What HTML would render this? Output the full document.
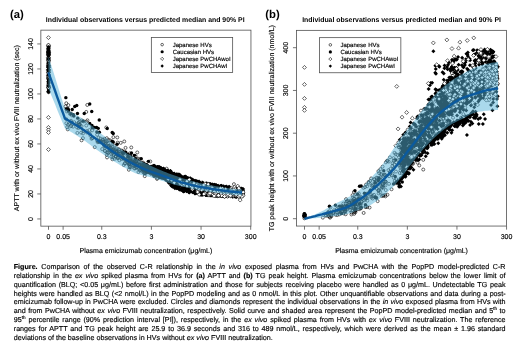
<!DOCTYPE html>
<html><head><meta charset="utf-8"><title>Figure</title>
<style>
html,body{margin:0;padding:0;background:#fff}
body{width:520px;height:347px;position:relative;overflow:hidden;font-family:"Liberation Sans",sans-serif;color:#000;text-rendering:geometricPrecision}
#w{position:absolute;left:0;top:0;width:520px;height:347px;will-change:transform}
svg{position:absolute;left:0;top:0;font-family:"Liberation Sans",sans-serif}
.box{fill:none;stroke:#505050;stroke-width:0.8}
.tk{stroke:#505050;stroke-width:0.8;fill:none}
.t{font-size:7px;fill:#000;stroke:#000;stroke-width:0.15px}
.lg{font-size:6.0px;fill:#000;stroke:#000;stroke-width:0.15px}
.ttl{font-size:6.92px;font-weight:bold;fill:#000}
.pl{font-size:11.3px;font-weight:bold;fill:#000}
.p{fill:#000;stroke:none}
.p .o{fill:none;stroke:#000;stroke-width:0.6}
.p .w{fill:#fff}
.band{fill:rgba(86,180,218,0.5);stroke:none}
.med{fill:none;stroke:#0b5a9e;stroke-width:2.4;stroke-linejoin:round;stroke-linecap:butt}
.cl{position:absolute;left:13.75px;width:491.8px;font-size:7.17px;line-height:8.81px;height:8.81px;white-space:nowrap;text-align:justify;text-align-last:justify;color:#000;-webkit-text-stroke:0.15px #000}
.cl.last{text-align:left;text-align-last:left}
.cl sup{font-size:4.6px;line-height:0;vertical-align:2.6px}
</style></head><body><div id="w">
<svg width="520" height="347" viewBox="0 0 520 347">
<g transform="translate(0.25,0.45)">
<text class="pl" x="9.8" y="17.6">(a)</text><text class="pl" x="265" y="17.6">(b)</text>
<rect class="box" x="40.6" y="29.7" width="210.10" height="196.00"/>
<path class="tk" d="M48.25,225.7v3.6"/>
<text class="t" x="48.25" y="238.9" text-anchor="middle">0</text>
<path class="tk" d="M62.86,225.7v3.6"/>
<text class="t" x="62.86" y="238.9" text-anchor="middle">0.05</text>
<path class="tk" d="M101.50,225.7v3.6"/>
<text class="t" x="101.50" y="238.9" text-anchor="middle">0.3</text>
<path class="tk" d="M151.15,225.7v3.6"/>
<text class="t" x="151.15" y="238.9" text-anchor="middle">3</text>
<path class="tk" d="M200.80,225.7v3.6"/>
<text class="t" x="200.80" y="238.9" text-anchor="middle">30</text>
<path class="tk" d="M250.45,225.7v3.6"/>
<text class="t" x="250.45" y="238.9" text-anchor="middle">300</text>
<path class="tk" d="M40.6,218.50h-3.6"/>
<text class="t" transform="translate(32.6,218.50) rotate(-90)" text-anchor="middle">0</text>
<path class="tk" d="M40.6,193.50h-3.6"/>
<text class="t" transform="translate(32.6,193.50) rotate(-90)" text-anchor="middle">20</text>
<path class="tk" d="M40.6,168.50h-3.6"/>
<text class="t" transform="translate(32.6,168.50) rotate(-90)" text-anchor="middle">40</text>
<path class="tk" d="M40.6,143.50h-3.6"/>
<text class="t" transform="translate(32.6,143.50) rotate(-90)" text-anchor="middle">60</text>
<path class="tk" d="M40.6,118.50h-3.6"/>
<text class="t" transform="translate(32.6,118.50) rotate(-90)" text-anchor="middle">80</text>
<path class="tk" d="M40.6,93.50h-3.6"/>
<text class="t" transform="translate(32.6,93.50) rotate(-90)" text-anchor="middle">100</text>
<path class="tk" d="M40.6,68.50h-3.6"/>
<text class="t" transform="translate(32.6,68.50) rotate(-90)" text-anchor="middle">120</text>
<path class="tk" d="M40.6,43.50h-3.6"/>
<text class="t" transform="translate(32.6,43.50) rotate(-90)" text-anchor="middle">140</text>
<text class="t" transform="translate(18.7,127.70) rotate(-90)" text-anchor="middle">APTT with or without ex vivo FVIII neutralization (sec)</text>
<text class="t" x="145.65" y="253" text-anchor="middle">Plasma emicizumab concentration (μg/mL)</text>
<text class="ttl" x="45.55" y="21.8">Individual observations versus predicted median and 90% PI</text>
<rect class="box" x="296.3" y="29.9" width="210.00" height="195.70"/>
<path class="tk" d="M304.25,225.6v3.6"/>
<text class="t" x="304.25" y="238.9" text-anchor="middle">0</text>
<path class="tk" d="M318.90,225.6v3.6"/>
<text class="t" x="318.90" y="238.9" text-anchor="middle">0.05</text>
<path class="tk" d="M357.50,225.6v3.6"/>
<text class="t" x="357.50" y="238.9" text-anchor="middle">0.3</text>
<path class="tk" d="M407.10,225.6v3.6"/>
<text class="t" x="407.10" y="238.9" text-anchor="middle">3</text>
<path class="tk" d="M456.70,225.6v3.6"/>
<text class="t" x="456.70" y="238.9" text-anchor="middle">30</text>
<path class="tk" d="M506.30,225.6v3.6"/>
<text class="t" x="506.30" y="238.9" text-anchor="middle">300</text>
<path class="tk" d="M296.3,218.25h-3.6"/>
<text class="t" transform="translate(288.2,218.25) rotate(-90)" text-anchor="middle">0</text>
<path class="tk" d="M296.3,175.50h-3.6"/>
<text class="t" transform="translate(288.2,175.50) rotate(-90)" text-anchor="middle">100</text>
<path class="tk" d="M296.3,132.75h-3.6"/>
<text class="t" transform="translate(288.2,132.75) rotate(-90)" text-anchor="middle">200</text>
<path class="tk" d="M296.3,90.00h-3.6"/>
<text class="t" transform="translate(288.2,90.00) rotate(-90)" text-anchor="middle">300</text>
<path class="tk" d="M296.3,47.25h-3.6"/>
<text class="t" transform="translate(288.2,47.25) rotate(-90)" text-anchor="middle">400</text>
<text class="t" transform="translate(273.6,127.75) rotate(-90)" text-anchor="middle">TG peak height with or without ex vivo FVIII neutralization (nmol/L)</text>
<text class="t" x="401.30" y="253" text-anchor="middle">Plasma emicizumab concentration (μg/mL)</text>
<text class="ttl" x="301.9" y="21.8">Individual observations versus predicted median and 90% PI</text>
<g class="p"><circle class="o" cx="48.3" cy="66.4" r="1.5"/><circle class="o" cx="48.5" cy="57.3" r="1.5"/><circle class="o" cx="48.4" cy="48.0" r="1.5"/><circle class="o" cx="48.2" cy="87.0" r="1.5"/><circle class="o" cx="48.2" cy="64.6" r="1.5"/><circle class="o" cx="48.2" cy="51.1" r="1.5"/><circle class="o" cx="48.3" cy="76.3" r="1.5"/><circle class="o" cx="48.2" cy="53.7" r="1.5"/><circle class="o" cx="48.4" cy="87.3" r="1.5"/><circle class="o" cx="48.0" cy="54.4" r="1.5"/><circle class="o" cx="48.5" cy="45.6" r="1.5"/><circle class="o" cx="48.2" cy="53.6" r="1.5"/><circle class="o" cx="48.4" cy="60.6" r="1.5"/><circle class="o" cx="48.2" cy="66.5" r="1.5"/><circle class="o" cx="48.2" cy="87.5" r="1.5"/><circle class="o" cx="48.3" cy="77.5" r="1.5"/><circle class="o" cx="48.4" cy="60.3" r="1.5"/><circle class="o" cx="48.2" cy="44.8" r="1.5"/><circle class="o" cx="48.2" cy="51.7" r="1.5"/><circle class="o" cx="48.4" cy="91.8" r="1.5"/><circle class="o" cx="48.1" cy="66.1" r="1.5"/><circle class="o" cx="48.0" cy="77.2" r="1.5"/><circle class="o" cx="48.3" cy="46.6" r="1.5"/><circle class="o" cx="48.1" cy="45.6" r="1.5"/><circle class="o" cx="48.0" cy="84.6" r="1.5"/><circle class="o" cx="48.1" cy="72.2" r="1.5"/><circle class="o" cx="48.2" cy="58.8" r="1.5"/><circle class="o" cx="48.1" cy="59.2" r="1.5"/><circle class="o" cx="48.0" cy="48.3" r="1.5"/><circle class="o" cx="48.3" cy="52.3" r="1.5"/><circle cx="48.2" cy="67.1" r="1.7"/><circle cx="48.4" cy="81.8" r="1.7"/><circle cx="48.2" cy="86.5" r="1.7"/><circle cx="48.2" cy="80.6" r="1.7"/><circle cx="48.3" cy="49.5" r="1.7"/><circle cx="48.1" cy="63.5" r="1.7"/><circle cx="48.3" cy="55.0" r="1.7"/><circle cx="48.2" cy="90.9" r="1.7"/><circle cx="48.3" cy="54.2" r="1.7"/><circle cx="48.2" cy="58.5" r="1.7"/><circle cx="48.4" cy="63.4" r="1.7"/><circle cx="48.3" cy="50.6" r="1.7"/><circle cx="48.2" cy="85.4" r="1.7"/><circle cx="48.3" cy="75.4" r="1.7"/><circle cx="48.4" cy="54.9" r="1.7"/><circle cx="48.5" cy="69.4" r="1.7"/><circle cx="48.0" cy="51.4" r="1.7"/><circle cx="48.4" cy="74.3" r="1.7"/><circle cx="48.3" cy="58.0" r="1.7"/><circle cx="48.2" cy="49.7" r="1.7"/><circle cx="48.1" cy="53.0" r="1.7"/><circle cx="48.4" cy="71.9" r="1.7"/><circle cx="48.1" cy="75.4" r="1.7"/><circle cx="48.3" cy="62.0" r="1.7"/><circle cx="48.4" cy="75.7" r="1.7"/><circle cx="48.0" cy="63.1" r="1.7"/><circle cx="48.2" cy="53.6" r="1.7"/><circle cx="48.1" cy="61.6" r="1.7"/><circle cx="48.3" cy="65.0" r="1.7"/><circle cx="48.5" cy="87.2" r="1.7"/><circle cx="48.6" cy="53.0" r="1.7"/><circle cx="48.0" cy="51.7" r="1.7"/><circle cx="48.2" cy="72.1" r="1.7"/><circle cx="48.4" cy="89.4" r="1.7"/><circle cx="48.5" cy="87.0" r="1.7"/><circle cx="48.3" cy="78.1" r="1.7"/><circle cx="48.1" cy="50.9" r="1.7"/><circle cx="48.3" cy="82.7" r="1.7"/><circle cx="48.2" cy="77.4" r="1.7"/><circle cx="48.2" cy="54.2" r="1.7"/><path class="o w" d="M48.1,67.0l1.95,1.95l-1.95,1.95l-1.95,-1.95z"/><path class="o w" d="M48.1,49.6l1.95,1.95l-1.95,1.95l-1.95,-1.95z"/><path class="o w" d="M48.2,67.9l1.95,1.95l-1.95,1.95l-1.95,-1.95z"/><path class="o w" d="M48.1,55.2l1.95,1.95l-1.95,1.95l-1.95,-1.95z"/><path class="o w" d="M48.2,73.3l1.95,1.95l-1.95,1.95l-1.95,-1.95z"/><path class="o w" d="M48.2,52.0l1.95,1.95l-1.95,1.95l-1.95,-1.95z"/><path class="o w" d="M48.3,76.4l1.95,1.95l-1.95,1.95l-1.95,-1.95z"/><path class="o w" d="M48.2,58.0l1.95,1.95l-1.95,1.95l-1.95,-1.95z"/><path class="o w" d="M48.0,64.6l1.95,1.95l-1.95,1.95l-1.95,-1.95z"/><path class="o w" d="M48.2,70.4l1.95,1.95l-1.95,1.95l-1.95,-1.95z"/><path class="o w" d="M48.3,62.9l1.95,1.95l-1.95,1.95l-1.95,-1.95z"/><path class="o w" d="M48.4,50.4l1.95,1.95l-1.95,1.95l-1.95,-1.95z"/><path class="o w" d="M48.3,85.1l1.95,1.95l-1.95,1.95l-1.95,-1.95z"/><path class="o w" d="M48.2,42.7l1.95,1.95l-1.95,1.95l-1.95,-1.95z"/><path d="M48.4,48.2l2,2l-2,2l-2,-2z"/><path d="M48.1,72.5l2,2l-2,2l-2,-2z"/><path d="M48.3,64.9l2,2l-2,2l-2,-2z"/><path d="M48.2,63.7l2,2l-2,2l-2,-2z"/><path d="M48.3,83.2l2,2l-2,2l-2,-2z"/><path d="M48.4,50.3l2,2l-2,2l-2,-2z"/><path d="M48.3,72.4l2,2l-2,2l-2,-2z"/><path d="M48.3,63.0l2,2l-2,2l-2,-2z"/><path d="M48.3,68.3l2,2l-2,2l-2,-2z"/><path d="M48.2,67.0l2,2l-2,2l-2,-2z"/><path d="M48.2,50.2l2,2l-2,2l-2,-2z"/><path d="M48.2,67.6l2,2l-2,2l-2,-2z"/><path d="M48.3,83.7l2,2l-2,2l-2,-2z"/><path d="M48.3,51.9l2,2l-2,2l-2,-2z"/><path d="M48.3,44.5l2,2l-2,2l-2,-2z"/><path d="M48.1,47.1l2,2l-2,2l-2,-2z"/><path d="M48.4,65.2l2,2l-2,2l-2,-2z"/><path d="M48.1,88.8l2,2l-2,2l-2,-2z"/><path d="M48.1,46.0l2,2l-2,2l-2,-2z"/><path d="M48.2,89.6l2,2l-2,2l-2,-2z"/><path d="M48.2,68.7l2,2l-2,2l-2,-2z"/><path d="M48.3,49.5l2,2l-2,2l-2,-2z"/><path d="M48.2,63.3l2,2l-2,2l-2,-2z"/><path d="M48.1,53.5l2,2l-2,2l-2,-2z"/><path d="M48.1,76.9l2,2l-2,2l-2,-2z"/><path d="M48.4,68.9l2,2l-2,2l-2,-2z"/><path d="M48.3,57.2l2,2l-2,2l-2,-2z"/><path d="M48.1,55.7l2,2l-2,2l-2,-2z"/><path d="M48.3,83.9l2,2l-2,2l-2,-2z"/><path d="M48.0,79.2l2,2l-2,2l-2,-2z"/><path class="o w" d="M48.2,35.2l1.95,1.95l-1.95,1.95l-1.95,-1.95z"/><path class="o w" d="M48.2,115.0l1.95,1.95l-1.95,1.95l-1.95,-1.95z"/><path class="o w" d="M48.2,125.0l1.95,1.95l-1.95,1.95l-1.95,-1.95z"/><path class="o w" d="M48.2,127.5l1.95,1.95l-1.95,1.95l-1.95,-1.95z"/><path class="o w" d="M48.2,130.1l1.95,1.95l-1.95,1.95l-1.95,-1.95z"/><path class="o w" d="M48.2,147.1l1.95,1.95l-1.95,1.95l-1.95,-1.95z"/><circle class="o" cx="80.9" cy="132.2" r="1.5"/><circle class="o" cx="79.8" cy="124.1" r="1.5"/><circle class="o" cx="91.9" cy="129.9" r="1.5"/><circle class="o" cx="100.4" cy="140.5" r="1.5"/><circle class="o" cx="67.8" cy="124.3" r="1.5"/><circle class="o" cx="70.7" cy="113.0" r="1.5"/><circle class="o" cx="78.2" cy="122.7" r="1.5"/><circle class="o" cx="83.5" cy="121.0" r="1.5"/><circle class="o" cx="67.5" cy="128.9" r="1.5"/><circle class="o" cx="66.9" cy="126.7" r="1.5"/><circle class="o" cx="72.9" cy="126.2" r="1.5"/><circle class="o" cx="79.0" cy="124.5" r="1.5"/><circle class="o" cx="92.0" cy="137.4" r="1.5"/><circle class="o" cx="87.2" cy="119.9" r="1.5"/><circle class="o" cx="66.0" cy="118.6" r="1.5"/><circle class="o" cx="66.6" cy="111.0" r="1.5"/><circle class="o" cx="81.5" cy="120.0" r="1.5"/><circle class="o" cx="96.9" cy="134.3" r="1.5"/><circle class="o" cx="98.4" cy="137.3" r="1.5"/><circle class="o" cx="78.3" cy="127.6" r="1.5"/><circle class="o" cx="97.4" cy="141.7" r="1.5"/><circle class="o" cx="98.9" cy="140.8" r="1.5"/><circle class="o" cx="79.8" cy="120.9" r="1.5"/><circle class="o" cx="92.2" cy="137.6" r="1.5"/><circle class="o" cx="78.3" cy="124.1" r="1.5"/><circle class="o" cx="70.5" cy="125.8" r="1.5"/><circle class="o" cx="86.0" cy="125.1" r="1.5"/><circle class="o" cx="68.1" cy="104.7" r="1.5"/><circle class="o" cx="89.2" cy="129.6" r="1.5"/><circle class="o" cx="94.5" cy="146.7" r="1.5"/><circle class="o" cx="98.4" cy="141.4" r="1.5"/><circle class="o" cx="81.3" cy="125.7" r="1.5"/><circle class="o" cx="69.2" cy="123.5" r="1.5"/><circle class="o" cx="97.9" cy="141.2" r="1.5"/><circle class="o" cx="96.8" cy="140.0" r="1.5"/><circle class="o" cx="100.3" cy="138.1" r="1.5"/><circle class="o" cx="86.6" cy="130.6" r="1.5"/><circle class="o" cx="89.6" cy="133.3" r="1.5"/><circle class="o" cx="78.6" cy="121.6" r="1.5"/><circle class="o" cx="71.6" cy="114.9" r="1.5"/><circle class="o" cx="75.6" cy="123.7" r="1.5"/><circle class="o" cx="91.3" cy="138.4" r="1.5"/><circle class="o" cx="76.8" cy="127.1" r="1.5"/><circle class="o" cx="90.2" cy="135.3" r="1.5"/><circle class="o" cx="83.3" cy="130.6" r="1.5"/><circle class="o" cx="81.3" cy="139.9" r="1.5"/><circle class="o" cx="100.3" cy="141.8" r="1.5"/><circle class="o" cx="71.0" cy="125.4" r="1.5"/><circle class="o" cx="82.7" cy="137.7" r="1.5"/><circle class="o" cx="70.8" cy="120.3" r="1.5"/><circle class="o" cx="99.2" cy="141.0" r="1.5"/><circle class="o" cx="82.8" cy="133.0" r="1.5"/><circle class="o" cx="77.1" cy="132.5" r="1.5"/><circle class="o" cx="71.1" cy="121.8" r="1.5"/><circle class="o" cx="86.7" cy="132.1" r="1.5"/><circle class="o" cx="79.5" cy="126.0" r="1.5"/><circle class="o" cx="69.6" cy="113.3" r="1.5"/><circle class="o" cx="66.1" cy="122.8" r="1.5"/><circle class="o" cx="79.2" cy="124.0" r="1.5"/><circle class="o" cx="86.3" cy="121.2" r="1.5"/><circle class="o" cx="161.4" cy="173.8" r="1.5"/><circle class="o" cx="199.8" cy="182.7" r="1.5"/><circle class="o" cx="200.9" cy="184.2" r="1.5"/><circle class="o" cx="203.3" cy="186.5" r="1.5"/><circle class="o" cx="189.9" cy="181.8" r="1.5"/><circle class="o" cx="157.1" cy="175.4" r="1.5"/><circle class="o" cx="161.9" cy="170.7" r="1.5"/><circle class="o" cx="148.6" cy="170.4" r="1.5"/><circle class="o" cx="148.8" cy="171.3" r="1.5"/><circle class="o" cx="107.7" cy="152.9" r="1.5"/><circle class="o" cx="189.8" cy="185.4" r="1.5"/><circle class="o" cx="132.1" cy="162.7" r="1.5"/><circle class="o" cx="106.0" cy="145.4" r="1.5"/><circle class="o" cx="155.9" cy="172.1" r="1.5"/><circle class="o" cx="181.7" cy="183.9" r="1.5"/><circle class="o" cx="152.7" cy="169.3" r="1.5"/><circle class="o" cx="145.0" cy="169.8" r="1.5"/><circle class="o" cx="175.7" cy="179.4" r="1.5"/><circle class="o" cx="122.6" cy="157.3" r="1.5"/><circle class="o" cx="103.4" cy="141.8" r="1.5"/><circle class="o" cx="168.9" cy="182.1" r="1.5"/><circle class="o" cx="162.6" cy="173.0" r="1.5"/><circle class="o" cx="196.4" cy="185.6" r="1.5"/><circle class="o" cx="150.6" cy="171.2" r="1.5"/><circle class="o" cx="188.5" cy="184.5" r="1.5"/><circle class="o" cx="104.4" cy="145.9" r="1.5"/><circle class="o" cx="105.7" cy="146.8" r="1.5"/><circle class="o" cx="169.6" cy="179.7" r="1.5"/><circle class="o" cx="129.9" cy="154.8" r="1.5"/><circle class="o" cx="111.0" cy="148.8" r="1.5"/><circle class="o" cx="118.5" cy="148.8" r="1.5"/><circle class="o" cx="146.2" cy="169.3" r="1.5"/><circle class="o" cx="142.1" cy="162.9" r="1.5"/><circle class="o" cx="166.0" cy="173.6" r="1.5"/><circle class="o" cx="198.5" cy="185.5" r="1.5"/><circle class="o" cx="145.2" cy="172.6" r="1.5"/><circle class="o" cx="125.1" cy="160.1" r="1.5"/><circle class="o" cx="167.5" cy="177.2" r="1.5"/><circle class="o" cx="101.9" cy="148.6" r="1.5"/><circle class="o" cx="147.2" cy="166.2" r="1.5"/><circle class="o" cx="139.9" cy="158.6" r="1.5"/><circle class="o" cx="147.5" cy="167.9" r="1.5"/><circle class="o" cx="108.9" cy="146.0" r="1.5"/><circle class="o" cx="165.0" cy="178.6" r="1.5"/><circle class="o" cx="172.2" cy="183.3" r="1.5"/><circle class="o" cx="184.8" cy="179.6" r="1.5"/><circle class="o" cx="205.4" cy="191.2" r="1.5"/><circle class="o" cx="144.0" cy="172.7" r="1.5"/><circle class="o" cx="175.5" cy="181.4" r="1.5"/><circle class="o" cx="153.3" cy="172.4" r="1.5"/><circle class="o" cx="128.6" cy="169.3" r="1.5"/><circle class="o" cx="198.7" cy="185.8" r="1.5"/><circle class="o" cx="184.5" cy="181.3" r="1.5"/><circle class="o" cx="204.0" cy="186.9" r="1.5"/><circle class="o" cx="192.0" cy="181.5" r="1.5"/><circle class="o" cx="201.5" cy="187.0" r="1.5"/><circle class="o" cx="118.5" cy="153.4" r="1.5"/><circle class="o" cx="104.1" cy="145.1" r="1.5"/><circle class="o" cx="126.7" cy="160.2" r="1.5"/><circle class="o" cx="150.2" cy="167.2" r="1.5"/><circle class="o" cx="178.6" cy="183.5" r="1.5"/><circle class="o" cx="152.9" cy="168.4" r="1.5"/><circle class="o" cx="160.8" cy="176.2" r="1.5"/><circle class="o" cx="186.0" cy="179.4" r="1.5"/><circle class="o" cx="111.4" cy="150.7" r="1.5"/><circle class="o" cx="177.7" cy="178.4" r="1.5"/><circle class="o" cx="108.6" cy="147.2" r="1.5"/><circle class="o" cx="132.4" cy="159.5" r="1.5"/><circle class="o" cx="182.1" cy="176.9" r="1.5"/><circle class="o" cx="178.2" cy="178.0" r="1.5"/><circle class="o" cx="149.4" cy="170.2" r="1.5"/><circle class="o" cx="137.5" cy="166.9" r="1.5"/><circle class="o" cx="192.7" cy="181.5" r="1.5"/><circle class="o" cx="135.3" cy="155.7" r="1.5"/><circle class="o" cx="106.3" cy="141.3" r="1.5"/><circle class="o" cx="132.2" cy="161.1" r="1.5"/><circle class="o" cx="104.9" cy="141.2" r="1.5"/><circle class="o" cx="190.9" cy="182.3" r="1.5"/><circle class="o" cx="117.8" cy="157.0" r="1.5"/><circle class="o" cx="207.0" cy="188.9" r="1.5"/><circle class="o" cx="128.4" cy="162.7" r="1.5"/><circle class="o" cx="138.7" cy="162.0" r="1.5"/><circle class="o" cx="168.2" cy="177.0" r="1.5"/><circle class="o" cx="139.0" cy="164.7" r="1.5"/><circle class="o" cx="146.7" cy="164.5" r="1.5"/><circle class="o" cx="115.6" cy="155.7" r="1.5"/><circle class="o" cx="147.7" cy="169.5" r="1.5"/><circle class="o" cx="105.4" cy="142.4" r="1.5"/><circle class="o" cx="129.6" cy="166.0" r="1.5"/><circle class="o" cx="200.7" cy="187.4" r="1.5"/><circle class="o" cx="135.9" cy="167.1" r="1.5"/><circle class="o" cx="134.9" cy="167.9" r="1.5"/><circle class="o" cx="177.8" cy="181.9" r="1.5"/><circle class="o" cx="198.1" cy="183.2" r="1.5"/><circle class="o" cx="137.6" cy="163.3" r="1.5"/><circle class="o" cx="146.3" cy="171.8" r="1.5"/><circle class="o" cx="181.4" cy="179.7" r="1.5"/><circle class="o" cx="189.1" cy="183.5" r="1.5"/><circle class="o" cx="171.1" cy="178.9" r="1.5"/><circle class="o" cx="124.5" cy="163.2" r="1.5"/><circle class="o" cx="124.7" cy="162.8" r="1.5"/><circle class="o" cx="185.7" cy="184.4" r="1.5"/><circle class="o" cx="180.6" cy="180.7" r="1.5"/><circle class="o" cx="199.4" cy="187.4" r="1.5"/><circle class="o" cx="187.9" cy="184.2" r="1.5"/><circle class="o" cx="151.1" cy="170.1" r="1.5"/><circle class="o" cx="119.1" cy="159.8" r="1.5"/><circle class="o" cx="198.8" cy="186.5" r="1.5"/><circle class="o" cx="179.4" cy="179.2" r="1.5"/><circle class="o" cx="167.3" cy="179.5" r="1.5"/><circle class="o" cx="178.0" cy="179.8" r="1.5"/><circle class="o" cx="147.3" cy="170.9" r="1.5"/><circle class="o" cx="142.8" cy="162.1" r="1.5"/><circle class="o" cx="167.2" cy="176.4" r="1.5"/><circle class="o" cx="157.6" cy="170.3" r="1.5"/><circle class="o" cx="180.8" cy="179.1" r="1.5"/><circle class="o" cx="203.3" cy="183.1" r="1.5"/><circle class="o" cx="194.6" cy="188.8" r="1.5"/><circle class="o" cx="147.5" cy="168.7" r="1.5"/><circle class="o" cx="145.9" cy="169.3" r="1.5"/><circle class="o" cx="202.4" cy="188.3" r="1.5"/><circle class="o" cx="148.3" cy="169.1" r="1.5"/><circle class="o" cx="189.9" cy="184.7" r="1.5"/><circle class="o" cx="114.2" cy="145.3" r="1.5"/><circle class="o" cx="154.3" cy="172.2" r="1.5"/><circle class="o" cx="161.1" cy="173.0" r="1.5"/><circle class="o" cx="190.8" cy="184.8" r="1.5"/><circle class="o" cx="197.6" cy="185.7" r="1.5"/><circle class="o" cx="121.4" cy="150.1" r="1.5"/><circle class="o" cx="171.5" cy="173.8" r="1.5"/><circle class="o" cx="172.7" cy="176.2" r="1.5"/><circle class="o" cx="121.3" cy="158.6" r="1.5"/><circle class="o" cx="193.2" cy="185.2" r="1.5"/><circle class="o" cx="164.9" cy="176.5" r="1.5"/><circle class="o" cx="205.8" cy="183.5" r="1.5"/><circle class="o" cx="125.3" cy="147.4" r="1.5"/><circle class="o" cx="162.0" cy="172.8" r="1.5"/><circle class="o" cx="140.6" cy="165.0" r="1.5"/><circle class="o" cx="174.1" cy="177.6" r="1.5"/><circle class="o" cx="170.5" cy="178.5" r="1.5"/><circle class="o" cx="160.7" cy="173.5" r="1.5"/><circle class="o" cx="140.8" cy="162.2" r="1.5"/><circle class="o" cx="159.8" cy="171.3" r="1.5"/><circle class="o" cx="145.9" cy="168.9" r="1.5"/><circle class="o" cx="198.9" cy="185.8" r="1.5"/><circle class="o" cx="155.4" cy="171.8" r="1.5"/><circle class="o" cx="156.8" cy="178.5" r="1.5"/><circle class="o" cx="133.5" cy="161.6" r="1.5"/><circle class="o" cx="133.0" cy="162.8" r="1.5"/><circle class="o" cx="205.0" cy="185.1" r="1.5"/><circle class="o" cx="139.6" cy="164.4" r="1.5"/><circle class="o" cx="196.7" cy="186.1" r="1.5"/><circle class="o" cx="169.2" cy="178.5" r="1.5"/><circle class="o" cx="207.6" cy="187.0" r="1.5"/><circle class="o" cx="122.7" cy="158.0" r="1.5"/><circle class="o" cx="203.8" cy="186.7" r="1.5"/><circle class="o" cx="187.1" cy="179.1" r="1.5"/><circle class="o" cx="166.4" cy="168.2" r="1.5"/><circle class="o" cx="180.8" cy="186.2" r="1.5"/><circle class="o" cx="182.1" cy="183.3" r="1.5"/><circle class="o" cx="154.0" cy="171.4" r="1.5"/><circle class="o" cx="173.2" cy="174.7" r="1.5"/><circle class="o" cx="130.1" cy="155.8" r="1.5"/><circle class="o" cx="104.9" cy="150.5" r="1.5"/><circle class="o" cx="177.5" cy="174.0" r="1.5"/><circle class="o" cx="156.7" cy="171.6" r="1.5"/><circle class="o" cx="200.3" cy="187.5" r="1.5"/><circle class="o" cx="134.1" cy="163.5" r="1.5"/><circle class="o" cx="191.7" cy="185.5" r="1.5"/><circle class="o" cx="208.2" cy="187.2" r="1.5"/><circle class="o" cx="199.6" cy="190.1" r="1.5"/><circle class="o" cx="206.1" cy="185.2" r="1.5"/><circle class="o" cx="122.2" cy="150.6" r="1.5"/><circle class="o" cx="122.9" cy="157.6" r="1.5"/><circle class="o" cx="130.1" cy="166.2" r="1.5"/><circle class="o" cx="144.7" cy="167.8" r="1.5"/><circle class="o" cx="117.0" cy="157.2" r="1.5"/><circle class="o" cx="121.2" cy="153.3" r="1.5"/><circle class="o" cx="104.5" cy="138.3" r="1.5"/><circle class="o" cx="203.0" cy="188.9" r="1.5"/><circle class="o" cx="144.7" cy="172.9" r="1.5"/><circle class="o" cx="172.4" cy="181.9" r="1.5"/><circle class="o" cx="154.6" cy="170.6" r="1.5"/><circle class="o" cx="184.2" cy="179.7" r="1.5"/><circle class="o" cx="190.5" cy="181.4" r="1.5"/><circle class="o" cx="147.0" cy="168.3" r="1.5"/><circle class="o" cx="163.1" cy="176.2" r="1.5"/><circle class="o" cx="114.8" cy="153.5" r="1.5"/><circle class="o" cx="136.5" cy="158.9" r="1.5"/><circle class="o" cx="129.5" cy="161.1" r="1.5"/><circle class="o" cx="139.0" cy="165.4" r="1.5"/><circle class="o" cx="140.7" cy="166.5" r="1.5"/><circle class="o" cx="167.2" cy="176.3" r="1.5"/><circle class="o" cx="141.6" cy="165.9" r="1.5"/><circle class="o" cx="141.0" cy="168.3" r="1.5"/><circle class="o" cx="193.0" cy="184.6" r="1.5"/><circle class="o" cx="103.5" cy="144.2" r="1.5"/><circle class="o" cx="102.5" cy="139.0" r="1.5"/><circle class="o" cx="109.7" cy="149.5" r="1.5"/><circle class="o" cx="196.4" cy="184.9" r="1.5"/><circle class="o" cx="173.2" cy="173.8" r="1.5"/><circle class="o" cx="182.7" cy="182.7" r="1.5"/><circle class="o" cx="205.4" cy="186.4" r="1.5"/><circle class="o" cx="128.9" cy="163.6" r="1.5"/><circle class="o" cx="201.7" cy="185.9" r="1.5"/><circle class="o" cx="131.7" cy="161.2" r="1.5"/><circle class="o" cx="161.4" cy="174.7" r="1.5"/><circle class="o" cx="178.0" cy="180.3" r="1.5"/><circle class="o" cx="189.6" cy="182.7" r="1.5"/><circle class="o" cx="132.3" cy="155.1" r="1.5"/><circle class="o" cx="157.0" cy="177.4" r="1.5"/><circle class="o" cx="108.2" cy="139.6" r="1.5"/><circle class="o" cx="136.7" cy="163.0" r="1.5"/><circle class="o" cx="207.7" cy="188.4" r="1.5"/><circle class="o" cx="200.3" cy="186.6" r="1.5"/><circle class="o" cx="167.9" cy="178.0" r="1.5"/><circle class="o" cx="188.5" cy="184.8" r="1.5"/><circle class="o" cx="200.0" cy="188.1" r="1.5"/><circle class="o" cx="141.5" cy="167.6" r="1.5"/><circle class="o" cx="207.6" cy="192.3" r="1.5"/><circle class="o" cx="154.0" cy="168.8" r="1.5"/><circle class="o" cx="122.1" cy="157.0" r="1.5"/><circle class="o" cx="162.5" cy="173.7" r="1.5"/><circle class="o" cx="169.1" cy="175.8" r="1.5"/><circle class="o" cx="179.2" cy="181.3" r="1.5"/><circle class="o" cx="176.9" cy="183.2" r="1.5"/><circle class="o" cx="107.7" cy="143.0" r="1.5"/><circle class="o" cx="173.7" cy="177.2" r="1.5"/><circle class="o" cx="201.9" cy="187.5" r="1.5"/><circle class="o" cx="176.9" cy="181.2" r="1.5"/><circle class="o" cx="207.1" cy="190.6" r="1.5"/><circle class="o" cx="160.6" cy="176.5" r="1.5"/><circle class="o" cx="190.9" cy="184.3" r="1.5"/><circle class="o" cx="119.9" cy="153.4" r="1.5"/><circle class="o" cx="199.3" cy="186.1" r="1.5"/><circle class="o" cx="152.7" cy="170.6" r="1.5"/><circle class="o" cx="197.5" cy="182.8" r="1.5"/><circle class="o" cx="140.3" cy="166.0" r="1.5"/><circle class="o" cx="172.2" cy="177.9" r="1.5"/><circle class="o" cx="194.5" cy="184.2" r="1.5"/><circle class="o" cx="181.0" cy="180.3" r="1.5"/><circle class="o" cx="171.8" cy="182.1" r="1.5"/><circle class="o" cx="206.7" cy="188.3" r="1.5"/><circle class="o" cx="113.6" cy="154.6" r="1.5"/><circle class="o" cx="115.3" cy="149.2" r="1.5"/><circle class="o" cx="164.7" cy="172.9" r="1.5"/><circle class="o" cx="205.1" cy="186.3" r="1.5"/><circle class="o" cx="178.5" cy="181.0" r="1.5"/><circle class="o" cx="139.1" cy="164.2" r="1.5"/><circle class="o" cx="116.0" cy="151.4" r="1.5"/><circle class="o" cx="154.0" cy="174.2" r="1.5"/><circle class="o" cx="157.3" cy="173.5" r="1.5"/><circle class="o" cx="156.1" cy="169.7" r="1.5"/><circle class="o" cx="171.7" cy="177.1" r="1.5"/><circle class="o" cx="135.1" cy="161.0" r="1.5"/><circle class="o" cx="197.8" cy="185.7" r="1.5"/><circle class="o" cx="136.8" cy="160.0" r="1.5"/><circle class="o" cx="116.0" cy="151.4" r="1.5"/><circle class="o" cx="143.4" cy="169.6" r="1.5"/><circle class="o" cx="203.3" cy="186.5" r="1.5"/><circle class="o" cx="122.2" cy="152.4" r="1.5"/><circle class="o" cx="135.6" cy="161.4" r="1.5"/><circle class="o" cx="202.4" cy="186.5" r="1.5"/><circle class="o" cx="143.3" cy="168.9" r="1.5"/><circle class="o" cx="194.2" cy="186.2" r="1.5"/><circle class="o" cx="108.2" cy="146.0" r="1.5"/><circle class="o" cx="198.6" cy="183.2" r="1.5"/><circle class="o" cx="131.1" cy="166.8" r="1.5"/><circle class="o" cx="124.7" cy="158.7" r="1.5"/><circle class="o" cx="184.1" cy="183.0" r="1.5"/><circle class="o" cx="208.5" cy="188.0" r="1.5"/><circle class="o" cx="205.6" cy="185.1" r="1.5"/><circle class="o" cx="185.1" cy="181.7" r="1.5"/><circle class="o" cx="201.2" cy="186.6" r="1.5"/><circle class="o" cx="208.3" cy="189.2" r="1.5"/><circle class="o" cx="164.9" cy="175.6" r="1.5"/><circle class="o" cx="120.5" cy="142.4" r="1.5"/><circle class="o" cx="194.8" cy="184.3" r="1.5"/><circle class="o" cx="148.4" cy="170.6" r="1.5"/><circle class="o" cx="139.4" cy="170.1" r="1.5"/><circle class="o" cx="159.5" cy="175.3" r="1.5"/><circle class="o" cx="106.8" cy="157.0" r="1.5"/><circle class="o" cx="104.5" cy="150.5" r="1.5"/><circle class="o" cx="134.1" cy="168.0" r="1.5"/><circle class="o" cx="169.3" cy="179.4" r="1.5"/><circle class="o" cx="184.8" cy="179.4" r="1.5"/><circle class="o" cx="205.4" cy="188.4" r="1.5"/><circle class="o" cx="191.7" cy="185.2" r="1.5"/><circle class="o" cx="203.8" cy="185.7" r="1.5"/><circle class="o" cx="173.4" cy="180.1" r="1.5"/><circle class="o" cx="183.3" cy="182.8" r="1.5"/><circle class="o" cx="168.4" cy="175.8" r="1.5"/><circle class="o" cx="112.8" cy="149.5" r="1.5"/><circle class="o" cx="110.3" cy="147.1" r="1.5"/><circle class="o" cx="185.9" cy="183.1" r="1.5"/><circle class="o" cx="127.1" cy="157.4" r="1.5"/><circle class="o" cx="188.9" cy="184.4" r="1.5"/><circle class="o" cx="155.6" cy="167.0" r="1.5"/><circle class="o" cx="102.7" cy="141.1" r="1.5"/><circle class="o" cx="165.8" cy="171.8" r="1.5"/><circle class="o" cx="153.4" cy="170.0" r="1.5"/><circle class="o" cx="111.9" cy="151.6" r="1.5"/><circle class="o" cx="133.8" cy="162.8" r="1.5"/><circle class="o" cx="138.8" cy="164.9" r="1.5"/><circle class="o" cx="143.0" cy="167.5" r="1.5"/><circle class="o" cx="180.6" cy="184.5" r="1.5"/><circle class="o" cx="123.1" cy="152.2" r="1.5"/><circle class="o" cx="153.5" cy="173.8" r="1.5"/><circle class="o" cx="170.4" cy="174.1" r="1.5"/><circle class="o" cx="204.3" cy="185.9" r="1.5"/><circle class="o" cx="116.9" cy="153.5" r="1.5"/><circle class="o" cx="112.5" cy="146.2" r="1.5"/><circle class="o" cx="125.9" cy="159.1" r="1.5"/><circle class="o" cx="129.2" cy="163.0" r="1.5"/><circle class="o" cx="122.6" cy="151.6" r="1.5"/><circle class="o" cx="112.1" cy="149.2" r="1.5"/><circle class="o" cx="128.0" cy="158.0" r="1.5"/><circle class="o" cx="129.5" cy="152.9" r="1.5"/><circle class="o" cx="157.3" cy="172.2" r="1.5"/><circle class="o" cx="174.6" cy="177.4" r="1.5"/><circle class="o" cx="145.0" cy="172.3" r="1.5"/><circle class="o" cx="123.2" cy="153.2" r="1.5"/><circle class="o" cx="114.4" cy="158.4" r="1.5"/><circle class="o" cx="134.0" cy="160.8" r="1.5"/><circle class="o" cx="123.5" cy="164.6" r="1.5"/><circle class="o" cx="157.4" cy="174.1" r="1.5"/><circle class="o" cx="196.9" cy="186.1" r="1.5"/><circle class="o" cx="181.5" cy="183.1" r="1.5"/><circle class="o" cx="127.3" cy="162.6" r="1.5"/><circle class="o" cx="106.9" cy="152.1" r="1.5"/><circle class="o" cx="111.1" cy="156.3" r="1.5"/><circle class="o" cx="152.7" cy="170.1" r="1.5"/><circle class="o" cx="145.0" cy="164.1" r="1.5"/><circle class="o" cx="178.1" cy="174.5" r="1.5"/><circle class="o" cx="113.1" cy="148.6" r="1.5"/><circle class="o" cx="133.0" cy="165.2" r="1.5"/><circle class="o" cx="178.4" cy="181.3" r="1.5"/><circle class="o" cx="166.4" cy="176.4" r="1.5"/><circle class="o" cx="161.1" cy="173.2" r="1.5"/><circle class="o" cx="199.9" cy="184.7" r="1.5"/><circle class="o" cx="116.7" cy="151.5" r="1.5"/><circle class="o" cx="126.4" cy="160.1" r="1.5"/><circle class="o" cx="166.2" cy="171.7" r="1.5"/><circle class="o" cx="166.2" cy="177.8" r="1.5"/><circle class="o" cx="207.6" cy="184.8" r="1.5"/><circle class="o" cx="207.3" cy="187.0" r="1.5"/><circle class="o" cx="168.4" cy="175.4" r="1.5"/><circle class="o" cx="185.8" cy="181.8" r="1.5"/><circle class="o" cx="179.6" cy="178.5" r="1.5"/><circle class="o" cx="119.1" cy="149.5" r="1.5"/><circle class="o" cx="170.0" cy="176.9" r="1.5"/><circle class="o" cx="138.7" cy="161.4" r="1.5"/><circle class="o" cx="144.5" cy="175.7" r="1.5"/><circle class="o" cx="121.8" cy="154.2" r="1.5"/><circle class="o" cx="103.0" cy="139.5" r="1.5"/><circle class="o" cx="195.2" cy="183.8" r="1.5"/><circle class="o" cx="181.6" cy="179.1" r="1.5"/><circle class="o" cx="185.1" cy="177.3" r="1.5"/><circle class="o" cx="136.7" cy="163.3" r="1.5"/><circle class="o" cx="150.7" cy="171.3" r="1.5"/><circle class="o" cx="124.1" cy="151.3" r="1.5"/><circle class="o" cx="169.9" cy="177.5" r="1.5"/><circle class="o" cx="193.8" cy="182.2" r="1.5"/><circle class="o" cx="187.8" cy="183.0" r="1.5"/><circle class="o" cx="203.1" cy="187.1" r="1.5"/><circle class="o" cx="133.7" cy="164.5" r="1.5"/><circle class="o" cx="180.0" cy="181.9" r="1.5"/><circle class="o" cx="118.3" cy="150.8" r="1.5"/><circle class="o" cx="163.2" cy="177.0" r="1.5"/><circle class="o" cx="116.4" cy="150.5" r="1.5"/><circle class="o" cx="163.6" cy="175.8" r="1.5"/><circle class="o" cx="163.8" cy="176.8" r="1.5"/><circle class="o" cx="143.2" cy="166.3" r="1.5"/><circle class="o" cx="143.4" cy="163.2" r="1.5"/><circle class="o" cx="181.0" cy="182.5" r="1.5"/><circle class="o" cx="157.4" cy="169.8" r="1.5"/><circle class="o" cx="149.7" cy="167.4" r="1.5"/><circle class="o" cx="116.6" cy="148.0" r="1.5"/><circle class="o" cx="136.1" cy="167.0" r="1.5"/><circle class="o" cx="194.6" cy="184.4" r="1.5"/><circle class="o" cx="206.8" cy="183.2" r="1.5"/><circle class="o" cx="146.0" cy="170.8" r="1.5"/><circle class="o" cx="196.9" cy="189.0" r="1.5"/><circle class="o" cx="197.2" cy="188.6" r="1.5"/><circle class="o" cx="128.9" cy="157.8" r="1.5"/><circle class="o" cx="135.2" cy="163.7" r="1.5"/><circle class="o" cx="179.5" cy="181.9" r="1.5"/><circle class="o" cx="138.7" cy="168.4" r="1.5"/><circle class="o" cx="205.2" cy="186.9" r="1.5"/><circle class="o" cx="145.1" cy="164.7" r="1.5"/><circle class="o" cx="182.9" cy="183.4" r="1.5"/><circle class="o" cx="180.6" cy="182.4" r="1.5"/><circle class="o" cx="128.4" cy="154.5" r="1.5"/><circle class="o" cx="196.4" cy="184.4" r="1.5"/><circle class="o" cx="141.2" cy="167.3" r="1.5"/><circle class="o" cx="116.3" cy="152.4" r="1.5"/><circle class="o" cx="108.8" cy="149.4" r="1.5"/><circle class="o" cx="154.4" cy="173.8" r="1.5"/><circle class="o" cx="173.1" cy="179.9" r="1.5"/><circle class="o" cx="134.9" cy="162.9" r="1.5"/><circle class="o" cx="194.0" cy="182.0" r="1.5"/><circle class="o" cx="134.5" cy="165.4" r="1.5"/><circle class="o" cx="194.6" cy="187.3" r="1.5"/><circle class="o" cx="106.5" cy="154.4" r="1.5"/><circle class="o" cx="133.9" cy="162.7" r="1.5"/><circle class="o" cx="122.2" cy="155.9" r="1.5"/><circle class="o" cx="153.9" cy="175.4" r="1.5"/><circle class="o" cx="143.6" cy="172.1" r="1.5"/><circle class="o" cx="148.3" cy="170.4" r="1.5"/><circle class="o" cx="195.0" cy="186.1" r="1.5"/><circle class="o" cx="167.6" cy="174.7" r="1.5"/><circle class="o" cx="170.3" cy="178.9" r="1.5"/><circle class="o" cx="147.8" cy="166.8" r="1.5"/><circle class="o" cx="190.7" cy="183.5" r="1.5"/><circle class="o" cx="159.6" cy="173.1" r="1.5"/><circle class="o" cx="184.5" cy="181.2" r="1.5"/><circle class="o" cx="201.2" cy="182.3" r="1.5"/><circle class="o" cx="171.0" cy="175.9" r="1.5"/><circle class="o" cx="152.6" cy="172.0" r="1.5"/><circle class="o" cx="134.0" cy="162.6" r="1.5"/><circle class="o" cx="200.9" cy="185.3" r="1.5"/><circle class="o" cx="186.4" cy="183.6" r="1.5"/><circle class="o" cx="189.8" cy="184.9" r="1.5"/><circle class="o" cx="129.3" cy="163.5" r="1.5"/><circle class="o" cx="152.8" cy="168.9" r="1.5"/><circle class="o" cx="198.2" cy="185.5" r="1.5"/><circle class="o" cx="132.1" cy="160.5" r="1.5"/><circle class="o" cx="191.3" cy="182.2" r="1.5"/><circle class="o" cx="163.4" cy="171.2" r="1.5"/><circle class="o" cx="129.0" cy="159.7" r="1.5"/><circle class="o" cx="146.2" cy="165.9" r="1.5"/><circle class="o" cx="112.2" cy="158.8" r="1.5"/><circle class="o" cx="177.2" cy="179.8" r="1.5"/><circle class="o" cx="182.6" cy="181.2" r="1.5"/><circle class="o" cx="106.0" cy="143.0" r="1.5"/><circle class="o" cx="138.2" cy="171.6" r="1.5"/><circle class="o" cx="186.8" cy="180.9" r="1.5"/><circle class="o" cx="126.9" cy="158.2" r="1.5"/><circle class="o" cx="163.2" cy="172.9" r="1.5"/><circle class="o" cx="190.5" cy="183.5" r="1.5"/><circle class="o" cx="166.6" cy="176.1" r="1.5"/><circle class="o" cx="117.8" cy="157.8" r="1.5"/><circle class="o" cx="200.7" cy="183.4" r="1.5"/><circle class="o" cx="184.6" cy="182.2" r="1.5"/><circle class="o" cx="166.1" cy="179.8" r="1.5"/><circle class="o" cx="141.6" cy="164.8" r="1.5"/><circle class="o" cx="167.9" cy="176.2" r="1.5"/><circle class="o" cx="148.0" cy="166.6" r="1.5"/><circle class="o" cx="117.4" cy="142.2" r="1.5"/><circle class="o" cx="117.8" cy="152.9" r="1.5"/><circle class="o" cx="108.2" cy="151.9" r="1.5"/><circle class="o" cx="123.5" cy="154.9" r="1.5"/><circle class="o" cx="132.0" cy="154.7" r="1.5"/><circle class="o" cx="173.3" cy="179.3" r="1.5"/><circle class="o" cx="167.7" cy="176.7" r="1.5"/><circle class="o" cx="168.8" cy="179.3" r="1.5"/><circle class="o" cx="192.1" cy="185.9" r="1.5"/><circle class="o" cx="114.5" cy="150.0" r="1.5"/><circle class="o" cx="147.7" cy="170.4" r="1.5"/><circle class="o" cx="112.5" cy="142.0" r="1.5"/><circle class="o" cx="150.9" cy="173.6" r="1.5"/><circle class="o" cx="112.5" cy="150.5" r="1.5"/><circle class="o" cx="110.9" cy="153.3" r="1.5"/><circle class="o" cx="115.6" cy="156.3" r="1.5"/><circle class="o" cx="147.8" cy="168.4" r="1.5"/><circle class="o" cx="186.2" cy="182.3" r="1.5"/><circle class="o" cx="136.1" cy="160.6" r="1.5"/><circle class="o" cx="184.1" cy="177.7" r="1.5"/><circle class="o" cx="130.7" cy="160.5" r="1.5"/><circle class="o" cx="136.7" cy="164.7" r="1.5"/><circle class="o" cx="156.4" cy="169.5" r="1.5"/><circle class="o" cx="112.0" cy="152.5" r="1.5"/><circle class="o" cx="154.0" cy="171.8" r="1.5"/><circle class="o" cx="168.0" cy="177.8" r="1.5"/><circle class="o" cx="192.3" cy="182.7" r="1.5"/><circle class="o" cx="109.6" cy="139.8" r="1.5"/><circle class="o" cx="189.9" cy="185.1" r="1.5"/><circle class="o" cx="166.6" cy="177.6" r="1.5"/><circle class="o" cx="167.5" cy="176.2" r="1.5"/><circle class="o" cx="108.9" cy="145.3" r="1.5"/><circle class="o" cx="197.8" cy="184.9" r="1.5"/><circle class="o" cx="135.6" cy="163.1" r="1.5"/><circle class="o" cx="164.2" cy="173.9" r="1.5"/><circle class="o" cx="163.4" cy="169.9" r="1.5"/><circle class="o" cx="200.8" cy="187.4" r="1.5"/><circle class="o" cx="169.9" cy="173.9" r="1.5"/><circle class="o" cx="208.7" cy="186.9" r="1.5"/><circle class="o" cx="130.5" cy="159.7" r="1.5"/><circle class="o" cx="176.1" cy="180.2" r="1.5"/><circle class="o" cx="167.3" cy="172.6" r="1.5"/><circle class="o" cx="160.8" cy="176.9" r="1.5"/><circle class="o" cx="172.5" cy="179.9" r="1.5"/><circle class="o" cx="164.6" cy="177.2" r="1.5"/><circle class="o" cx="142.1" cy="171.0" r="1.5"/><circle class="o" cx="174.0" cy="177.1" r="1.5"/><circle class="o" cx="113.1" cy="136.7" r="1.5"/><circle class="o" cx="157.2" cy="173.5" r="1.5"/><circle class="o" cx="154.5" cy="175.2" r="1.5"/><circle class="o" cx="128.4" cy="164.2" r="1.5"/><circle class="o" cx="166.4" cy="174.8" r="1.5"/><circle class="o" cx="176.8" cy="179.7" r="1.5"/><circle class="o" cx="118.1" cy="154.7" r="1.5"/><circle class="o" cx="137.7" cy="158.2" r="1.5"/><circle class="o" cx="110.3" cy="145.3" r="1.5"/><circle class="o" cx="169.4" cy="175.7" r="1.5"/><circle class="o" cx="112.8" cy="156.8" r="1.5"/><circle class="o" cx="130.2" cy="158.2" r="1.5"/><circle class="o" cx="153.9" cy="175.8" r="1.5"/><circle class="o" cx="154.3" cy="171.7" r="1.5"/><circle class="o" cx="106.5" cy="137.7" r="1.5"/><circle class="o" cx="204.4" cy="190.6" r="1.5"/><circle class="o" cx="130.3" cy="157.1" r="1.5"/><circle class="o" cx="170.7" cy="179.2" r="1.5"/><circle class="o" cx="129.4" cy="166.9" r="1.5"/><circle class="o" cx="169.3" cy="175.9" r="1.5"/><circle class="o" cx="143.8" cy="163.6" r="1.5"/><circle class="o" cx="140.1" cy="169.5" r="1.5"/><circle class="o" cx="156.7" cy="172.6" r="1.5"/><circle class="o" cx="168.3" cy="173.9" r="1.5"/><circle class="o" cx="169.5" cy="174.8" r="1.5"/><circle class="o" cx="66.0" cy="102.8" r="1.5"/><circle class="o" cx="65.2" cy="106.0" r="1.5"/><circle class="o" cx="87.0" cy="104.5" r="1.5"/><circle class="o" cx="86.0" cy="111.5" r="1.5"/><circle class="o" cx="74.0" cy="121.8" r="1.5"/><circle class="o" cx="106.0" cy="127.0" r="1.5"/><circle class="o" cx="117.0" cy="137.0" r="1.5"/><circle class="o" cx="124.0" cy="141.0" r="1.5"/><circle class="o" cx="131.0" cy="147.0" r="1.5"/><circle class="o" cx="137.0" cy="152.0" r="1.5"/><circle class="o" cx="150.0" cy="161.0" r="1.5"/><circle class="o" cx="233.7" cy="183.7" r="1.5"/><circle cx="67.7" cy="108.2" r="1.7"/><circle cx="91.7" cy="125.0" r="1.7"/><circle cx="142.9" cy="163.7" r="1.7"/><circle cx="77.2" cy="113.1" r="1.7"/><circle cx="134.3" cy="154.9" r="1.7"/><circle cx="96.6" cy="131.5" r="1.7"/><circle cx="89.5" cy="123.1" r="1.7"/><circle cx="116.8" cy="143.8" r="1.7"/><circle cx="111.8" cy="140.8" r="1.7"/><circle cx="112.9" cy="141.5" r="1.7"/><circle cx="77.5" cy="117.7" r="1.7"/><circle cx="125.5" cy="151.7" r="1.7"/><circle cx="161.8" cy="172.8" r="1.7"/><circle cx="65.9" cy="108.6" r="1.7"/><circle cx="73.6" cy="115.6" r="1.7"/><circle cx="127.8" cy="156.0" r="1.7"/><circle cx="99.1" cy="131.8" r="1.7"/><circle cx="92.0" cy="127.2" r="1.7"/><circle cx="171.0" cy="172.3" r="1.7"/><circle cx="98.0" cy="127.9" r="1.7"/><circle cx="163.8" cy="171.6" r="1.7"/><circle cx="131.2" cy="152.4" r="1.7"/><circle cx="68.2" cy="109.6" r="1.7"/><circle cx="93.5" cy="127.4" r="1.7"/><circle cx="73.1" cy="114.2" r="1.7"/><circle cx="122.7" cy="152.5" r="1.7"/><circle cx="162.5" cy="168.4" r="1.7"/><circle cx="70.6" cy="113.5" r="1.7"/><circle cx="67.9" cy="109.7" r="1.7"/><circle cx="68.1" cy="110.6" r="1.7"/><circle cx="94.2" cy="127.0" r="1.7"/><circle cx="82.8" cy="120.7" r="1.7"/><circle cx="168.9" cy="171.6" r="1.7"/><circle cx="148.1" cy="160.9" r="1.7"/><circle cx="165.8" cy="173.8" r="1.7"/><circle cx="127.2" cy="153.9" r="1.7"/><circle cx="153.1" cy="167.7" r="1.7"/><circle cx="141.0" cy="158.2" r="1.7"/><circle cx="96.3" cy="127.1" r="1.7"/><circle cx="135.0" cy="158.2" r="1.7"/><circle cx="65.6" cy="97.2" r="1.7"/><circle cx="72.0" cy="109.0" r="1.7"/><circle cx="74.5" cy="106.0" r="1.7"/><circle cx="76.5" cy="105.0" r="1.7"/><circle cx="89.5" cy="103.5" r="1.7"/><circle cx="84.0" cy="113.0" r="1.7"/><circle cx="91.5" cy="111.0" r="1.7"/><circle cx="99.0" cy="119.5" r="1.7"/><circle cx="107.0" cy="128.0" r="1.7"/><circle cx="112.0" cy="132.0" r="1.7"/><circle cx="113.0" cy="133.0" r="1.7"/><path d="M221.8,188.0l2,2l-2,2l-2,-2z"/><path d="M214.3,183.4l2,2l-2,2l-2,-2z"/><path d="M208.5,191.4l2,2l-2,2l-2,-2z"/><path d="M213.8,189.7l2,2l-2,2l-2,-2z"/><path d="M163.3,168.1l2,2l-2,2l-2,-2z"/><path d="M195.0,182.9l2,2l-2,2l-2,-2z"/><path d="M183.1,175.4l2,2l-2,2l-2,-2z"/><path d="M220.9,192.7l2,2l-2,2l-2,-2z"/><path d="M201.3,191.2l2,2l-2,2l-2,-2z"/><path d="M219.5,192.7l2,2l-2,2l-2,-2z"/><path d="M217.3,189.4l2,2l-2,2l-2,-2z"/><path d="M235.2,187.6l2,2l-2,2l-2,-2z"/><path d="M231.1,189.0l2,2l-2,2l-2,-2z"/><path d="M150.8,168.7l2,2l-2,2l-2,-2z"/><path d="M214.9,187.1l2,2l-2,2l-2,-2z"/><path d="M187.5,175.9l2,2l-2,2l-2,-2z"/><path d="M157.5,169.4l2,2l-2,2l-2,-2z"/><path d="M197.7,179.8l2,2l-2,2l-2,-2z"/><path d="M230.0,186.8l2,2l-2,2l-2,-2z"/><path d="M226.0,192.3l2,2l-2,2l-2,-2z"/><path d="M158.2,170.5l2,2l-2,2l-2,-2z"/><path d="M169.6,179.4l2,2l-2,2l-2,-2z"/><path d="M217.3,190.2l2,2l-2,2l-2,-2z"/><path d="M240.4,191.4l2,2l-2,2l-2,-2z"/><path d="M154.4,165.6l2,2l-2,2l-2,-2z"/><path d="M155.9,170.7l2,2l-2,2l-2,-2z"/><path d="M217.3,184.1l2,2l-2,2l-2,-2z"/><path d="M210.3,181.7l2,2l-2,2l-2,-2z"/><path d="M227.3,187.5l2,2l-2,2l-2,-2z"/><path d="M169.2,170.1l2,2l-2,2l-2,-2z"/><path d="M199.2,188.3l2,2l-2,2l-2,-2z"/><path d="M226.4,186.9l2,2l-2,2l-2,-2z"/><path d="M188.4,175.8l2,2l-2,2l-2,-2z"/><path d="M190.1,187.4l2,2l-2,2l-2,-2z"/><path d="M147.9,170.0l2,2l-2,2l-2,-2z"/><path d="M226.2,191.2l2,2l-2,2l-2,-2z"/><path d="M194.6,191.0l2,2l-2,2l-2,-2z"/><path d="M188.0,187.1l2,2l-2,2l-2,-2z"/><path d="M213.8,192.8l2,2l-2,2l-2,-2z"/><path d="M230.8,191.1l2,2l-2,2l-2,-2z"/><path d="M231.9,192.3l2,2l-2,2l-2,-2z"/><path d="M184.4,186.4l2,2l-2,2l-2,-2z"/><path d="M209.6,182.7l2,2l-2,2l-2,-2z"/><path d="M188.9,180.3l2,2l-2,2l-2,-2z"/><path d="M229.6,190.5l2,2l-2,2l-2,-2z"/><path d="M225.8,187.2l2,2l-2,2l-2,-2z"/><path d="M214.4,192.2l2,2l-2,2l-2,-2z"/><path d="M228.3,184.8l2,2l-2,2l-2,-2z"/><path d="M200.6,181.2l2,2l-2,2l-2,-2z"/><path d="M206.2,184.7l2,2l-2,2l-2,-2z"/><path d="M165.1,170.2l2,2l-2,2l-2,-2z"/><path d="M218.4,192.0l2,2l-2,2l-2,-2z"/><path d="M178.9,172.1l2,2l-2,2l-2,-2z"/><path d="M205.4,190.8l2,2l-2,2l-2,-2z"/><path d="M142.0,167.7l2,2l-2,2l-2,-2z"/><path d="M189.9,176.6l2,2l-2,2l-2,-2z"/><path d="M210.3,192.8l2,2l-2,2l-2,-2z"/><path d="M211.6,189.5l2,2l-2,2l-2,-2z"/><path d="M205.6,182.2l2,2l-2,2l-2,-2z"/><path d="M175.1,183.5l2,2l-2,2l-2,-2z"/><path d="M213.7,183.4l2,2l-2,2l-2,-2z"/><path d="M214.3,186.6l2,2l-2,2l-2,-2z"/><path d="M208.0,183.9l2,2l-2,2l-2,-2z"/><path d="M187.9,181.0l2,2l-2,2l-2,-2z"/><path d="M163.8,167.6l2,2l-2,2l-2,-2z"/><path d="M204.9,185.1l2,2l-2,2l-2,-2z"/><path d="M150.8,167.9l2,2l-2,2l-2,-2z"/><path d="M236.1,189.5l2,2l-2,2l-2,-2z"/><path d="M185.5,182.4l2,2l-2,2l-2,-2z"/><path d="M178.3,185.8l2,2l-2,2l-2,-2z"/><path d="M195.0,189.6l2,2l-2,2l-2,-2z"/><path d="M157.9,165.2l2,2l-2,2l-2,-2z"/><path d="M233.4,191.9l2,2l-2,2l-2,-2z"/><path d="M241.3,192.7l2,2l-2,2l-2,-2z"/><path d="M228.3,193.3l2,2l-2,2l-2,-2z"/><path d="M206.5,185.6l2,2l-2,2l-2,-2z"/><path d="M238.1,193.7l2,2l-2,2l-2,-2z"/><path d="M183.2,182.2l2,2l-2,2l-2,-2z"/><path d="M196.4,184.6l2,2l-2,2l-2,-2z"/><path d="M166.1,172.8l2,2l-2,2l-2,-2z"/><path d="M192.5,182.8l2,2l-2,2l-2,-2z"/><path d="M237.0,191.6l2,2l-2,2l-2,-2z"/><path d="M214.5,188.3l2,2l-2,2l-2,-2z"/><path d="M203.9,191.3l2,2l-2,2l-2,-2z"/><path d="M203.0,186.0l2,2l-2,2l-2,-2z"/><path d="M212.0,182.4l2,2l-2,2l-2,-2z"/><path d="M209.8,183.2l2,2l-2,2l-2,-2z"/><path d="M195.2,183.5l2,2l-2,2l-2,-2z"/><path d="M200.7,185.6l2,2l-2,2l-2,-2z"/><path d="M157.6,172.3l2,2l-2,2l-2,-2z"/><path d="M194.3,185.8l2,2l-2,2l-2,-2z"/><path d="M215.5,184.3l2,2l-2,2l-2,-2z"/><path d="M171.9,173.8l2,2l-2,2l-2,-2z"/><path d="M177.7,179.9l2,2l-2,2l-2,-2z"/><path d="M226.8,192.1l2,2l-2,2l-2,-2z"/><path d="M161.9,172.9l2,2l-2,2l-2,-2z"/><path d="M168.8,176.6l2,2l-2,2l-2,-2z"/><path d="M227.9,186.8l2,2l-2,2l-2,-2z"/><path d="M160.1,170.7l2,2l-2,2l-2,-2z"/><path d="M180.2,176.2l2,2l-2,2l-2,-2z"/><path d="M235.6,185.8l2,2l-2,2l-2,-2z"/><path d="M191.4,187.5l2,2l-2,2l-2,-2z"/><path d="M227.8,190.7l2,2l-2,2l-2,-2z"/><path d="M223.3,193.9l2,2l-2,2l-2,-2z"/><path d="M145.7,167.7l2,2l-2,2l-2,-2z"/><path d="M171.5,172.8l2,2l-2,2l-2,-2z"/><path d="M235.7,185.5l2,2l-2,2l-2,-2z"/><path d="M182.3,179.9l2,2l-2,2l-2,-2z"/><path d="M190.5,181.1l2,2l-2,2l-2,-2z"/><path d="M237.6,190.1l2,2l-2,2l-2,-2z"/><path d="M158.7,168.2l2,2l-2,2l-2,-2z"/><path d="M240.7,186.2l2,2l-2,2l-2,-2z"/><path d="M213.0,182.7l2,2l-2,2l-2,-2z"/><path d="M211.4,185.9l2,2l-2,2l-2,-2z"/><path d="M141.7,165.0l2,2l-2,2l-2,-2z"/><path d="M211.6,183.8l2,2l-2,2l-2,-2z"/><path d="M228.2,186.0l2,2l-2,2l-2,-2z"/><path d="M189.6,179.2l2,2l-2,2l-2,-2z"/><path d="M153.8,170.4l2,2l-2,2l-2,-2z"/><path d="M161.4,173.3l2,2l-2,2l-2,-2z"/><path d="M154.5,168.0l2,2l-2,2l-2,-2z"/><path d="M191.6,177.3l2,2l-2,2l-2,-2z"/><path d="M227.8,193.6l2,2l-2,2l-2,-2z"/><path d="M151.8,170.9l2,2l-2,2l-2,-2z"/><path d="M190.7,180.6l2,2l-2,2l-2,-2z"/><path d="M190.2,176.1l2,2l-2,2l-2,-2z"/><path d="M190.0,183.2l2,2l-2,2l-2,-2z"/><path d="M202.2,182.0l2,2l-2,2l-2,-2z"/><path d="M203.0,184.8l2,2l-2,2l-2,-2z"/><path d="M169.8,173.9l2,2l-2,2l-2,-2z"/><path d="M225.9,187.1l2,2l-2,2l-2,-2z"/><path d="M201.3,191.4l2,2l-2,2l-2,-2z"/><path d="M185.4,180.3l2,2l-2,2l-2,-2z"/><path d="M240.0,186.7l2,2l-2,2l-2,-2z"/><path d="M218.2,189.2l2,2l-2,2l-2,-2z"/><path d="M165.1,176.2l2,2l-2,2l-2,-2z"/><path d="M240.4,187.7l2,2l-2,2l-2,-2z"/><path d="M206.9,187.0l2,2l-2,2l-2,-2z"/><path d="M184.2,179.7l2,2l-2,2l-2,-2z"/><path d="M173.5,180.4l2,2l-2,2l-2,-2z"/><path d="M153.1,166.0l2,2l-2,2l-2,-2z"/><path d="M174.2,174.0l2,2l-2,2l-2,-2z"/><path d="M179.0,187.1l2,2l-2,2l-2,-2z"/><path d="M184.6,186.9l2,2l-2,2l-2,-2z"/><path d="M242.0,191.9l2,2l-2,2l-2,-2z"/><path d="M208.2,189.0l2,2l-2,2l-2,-2z"/><path d="M168.5,180.2l2,2l-2,2l-2,-2z"/><path d="M187.2,175.7l2,2l-2,2l-2,-2z"/><path d="M193.3,183.4l2,2l-2,2l-2,-2z"/><path d="M155.2,169.6l2,2l-2,2l-2,-2z"/><path d="M196.7,180.1l2,2l-2,2l-2,-2z"/><path d="M200.5,192.4l2,2l-2,2l-2,-2z"/><path d="M235.5,191.5l2,2l-2,2l-2,-2z"/><path d="M193.4,187.9l2,2l-2,2l-2,-2z"/><path d="M216.7,193.4l2,2l-2,2l-2,-2z"/><path d="M215.9,189.0l2,2l-2,2l-2,-2z"/><path d="M166.5,177.9l2,2l-2,2l-2,-2z"/><path d="M205.9,185.2l2,2l-2,2l-2,-2z"/><path d="M194.9,190.5l2,2l-2,2l-2,-2z"/><path d="M165.1,172.0l2,2l-2,2l-2,-2z"/><path d="M146.4,168.1l2,2l-2,2l-2,-2z"/><path d="M242.6,188.2l2,2l-2,2l-2,-2z"/><path d="M156.2,168.4l2,2l-2,2l-2,-2z"/><path d="M233.6,190.2l2,2l-2,2l-2,-2z"/><path d="M186.8,182.7l2,2l-2,2l-2,-2z"/><path d="M155.0,172.5l2,2l-2,2l-2,-2z"/><path d="M240.1,189.7l2,2l-2,2l-2,-2z"/><path d="M214.2,192.2l2,2l-2,2l-2,-2z"/><path d="M190.6,177.8l2,2l-2,2l-2,-2z"/><path d="M229.6,186.5l2,2l-2,2l-2,-2z"/><path d="M218.4,184.8l2,2l-2,2l-2,-2z"/><path d="M191.7,179.2l2,2l-2,2l-2,-2z"/><path d="M219.3,189.4l2,2l-2,2l-2,-2z"/><path d="M221.0,184.3l2,2l-2,2l-2,-2z"/><path d="M166.2,174.7l2,2l-2,2l-2,-2z"/><path d="M219.2,192.5l2,2l-2,2l-2,-2z"/><path d="M236.1,193.7l2,2l-2,2l-2,-2z"/><path d="M216.6,183.2l2,2l-2,2l-2,-2z"/><path d="M226.3,186.5l2,2l-2,2l-2,-2z"/><path d="M242.1,189.6l2,2l-2,2l-2,-2z"/><path d="M226.0,184.1l2,2l-2,2l-2,-2z"/><path d="M196.8,187.5l2,2l-2,2l-2,-2z"/><path d="M205.4,186.2l2,2l-2,2l-2,-2z"/><path d="M223.5,188.1l2,2l-2,2l-2,-2z"/><path d="M211.8,183.5l2,2l-2,2l-2,-2z"/><path d="M153.5,163.7l2,2l-2,2l-2,-2z"/><path d="M152.0,171.1l2,2l-2,2l-2,-2z"/><path d="M177.2,180.7l2,2l-2,2l-2,-2z"/><path d="M227.9,187.7l2,2l-2,2l-2,-2z"/><path d="M171.8,182.8l2,2l-2,2l-2,-2z"/><path d="M182.1,174.8l2,2l-2,2l-2,-2z"/><path d="M228.3,188.2l2,2l-2,2l-2,-2z"/><path d="M161.0,165.9l2,2l-2,2l-2,-2z"/><path d="M178.0,184.1l2,2l-2,2l-2,-2z"/><path d="M175.5,184.5l2,2l-2,2l-2,-2z"/><path d="M150.2,165.2l2,2l-2,2l-2,-2z"/><path d="M221.4,192.0l2,2l-2,2l-2,-2z"/><path d="M182.2,188.1l2,2l-2,2l-2,-2z"/><path d="M190.9,179.6l2,2l-2,2l-2,-2z"/><path d="M183.5,188.7l2,2l-2,2l-2,-2z"/><path d="M152.8,166.2l2,2l-2,2l-2,-2z"/><path d="M230.1,191.4l2,2l-2,2l-2,-2z"/><path d="M161.7,171.0l2,2l-2,2l-2,-2z"/><path d="M178.6,177.3l2,2l-2,2l-2,-2z"/><path d="M219.5,189.6l2,2l-2,2l-2,-2z"/><path d="M185.0,174.0l2,2l-2,2l-2,-2z"/><path d="M200.3,186.0l2,2l-2,2l-2,-2z"/><path d="M183.2,181.3l2,2l-2,2l-2,-2z"/><path d="M205.2,188.4l2,2l-2,2l-2,-2z"/><path d="M181.9,185.0l2,2l-2,2l-2,-2z"/><path d="M195.6,190.1l2,2l-2,2l-2,-2z"/><path d="M143.6,167.2l2,2l-2,2l-2,-2z"/><path d="M144.9,168.2l2,2l-2,2l-2,-2z"/><path d="M200.3,184.3l2,2l-2,2l-2,-2z"/><path d="M227.8,185.3l2,2l-2,2l-2,-2z"/><path d="M242.9,191.4l2,2l-2,2l-2,-2z"/><path d="M226.6,184.5l2,2l-2,2l-2,-2z"/><path d="M202.0,192.0l2,2l-2,2l-2,-2z"/><path d="M212.8,187.5l2,2l-2,2l-2,-2z"/><path d="M215.2,185.2l2,2l-2,2l-2,-2z"/><path d="M220.3,183.5l2,2l-2,2l-2,-2z"/><path d="M242.3,193.0l2,2l-2,2l-2,-2z"/><path d="M184.6,187.0l2,2l-2,2l-2,-2z"/><path d="M194.6,179.4l2,2l-2,2l-2,-2z"/><path d="M224.6,191.8l2,2l-2,2l-2,-2z"/><path d="M171.1,170.0l2,2l-2,2l-2,-2z"/><path d="M156.9,170.9l2,2l-2,2l-2,-2z"/><path d="M234.7,190.0l2,2l-2,2l-2,-2z"/><path d="M145.0,166.6l2,2l-2,2l-2,-2z"/><path d="M234.2,186.3l2,2l-2,2l-2,-2z"/><path d="M236.0,192.5l2,2l-2,2l-2,-2z"/><path d="M165.4,175.4l2,2l-2,2l-2,-2z"/><path d="M222.5,192.4l2,2l-2,2l-2,-2z"/><path d="M178.9,178.3l2,2l-2,2l-2,-2z"/><path d="M177.1,175.3l2,2l-2,2l-2,-2z"/><path d="M241.6,190.6l2,2l-2,2l-2,-2z"/><path d="M233.7,191.5l2,2l-2,2l-2,-2z"/><path d="M223.3,191.6l2,2l-2,2l-2,-2z"/><path d="M193.6,183.6l2,2l-2,2l-2,-2z"/><path d="M241.8,191.1l2,2l-2,2l-2,-2z"/><path d="M206.2,188.6l2,2l-2,2l-2,-2z"/><path d="M241.3,190.9l2,2l-2,2l-2,-2z"/><path d="M219.6,190.8l2,2l-2,2l-2,-2z"/><path d="M150.1,165.4l2,2l-2,2l-2,-2z"/><path d="M226.2,186.4l2,2l-2,2l-2,-2z"/><path d="M229.6,187.3l2,2l-2,2l-2,-2z"/><path d="M233.2,192.4l2,2l-2,2l-2,-2z"/><path d="M210.8,193.0l2,2l-2,2l-2,-2z"/><path d="M148.7,165.1l2,2l-2,2l-2,-2z"/><path d="M232.0,191.0l2,2l-2,2l-2,-2z"/><path d="M192.3,185.1l2,2l-2,2l-2,-2z"/><path d="M169.0,180.0l2,2l-2,2l-2,-2z"/><path d="M170.3,168.5l2,2l-2,2l-2,-2z"/><path d="M169.5,176.9l2,2l-2,2l-2,-2z"/><path d="M227.7,192.9l2,2l-2,2l-2,-2z"/><path d="M153.8,172.5l2,2l-2,2l-2,-2z"/><path d="M236.3,189.1l2,2l-2,2l-2,-2z"/><path d="M145.2,165.5l2,2l-2,2l-2,-2z"/><path d="M219.7,192.2l2,2l-2,2l-2,-2z"/><path d="M172.7,184.2l2,2l-2,2l-2,-2z"/><path d="M201.1,182.7l2,2l-2,2l-2,-2z"/><path d="M166.8,177.9l2,2l-2,2l-2,-2z"/><path d="M234.7,186.2l2,2l-2,2l-2,-2z"/><path d="M164.3,166.7l2,2l-2,2l-2,-2z"/><path d="M196.6,178.7l2,2l-2,2l-2,-2z"/><path d="M209.6,182.2l2,2l-2,2l-2,-2z"/><path d="M195.3,179.1l2,2l-2,2l-2,-2z"/><path d="M171.2,172.3l2,2l-2,2l-2,-2z"/><path d="M179.1,176.5l2,2l-2,2l-2,-2z"/><path d="M237.6,194.1l2,2l-2,2l-2,-2z"/><path d="M160.6,173.4l2,2l-2,2l-2,-2z"/><path d="M145.3,162.7l2,2l-2,2l-2,-2z"/><path d="M235.5,187.0l2,2l-2,2l-2,-2z"/><path d="M233.6,191.5l2,2l-2,2l-2,-2z"/><path d="M216.4,189.3l2,2l-2,2l-2,-2z"/><path d="M197.1,184.5l2,2l-2,2l-2,-2z"/><path d="M239.0,189.3l2,2l-2,2l-2,-2z"/><path d="M191.4,187.3l2,2l-2,2l-2,-2z"/><path d="M144.4,165.3l2,2l-2,2l-2,-2z"/><path d="M193.6,187.4l2,2l-2,2l-2,-2z"/><path d="M202.4,180.1l2,2l-2,2l-2,-2z"/><path d="M204.2,181.5l2,2l-2,2l-2,-2z"/><path d="M233.8,186.7l2,2l-2,2l-2,-2z"/><path d="M153.1,168.7l2,2l-2,2l-2,-2z"/><path d="M230.9,190.3l2,2l-2,2l-2,-2z"/><path d="M201.8,190.9l2,2l-2,2l-2,-2z"/><path d="M220.5,192.7l2,2l-2,2l-2,-2z"/><path d="M191.5,188.2l2,2l-2,2l-2,-2z"/><path d="M179.7,177.4l2,2l-2,2l-2,-2z"/><path d="M183.8,174.5l2,2l-2,2l-2,-2z"/><path d="M177.4,185.3l2,2l-2,2l-2,-2z"/><path d="M195.3,190.7l2,2l-2,2l-2,-2z"/><path d="M208.7,181.4l2,2l-2,2l-2,-2z"/><path d="M229.0,184.4l2,2l-2,2l-2,-2z"/><path d="M166.4,169.1l2,2l-2,2l-2,-2z"/><path d="M195.0,182.7l2,2l-2,2l-2,-2z"/><path d="M202.7,188.9l2,2l-2,2l-2,-2z"/><path d="M227.9,188.8l2,2l-2,2l-2,-2z"/><path d="M218.6,190.1l2,2l-2,2l-2,-2z"/><path d="M210.9,191.2l2,2l-2,2l-2,-2z"/><path d="M215.5,184.4l2,2l-2,2l-2,-2z"/><path d="M194.8,182.0l2,2l-2,2l-2,-2z"/><path d="M226.9,193.9l2,2l-2,2l-2,-2z"/><path d="M229.5,189.8l2,2l-2,2l-2,-2z"/><path d="M205.8,186.7l2,2l-2,2l-2,-2z"/><path d="M159.6,170.3l2,2l-2,2l-2,-2z"/><path d="M192.7,184.7l2,2l-2,2l-2,-2z"/><path d="M176.4,182.4l2,2l-2,2l-2,-2z"/><path d="M168.4,179.3l2,2l-2,2l-2,-2z"/><path d="M179.8,182.1l2,2l-2,2l-2,-2z"/><path d="M228.0,190.5l2,2l-2,2l-2,-2z"/><path d="M185.0,183.1l2,2l-2,2l-2,-2z"/><path d="M193.0,180.4l2,2l-2,2l-2,-2z"/><path d="M188.5,186.9l2,2l-2,2l-2,-2z"/><path d="M167.6,169.9l2,2l-2,2l-2,-2z"/><path d="M206.3,183.9l2,2l-2,2l-2,-2z"/><path d="M191.8,181.5l2,2l-2,2l-2,-2z"/><path d="M237.8,190.2l2,2l-2,2l-2,-2z"/><path d="M210.5,191.2l2,2l-2,2l-2,-2z"/><path d="M241.2,188.9l2,2l-2,2l-2,-2z"/><path d="M231.3,190.5l2,2l-2,2l-2,-2z"/><path d="M198.8,184.8l2,2l-2,2l-2,-2z"/><path d="M145.1,165.2l2,2l-2,2l-2,-2z"/><path d="M170.8,183.1l2,2l-2,2l-2,-2z"/><path d="M159.9,171.5l2,2l-2,2l-2,-2z"/><path d="M221.0,183.4l2,2l-2,2l-2,-2z"/><path d="M162.1,174.6l2,2l-2,2l-2,-2z"/><path d="M212.9,187.7l2,2l-2,2l-2,-2z"/><path d="M182.4,188.3l2,2l-2,2l-2,-2z"/><path d="M197.9,180.4l2,2l-2,2l-2,-2z"/><path d="M222.6,193.6l2,2l-2,2l-2,-2z"/><path d="M179.9,182.6l2,2l-2,2l-2,-2z"/><path d="M166.1,174.1l2,2l-2,2l-2,-2z"/><path d="M178.9,179.7l2,2l-2,2l-2,-2z"/><path d="M238.4,194.1l2,2l-2,2l-2,-2z"/><path d="M204.6,190.8l2,2l-2,2l-2,-2z"/><path d="M178.8,180.1l2,2l-2,2l-2,-2z"/><path d="M163.1,169.8l2,2l-2,2l-2,-2z"/><path d="M153.2,166.8l2,2l-2,2l-2,-2z"/><path d="M183.6,181.1l2,2l-2,2l-2,-2z"/><path d="M210.1,183.6l2,2l-2,2l-2,-2z"/><path d="M195.6,181.1l2,2l-2,2l-2,-2z"/><path d="M227.4,190.8l2,2l-2,2l-2,-2z"/><path d="M242.5,192.4l2,2l-2,2l-2,-2z"/><path d="M206.2,191.9l2,2l-2,2l-2,-2z"/><path d="M184.7,176.4l2,2l-2,2l-2,-2z"/><path d="M225.9,187.1l2,2l-2,2l-2,-2z"/><path d="M155.9,165.4l2,2l-2,2l-2,-2z"/><path d="M222.9,190.1l2,2l-2,2l-2,-2z"/><path d="M233.2,187.8l2,2l-2,2l-2,-2z"/><path d="M224.3,187.0l2,2l-2,2l-2,-2z"/><path d="M157.2,164.6l2,2l-2,2l-2,-2z"/><path d="M207.1,190.3l2,2l-2,2l-2,-2z"/><path d="M226.5,193.5l2,2l-2,2l-2,-2z"/><path d="M191.3,178.4l2,2l-2,2l-2,-2z"/><path d="M230.1,189.3l2,2l-2,2l-2,-2z"/><path d="M165.5,175.4l2,2l-2,2l-2,-2z"/><path d="M202.4,191.0l2,2l-2,2l-2,-2z"/><path d="M205.1,184.8l2,2l-2,2l-2,-2z"/><path d="M225.3,184.5l2,2l-2,2l-2,-2z"/><path d="M191.3,187.6l2,2l-2,2l-2,-2z"/><path d="M175.7,181.9l2,2l-2,2l-2,-2z"/><path d="M218.8,187.2l2,2l-2,2l-2,-2z"/><path d="M159.2,174.7l2,2l-2,2l-2,-2z"/><path d="M187.0,185.8l2,2l-2,2l-2,-2z"/><path d="M196.7,186.1l2,2l-2,2l-2,-2z"/><path d="M225.3,189.9l2,2l-2,2l-2,-2z"/><path d="M192.5,178.0l2,2l-2,2l-2,-2z"/><path d="M205.4,192.4l2,2l-2,2l-2,-2z"/><path d="M215.8,193.6l2,2l-2,2l-2,-2z"/><path d="M215.6,184.2l2,2l-2,2l-2,-2z"/><path d="M240.0,192.4l2,2l-2,2l-2,-2z"/><path d="M196.2,186.1l2,2l-2,2l-2,-2z"/><path d="M206.3,185.6l2,2l-2,2l-2,-2z"/><path d="M145.6,166.4l2,2l-2,2l-2,-2z"/><path d="M168.4,169.3l2,2l-2,2l-2,-2z"/><path d="M174.7,175.8l2,2l-2,2l-2,-2z"/><path d="M170.6,173.4l2,2l-2,2l-2,-2z"/><path d="M201.5,188.5l2,2l-2,2l-2,-2z"/><path d="M169.3,175.3l2,2l-2,2l-2,-2z"/><path d="M206.1,181.0l2,2l-2,2l-2,-2z"/><path d="M228.5,187.2l2,2l-2,2l-2,-2z"/><path d="M153.8,166.8l2,2l-2,2l-2,-2z"/><path d="M174.1,175.7l2,2l-2,2l-2,-2z"/><path d="M199.4,189.5l2,2l-2,2l-2,-2z"/><path d="M150.0,169.9l2,2l-2,2l-2,-2z"/><path d="M162.8,175.8l2,2l-2,2l-2,-2z"/><path d="M206.6,192.3l2,2l-2,2l-2,-2z"/><path d="M190.1,183.2l2,2l-2,2l-2,-2z"/><path d="M235.1,190.3l2,2l-2,2l-2,-2z"/><path d="M206.2,188.1l2,2l-2,2l-2,-2z"/><path d="M222.7,188.8l2,2l-2,2l-2,-2z"/><path d="M184.8,174.5l2,2l-2,2l-2,-2z"/><path d="M187.9,176.8l2,2l-2,2l-2,-2z"/><path d="M230.9,192.3l2,2l-2,2l-2,-2z"/><path d="M210.2,190.4l2,2l-2,2l-2,-2z"/><path d="M235.9,188.1l2,2l-2,2l-2,-2z"/><path d="M175.1,173.5l2,2l-2,2l-2,-2z"/><path d="M159.3,170.4l2,2l-2,2l-2,-2z"/><path d="M215.7,192.0l2,2l-2,2l-2,-2z"/><path d="M160.6,165.5l2,2l-2,2l-2,-2z"/><path d="M154.2,169.6l2,2l-2,2l-2,-2z"/><path d="M189.2,179.0l2,2l-2,2l-2,-2z"/><path d="M216.5,185.4l2,2l-2,2l-2,-2z"/><path d="M186.2,181.3l2,2l-2,2l-2,-2z"/><path d="M222.3,185.2l2,2l-2,2l-2,-2z"/><path d="M195.5,188.2l2,2l-2,2l-2,-2z"/><path d="M178.5,173.3l2,2l-2,2l-2,-2z"/><path d="M202.9,186.3l2,2l-2,2l-2,-2z"/><path d="M209.3,189.3l2,2l-2,2l-2,-2z"/><path d="M163.6,174.8l2,2l-2,2l-2,-2z"/><path d="M208.1,187.8l2,2l-2,2l-2,-2z"/><path d="M165.8,168.2l2,2l-2,2l-2,-2z"/><path d="M240.4,192.8l2,2l-2,2l-2,-2z"/><path d="M202.6,191.9l2,2l-2,2l-2,-2z"/><path d="M170.0,168.6l2,2l-2,2l-2,-2z"/><path d="M149.4,170.4l2,2l-2,2l-2,-2z"/><path d="M171.0,178.1l2,2l-2,2l-2,-2z"/><path d="M182.0,182.4l2,2l-2,2l-2,-2z"/><path d="M206.5,185.5l2,2l-2,2l-2,-2z"/><path d="M214.5,184.1l2,2l-2,2l-2,-2z"/><path d="M218.7,189.5l2,2l-2,2l-2,-2z"/><path d="M194.1,189.9l2,2l-2,2l-2,-2z"/><path d="M211.6,182.0l2,2l-2,2l-2,-2z"/><path d="M204.6,187.3l2,2l-2,2l-2,-2z"/><path d="M179.7,182.3l2,2l-2,2l-2,-2z"/><path d="M171.5,183.1l2,2l-2,2l-2,-2z"/><path d="M190.1,176.1l2,2l-2,2l-2,-2z"/><path d="M216.8,186.7l2,2l-2,2l-2,-2z"/><path d="M161.7,166.7l2,2l-2,2l-2,-2z"/><path d="M212.1,185.4l2,2l-2,2l-2,-2z"/><path d="M145.9,168.9l2,2l-2,2l-2,-2z"/><path d="M167.5,169.6l2,2l-2,2l-2,-2z"/><path d="M215.1,186.4l2,2l-2,2l-2,-2z"/><path d="M227.0,192.4l2,2l-2,2l-2,-2z"/><path d="M223.5,191.5l2,2l-2,2l-2,-2z"/><path d="M216.3,192.8l2,2l-2,2l-2,-2z"/><path d="M175.3,172.4l2,2l-2,2l-2,-2z"/><path d="M242.0,186.5l2,2l-2,2l-2,-2z"/><path d="M208.9,183.9l2,2l-2,2l-2,-2z"/><path d="M235.6,189.7l2,2l-2,2l-2,-2z"/><path d="M237.8,191.5l2,2l-2,2l-2,-2z"/><path d="M173.6,171.6l2,2l-2,2l-2,-2z"/><path d="M240.5,191.2l2,2l-2,2l-2,-2z"/><path d="M154.9,165.4l2,2l-2,2l-2,-2z"/><path d="M212.2,193.0l2,2l-2,2l-2,-2z"/><path d="M175.6,179.4l2,2l-2,2l-2,-2z"/><path d="M156.6,165.1l2,2l-2,2l-2,-2z"/><path d="M206.1,190.9l2,2l-2,2l-2,-2z"/><path d="M170.8,176.0l2,2l-2,2l-2,-2z"/><path d="M225.2,191.8l2,2l-2,2l-2,-2z"/><path d="M196.1,185.5l2,2l-2,2l-2,-2z"/><path d="M176.9,185.1l2,2l-2,2l-2,-2z"/><path d="M144.2,163.7l2,2l-2,2l-2,-2z"/><path d="M217.0,193.4l2,2l-2,2l-2,-2z"/><path d="M212.1,182.0l2,2l-2,2l-2,-2z"/><path d="M226.8,187.9l2,2l-2,2l-2,-2z"/><path d="M188.5,177.7l2,2l-2,2l-2,-2z"/><path d="M236.0,194.3l2,2l-2,2l-2,-2z"/><path d="M146.4,162.3l2,2l-2,2l-2,-2z"/><path d="M236.3,187.9l2,2l-2,2l-2,-2z"/><path d="M223.3,187.6l2,2l-2,2l-2,-2z"/><path d="M157.7,164.8l2,2l-2,2l-2,-2z"/><path d="M241.9,193.7l2,2l-2,2l-2,-2z"/><path d="M156.1,171.4l2,2l-2,2l-2,-2z"/><path d="M222.2,189.1l2,2l-2,2l-2,-2z"/><path d="M174.2,176.5l2,2l-2,2l-2,-2z"/><path d="M216.9,184.8l2,2l-2,2l-2,-2z"/><path d="M229.5,186.0l2,2l-2,2l-2,-2z"/><path d="M159.7,168.9l2,2l-2,2l-2,-2z"/><path d="M182.6,182.9l2,2l-2,2l-2,-2z"/><path d="M234.3,193.0l2,2l-2,2l-2,-2z"/><path d="M197.6,181.9l2,2l-2,2l-2,-2z"/><path d="M164.0,175.4l2,2l-2,2l-2,-2z"/><path d="M155.7,170.1l2,2l-2,2l-2,-2z"/><path d="M160.3,166.5l2,2l-2,2l-2,-2z"/><path d="M158.2,164.5l2,2l-2,2l-2,-2z"/><path d="M185.9,174.7l2,2l-2,2l-2,-2z"/><path d="M224.3,193.7l2,2l-2,2l-2,-2z"/><path d="M195.2,181.2l2,2l-2,2l-2,-2z"/><path d="M157.2,164.5l2,2l-2,2l-2,-2z"/><path d="M185.5,184.5l2,2l-2,2l-2,-2z"/><path d="M198.2,182.5l2,2l-2,2l-2,-2z"/><path d="M194.8,190.8l2,2l-2,2l-2,-2z"/><path d="M212.6,189.6l2,2l-2,2l-2,-2z"/><path d="M216.0,192.5l2,2l-2,2l-2,-2z"/><path d="M221.9,190.3l2,2l-2,2l-2,-2z"/><path d="M203.0,189.3l2,2l-2,2l-2,-2z"/><path d="M147.4,166.0l2,2l-2,2l-2,-2z"/><path d="M223.8,188.1l2,2l-2,2l-2,-2z"/><path d="M224.9,191.9l2,2l-2,2l-2,-2z"/><path d="M220.3,185.1l2,2l-2,2l-2,-2z"/><path d="M193.8,178.2l2,2l-2,2l-2,-2z"/><path d="M233.7,193.5l2,2l-2,2l-2,-2z"/><path d="M156.9,167.7l2,2l-2,2l-2,-2z"/><path d="M221.2,189.3l2,2l-2,2l-2,-2z"/><path d="M208.5,185.9l2,2l-2,2l-2,-2z"/><path d="M217.7,191.0l2,2l-2,2l-2,-2z"/><path d="M153.0,170.4l2,2l-2,2l-2,-2z"/><path d="M240.4,187.3l2,2l-2,2l-2,-2z"/><path d="M147.5,168.5l2,2l-2,2l-2,-2z"/><path d="M166.7,170.9l2,2l-2,2l-2,-2z"/><path d="M201.2,187.0l2,2l-2,2l-2,-2z"/><path d="M206.4,186.7l2,2l-2,2l-2,-2z"/><path d="M166.8,177.4l2,2l-2,2l-2,-2z"/><path d="M178.8,178.4l2,2l-2,2l-2,-2z"/><path d="M236.0,192.8l2,2l-2,2l-2,-2z"/><path d="M182.3,187.9l2,2l-2,2l-2,-2z"/><path d="M194.5,185.6l2,2l-2,2l-2,-2z"/><path d="M158.9,172.8l2,2l-2,2l-2,-2z"/><path d="M206.0,191.6l2,2l-2,2l-2,-2z"/><path d="M217.8,185.3l2,2l-2,2l-2,-2z"/><path d="M221.3,188.1l2,2l-2,2l-2,-2z"/><path d="M173.0,183.8l2,2l-2,2l-2,-2z"/><path d="M187.1,186.5l2,2l-2,2l-2,-2z"/><path d="M213.7,191.8l2,2l-2,2l-2,-2z"/><path d="M240.8,191.0l2,2l-2,2l-2,-2z"/><path d="M223.8,187.6l2,2l-2,2l-2,-2z"/><path d="M171.5,181.1l2,2l-2,2l-2,-2z"/><path d="M152.8,166.3l2,2l-2,2l-2,-2z"/><path d="M183.0,182.5l2,2l-2,2l-2,-2z"/><path d="M202.4,182.6l2,2l-2,2l-2,-2z"/><path d="M177.2,177.6l2,2l-2,2l-2,-2z"/><path d="M225.5,188.5l2,2l-2,2l-2,-2z"/><path d="M175.5,172.4l2,2l-2,2l-2,-2z"/><path d="M160.4,165.9l2,2l-2,2l-2,-2z"/><path d="M209.1,191.9l2,2l-2,2l-2,-2z"/><path d="M222.9,193.9l2,2l-2,2l-2,-2z"/><path d="M169.9,170.5l2,2l-2,2l-2,-2z"/><path d="M183.6,179.3l2,2l-2,2l-2,-2z"/><path d="M175.9,181.4l2,2l-2,2l-2,-2z"/><path d="M147.3,163.4l2,2l-2,2l-2,-2z"/><path d="M216.2,183.2l2,2l-2,2l-2,-2z"/><path d="M150.7,170.8l2,2l-2,2l-2,-2z"/><path d="M209.9,184.7l2,2l-2,2l-2,-2z"/><path d="M211.3,192.9l2,2l-2,2l-2,-2z"/><path d="M202.5,186.6l2,2l-2,2l-2,-2z"/><path d="M149.4,167.6l2,2l-2,2l-2,-2z"/><path d="M148.6,167.0l2,2l-2,2l-2,-2z"/><path d="M201.1,186.2l2,2l-2,2l-2,-2z"/><path d="M198.8,182.6l2,2l-2,2l-2,-2z"/><path d="M144.9,166.5l2,2l-2,2l-2,-2z"/><path d="M144.0,164.8l2,2l-2,2l-2,-2z"/><path d="M224.1,192.5l2,2l-2,2l-2,-2z"/><path d="M182.6,177.8l2,2l-2,2l-2,-2z"/><path d="M219.2,185.1l2,2l-2,2l-2,-2z"/><path d="M169.2,179.9l2,2l-2,2l-2,-2z"/><path d="M176.5,179.4l2,2l-2,2l-2,-2z"/><path d="M234.6,187.2l2,2l-2,2l-2,-2z"/><path d="M169.1,178.7l2,2l-2,2l-2,-2z"/><path d="M191.0,180.5l2,2l-2,2l-2,-2z"/><path d="M199.6,188.7l2,2l-2,2l-2,-2z"/><path d="M218.8,190.1l2,2l-2,2l-2,-2z"/><path d="M182.2,177.7l2,2l-2,2l-2,-2z"/><path d="M213.3,189.4l2,2l-2,2l-2,-2z"/><path d="M171.8,176.7l2,2l-2,2l-2,-2z"/><path d="M216.1,182.8l2,2l-2,2l-2,-2z"/><path d="M146.0,169.5l2,2l-2,2l-2,-2z"/><path d="M167.9,170.8l2,2l-2,2l-2,-2z"/><path d="M152.2,166.5l2,2l-2,2l-2,-2z"/><path d="M157.7,173.1l2,2l-2,2l-2,-2z"/><path d="M221.9,190.7l2,2l-2,2l-2,-2z"/><path d="M196.3,180.5l2,2l-2,2l-2,-2z"/><path d="M224.9,190.4l2,2l-2,2l-2,-2z"/><path d="M240.9,186.0l2,2l-2,2l-2,-2z"/><path d="M167.8,177.1l2,2l-2,2l-2,-2z"/><path d="M223.7,189.9l2,2l-2,2l-2,-2z"/><path d="M240.7,191.5l2,2l-2,2l-2,-2z"/><path d="M181.1,181.6l2,2l-2,2l-2,-2z"/><path d="M154.4,166.7l2,2l-2,2l-2,-2z"/><path d="M196.1,187.1l2,2l-2,2l-2,-2z"/><path d="M203.6,186.0l2,2l-2,2l-2,-2z"/><path d="M216.7,191.0l2,2l-2,2l-2,-2z"/><path d="M206.2,181.1l2,2l-2,2l-2,-2z"/><path d="M180.3,176.6l2,2l-2,2l-2,-2z"/><path d="M165.1,168.2l2,2l-2,2l-2,-2z"/><path d="M184.2,181.8l2,2l-2,2l-2,-2z"/><path d="M196.8,186.8l2,2l-2,2l-2,-2z"/><path d="M167.7,170.2l2,2l-2,2l-2,-2z"/><path d="M180.0,187.2l2,2l-2,2l-2,-2z"/><path d="M233.4,188.4l2,2l-2,2l-2,-2z"/><path d="M192.4,177.0l2,2l-2,2l-2,-2z"/><path d="M160.6,172.6l2,2l-2,2l-2,-2z"/><path d="M214.7,183.5l2,2l-2,2l-2,-2z"/><path d="M185.7,174.5l2,2l-2,2l-2,-2z"/><path d="M201.1,183.4l2,2l-2,2l-2,-2z"/><path d="M189.4,182.7l2,2l-2,2l-2,-2z"/><path d="M159.3,167.0l2,2l-2,2l-2,-2z"/><path d="M220.9,186.8l2,2l-2,2l-2,-2z"/><path d="M206.0,182.3l2,2l-2,2l-2,-2z"/><path d="M242.1,188.9l2,2l-2,2l-2,-2z"/><path d="M142.7,166.8l2,2l-2,2l-2,-2z"/><path d="M206.8,184.6l2,2l-2,2l-2,-2z"/><path d="M192.6,185.2l2,2l-2,2l-2,-2z"/><path d="M193.5,180.2l2,2l-2,2l-2,-2z"/><path d="M219.7,184.4l2,2l-2,2l-2,-2z"/><path d="M174.0,175.0l2,2l-2,2l-2,-2z"/><path d="M190.1,176.4l2,2l-2,2l-2,-2z"/><path d="M161.6,170.3l2,2l-2,2l-2,-2z"/><path d="M205.8,189.3l2,2l-2,2l-2,-2z"/><path d="M193.8,183.2l2,2l-2,2l-2,-2z"/><path d="M149.4,164.5l2,2l-2,2l-2,-2z"/><path d="M172.7,174.5l2,2l-2,2l-2,-2z"/><path d="M189.7,188.0l2,2l-2,2l-2,-2z"/><path d="M202.7,183.0l2,2l-2,2l-2,-2z"/><path d="M156.5,167.0l2,2l-2,2l-2,-2z"/><path d="M210.6,189.7l2,2l-2,2l-2,-2z"/><path d="M227.8,186.7l2,2l-2,2l-2,-2z"/><path d="M183.5,188.2l2,2l-2,2l-2,-2z"/><path d="M153.0,164.7l2,2l-2,2l-2,-2z"/><path d="M163.2,166.1l2,2l-2,2l-2,-2z"/><path d="M223.2,188.0l2,2l-2,2l-2,-2z"/><path d="M202.7,186.8l2,2l-2,2l-2,-2z"/><path d="M161.9,171.4l2,2l-2,2l-2,-2z"/><path d="M165.7,170.4l2,2l-2,2l-2,-2z"/><path d="M229.2,192.1l2,2l-2,2l-2,-2z"/><path d="M215.9,192.0l2,2l-2,2l-2,-2z"/><path d="M217.3,188.1l2,2l-2,2l-2,-2z"/><path d="M162.4,174.3l2,2l-2,2l-2,-2z"/><path d="M242.2,192.7l2,2l-2,2l-2,-2z"/><path d="M175.3,173.3l2,2l-2,2l-2,-2z"/><path d="M185.6,176.4l2,2l-2,2l-2,-2z"/><path d="M173.1,171.6l2,2l-2,2l-2,-2z"/><path d="M238.3,186.3l2,2l-2,2l-2,-2z"/><path d="M211.7,190.8l2,2l-2,2l-2,-2z"/><path d="M204.6,185.1l2,2l-2,2l-2,-2z"/><path d="M191.5,178.5l2,2l-2,2l-2,-2z"/><path d="M219.2,189.0l2,2l-2,2l-2,-2z"/><path d="M196.7,182.3l2,2l-2,2l-2,-2z"/><path d="M196.1,178.7l2,2l-2,2l-2,-2z"/><path d="M163.8,170.5l2,2l-2,2l-2,-2z"/><path d="M228.3,192.5l2,2l-2,2l-2,-2z"/><path d="M152.9,169.7l2,2l-2,2l-2,-2z"/><path d="M235.4,194.3l2,2l-2,2l-2,-2z"/><path d="M236.1,189.6l2,2l-2,2l-2,-2z"/><path d="M201.9,192.1l2,2l-2,2l-2,-2z"/><path d="M165.2,170.7l2,2l-2,2l-2,-2z"/><path d="M171.3,176.3l2,2l-2,2l-2,-2z"/><path d="M162.4,173.5l2,2l-2,2l-2,-2z"/><path d="M217.8,187.8l2,2l-2,2l-2,-2z"/><path d="M186.5,177.1l2,2l-2,2l-2,-2z"/><path d="M241.5,191.9l2,2l-2,2l-2,-2z"/><path d="M184.3,188.2l2,2l-2,2l-2,-2z"/><path d="M183.2,179.0l2,2l-2,2l-2,-2z"/><path d="M215.7,187.1l2,2l-2,2l-2,-2z"/><path d="M232.9,187.8l2,2l-2,2l-2,-2z"/><path d="M202.2,188.7l2,2l-2,2l-2,-2z"/><path d="M160.2,170.0l2,2l-2,2l-2,-2z"/><path d="M166.0,169.5l2,2l-2,2l-2,-2z"/><path d="M219.0,192.8l2,2l-2,2l-2,-2z"/><path d="M223.4,183.7l2,2l-2,2l-2,-2z"/><path d="M242.1,193.0l2,2l-2,2l-2,-2z"/><path d="M206.4,191.4l2,2l-2,2l-2,-2z"/><path d="M224.8,184.8l2,2l-2,2l-2,-2z"/><path d="M215.5,182.6l2,2l-2,2l-2,-2z"/><path d="M204.3,188.4l2,2l-2,2l-2,-2z"/><path d="M227.0,190.0l2,2l-2,2l-2,-2z"/><path d="M169.8,170.6l2,2l-2,2l-2,-2z"/><path d="M164.0,170.7l2,2l-2,2l-2,-2z"/><path d="M181.1,174.2l2,2l-2,2l-2,-2z"/><path d="M188.7,181.6l2,2l-2,2l-2,-2z"/><path d="M238.8,190.2l2,2l-2,2l-2,-2z"/><path d="M228.5,193.2l2,2l-2,2l-2,-2z"/><path d="M221.6,187.3l2,2l-2,2l-2,-2z"/><path d="M234.0,186.5l2,2l-2,2l-2,-2z"/><path d="M188.5,189.7l2,2l-2,2l-2,-2z"/><path d="M241.7,191.3l2,2l-2,2l-2,-2z"/><path d="M235.4,186.4l2,2l-2,2l-2,-2z"/><path d="M167.7,168.1l2,2l-2,2l-2,-2z"/><path d="M188.0,180.9l2,2l-2,2l-2,-2z"/><path d="M180.9,176.4l2,2l-2,2l-2,-2z"/><path d="M168.6,172.6l2,2l-2,2l-2,-2z"/><path d="M237.8,187.9l2,2l-2,2l-2,-2z"/><path d="M189.2,189.3l2,2l-2,2l-2,-2z"/><path d="M232.2,192.5l2,2l-2,2l-2,-2z"/><path d="M208.5,189.2l2,2l-2,2l-2,-2z"/><path d="M152.0,163.7l2,2l-2,2l-2,-2z"/><path d="M193.4,188.4l2,2l-2,2l-2,-2z"/><path d="M224.6,187.9l2,2l-2,2l-2,-2z"/><path d="M182.1,186.7l2,2l-2,2l-2,-2z"/><path d="M179.4,172.8l2,2l-2,2l-2,-2z"/><path d="M156.6,165.2l2,2l-2,2l-2,-2z"/><path d="M197.3,180.2l2,2l-2,2l-2,-2z"/><path d="M238.3,192.8l2,2l-2,2l-2,-2z"/><path d="M145.5,169.1l2,2l-2,2l-2,-2z"/><path d="M233.6,192.0l2,2l-2,2l-2,-2z"/><path d="M208.8,184.9l2,2l-2,2l-2,-2z"/><path d="M178.1,172.4l2,2l-2,2l-2,-2z"/><path d="M234.6,194.0l2,2l-2,2l-2,-2z"/><path d="M237.0,186.9l2,2l-2,2l-2,-2z"/><path d="M240.8,192.8l2,2l-2,2l-2,-2z"/><path d="M196.2,184.6l2,2l-2,2l-2,-2z"/><path d="M191.6,181.4l2,2l-2,2l-2,-2z"/><path d="M214.6,186.9l2,2l-2,2l-2,-2z"/><path d="M233.8,185.7l2,2l-2,2l-2,-2z"/><path d="M185.2,175.9l2,2l-2,2l-2,-2z"/><path d="M183.4,187.1l2,2l-2,2l-2,-2z"/><path d="M191.0,182.9l2,2l-2,2l-2,-2z"/><path d="M145.9,167.2l2,2l-2,2l-2,-2z"/><path d="M229.7,187.7l2,2l-2,2l-2,-2z"/><path d="M195.7,184.6l2,2l-2,2l-2,-2z"/><path d="M196.6,189.1l2,2l-2,2l-2,-2z"/><path d="M211.8,189.3l2,2l-2,2l-2,-2z"/><path d="M227.1,188.1l2,2l-2,2l-2,-2z"/><path d="M218.2,187.9l2,2l-2,2l-2,-2z"/><path d="M183.5,189.1l2,2l-2,2l-2,-2z"/><path d="M179.6,172.6l2,2l-2,2l-2,-2z"/><path d="M183.5,179.8l2,2l-2,2l-2,-2z"/><path d="M202.7,181.6l2,2l-2,2l-2,-2z"/><path d="M227.3,185.2l2,2l-2,2l-2,-2z"/><path d="M143.4,162.0l2,2l-2,2l-2,-2z"/><path d="M209.3,190.5l2,2l-2,2l-2,-2z"/><path d="M230.1,189.0l2,2l-2,2l-2,-2z"/><path d="M205.4,187.3l2,2l-2,2l-2,-2z"/><path d="M188.3,179.8l2,2l-2,2l-2,-2z"/><path d="M197.3,183.8l2,2l-2,2l-2,-2z"/><path d="M201.0,185.4l2,2l-2,2l-2,-2z"/><path d="M211.3,191.4l2,2l-2,2l-2,-2z"/><path d="M154.1,164.0l2,2l-2,2l-2,-2z"/><path d="M225.7,185.7l2,2l-2,2l-2,-2z"/><path d="M204.5,182.5l2,2l-2,2l-2,-2z"/><path d="M177.7,178.8l2,2l-2,2l-2,-2z"/><path d="M236.0,189.6l2,2l-2,2l-2,-2z"/><path d="M190.0,186.0l2,2l-2,2l-2,-2z"/><path d="M224.2,194.0l2,2l-2,2l-2,-2z"/><path d="M179.8,186.7l2,2l-2,2l-2,-2z"/><path d="M204.2,183.3l2,2l-2,2l-2,-2z"/><path d="M168.2,173.0l2,2l-2,2l-2,-2z"/><path d="M177.3,179.7l2,2l-2,2l-2,-2z"/><path d="M183.1,185.8l2,2l-2,2l-2,-2z"/><path d="M162.8,171.1l2,2l-2,2l-2,-2z"/><path d="M223.0,185.2l2,2l-2,2l-2,-2z"/><path d="M195.0,178.4l2,2l-2,2l-2,-2z"/><path d="M184.9,179.3l2,2l-2,2l-2,-2z"/><path d="M207.5,188.3l2,2l-2,2l-2,-2z"/><path d="M172.7,172.2l2,2l-2,2l-2,-2z"/><path d="M193.8,183.7l2,2l-2,2l-2,-2z"/><path d="M205.9,185.4l2,2l-2,2l-2,-2z"/><path d="M210.3,192.9l2,2l-2,2l-2,-2z"/><path d="M192.3,186.8l2,2l-2,2l-2,-2z"/><path d="M221.5,193.7l2,2l-2,2l-2,-2z"/><path d="M232.0,189.7l2,2l-2,2l-2,-2z"/><path d="M240.0,190.0l2,2l-2,2l-2,-2z"/><path d="M205.3,192.6l2,2l-2,2l-2,-2z"/><path d="M240.1,189.3l2,2l-2,2l-2,-2z"/><path d="M237.9,190.4l2,2l-2,2l-2,-2z"/><path d="M213.8,182.3l2,2l-2,2l-2,-2z"/><path d="M161.7,167.1l2,2l-2,2l-2,-2z"/><path d="M212.5,185.2l2,2l-2,2l-2,-2z"/><path d="M202.6,183.1l2,2l-2,2l-2,-2z"/><path d="M217.9,187.6l2,2l-2,2l-2,-2z"/><path d="M177.1,185.3l2,2l-2,2l-2,-2z"/><path d="M242.4,187.7l2,2l-2,2l-2,-2z"/><path d="M184.8,174.7l2,2l-2,2l-2,-2z"/><path d="M242.9,190.6l2,2l-2,2l-2,-2z"/><path d="M177.6,177.2l2,2l-2,2l-2,-2z"/><path d="M197.6,179.2l2,2l-2,2l-2,-2z"/><path d="M216.1,191.0l2,2l-2,2l-2,-2z"/><path d="M175.9,185.6l2,2l-2,2l-2,-2z"/><path d="M190.8,187.2l2,2l-2,2l-2,-2z"/><path d="M214.4,191.3l2,2l-2,2l-2,-2z"/><path d="M222.3,191.5l2,2l-2,2l-2,-2z"/><path d="M236.1,194.2l2,2l-2,2l-2,-2z"/><path d="M204.5,182.1l2,2l-2,2l-2,-2z"/><path d="M239.9,193.3l2,2l-2,2l-2,-2z"/><path d="M178.2,182.7l2,2l-2,2l-2,-2z"/><path d="M209.7,192.7l2,2l-2,2l-2,-2z"/><path d="M222.7,192.4l2,2l-2,2l-2,-2z"/><path d="M155.2,168.9l2,2l-2,2l-2,-2z"/><path d="M225.2,190.6l2,2l-2,2l-2,-2z"/><path d="M228.0,186.7l2,2l-2,2l-2,-2z"/><path d="M205.5,184.7l2,2l-2,2l-2,-2z"/><path d="M236.7,186.7l2,2l-2,2l-2,-2z"/><path d="M217.7,187.2l2,2l-2,2l-2,-2z"/><path d="M186.9,187.5l2,2l-2,2l-2,-2z"/><path d="M226.9,187.5l2,2l-2,2l-2,-2z"/><path d="M201.5,191.0l2,2l-2,2l-2,-2z"/><path d="M216.3,184.7l2,2l-2,2l-2,-2z"/><path d="M242.0,191.4l2,2l-2,2l-2,-2z"/><path d="M217.4,185.3l2,2l-2,2l-2,-2z"/><path d="M224.4,190.3l2,2l-2,2l-2,-2z"/><path d="M227.7,192.1l2,2l-2,2l-2,-2z"/><path d="M169.4,180.4l2,2l-2,2l-2,-2z"/><path d="M148.7,168.9l2,2l-2,2l-2,-2z"/><path d="M154.2,164.5l2,2l-2,2l-2,-2z"/><path d="M196.4,187.6l2,2l-2,2l-2,-2z"/><path d="M240.2,188.3l2,2l-2,2l-2,-2z"/><path d="M194.6,184.7l2,2l-2,2l-2,-2z"/><path d="M236.7,186.6l2,2l-2,2l-2,-2z"/><path d="M179.4,179.0l2,2l-2,2l-2,-2z"/><path d="M162.6,172.6l2,2l-2,2l-2,-2z"/><path d="M190.8,177.9l2,2l-2,2l-2,-2z"/><path d="M230.1,190.3l2,2l-2,2l-2,-2z"/><path d="M240.3,193.4l2,2l-2,2l-2,-2z"/><path d="M203.3,186.7l2,2l-2,2l-2,-2z"/><path d="M188.2,180.2l2,2l-2,2l-2,-2z"/><path d="M225.3,186.0l2,2l-2,2l-2,-2z"/><path d="M192.6,183.5l2,2l-2,2l-2,-2z"/><path d="M180.3,178.6l2,2l-2,2l-2,-2z"/><path d="M222.6,190.8l2,2l-2,2l-2,-2z"/><path d="M155.2,170.7l2,2l-2,2l-2,-2z"/><path d="M224.4,191.0l2,2l-2,2l-2,-2z"/><path d="M239.2,192.3l2,2l-2,2l-2,-2z"/><path d="M157.8,172.2l2,2l-2,2l-2,-2z"/><path d="M224.8,191.3l2,2l-2,2l-2,-2z"/><path d="M146.4,164.0l2,2l-2,2l-2,-2z"/><path d="M160.6,171.0l2,2l-2,2l-2,-2z"/><path d="M179.3,178.2l2,2l-2,2l-2,-2z"/><path d="M242.9,186.5l2,2l-2,2l-2,-2z"/><path d="M151.0,168.5l2,2l-2,2l-2,-2z"/><path d="M195.6,179.9l2,2l-2,2l-2,-2z"/><path d="M194.2,187.1l2,2l-2,2l-2,-2z"/><path d="M166.7,173.6l2,2l-2,2l-2,-2z"/><path d="M241.2,186.4l2,2l-2,2l-2,-2z"/><path d="M173.4,176.3l2,2l-2,2l-2,-2z"/><path d="M234.9,190.2l2,2l-2,2l-2,-2z"/><path d="M203.7,183.3l2,2l-2,2l-2,-2z"/><path d="M218.9,193.1l2,2l-2,2l-2,-2z"/><path d="M221.5,193.5l2,2l-2,2l-2,-2z"/><path d="M215.5,183.5l2,2l-2,2l-2,-2z"/><path d="M227.1,191.4l2,2l-2,2l-2,-2z"/><path d="M233.2,188.9l2,2l-2,2l-2,-2z"/><path d="M162.6,174.5l2,2l-2,2l-2,-2z"/><path d="M156.0,173.0l2,2l-2,2l-2,-2z"/><path d="M195.3,184.8l2,2l-2,2l-2,-2z"/><path d="M158.4,170.8l2,2l-2,2l-2,-2z"/><path d="M208.0,185.5l2,2l-2,2l-2,-2z"/><path d="M238.2,191.4l2,2l-2,2l-2,-2z"/><path d="M201.1,192.4l2,2l-2,2l-2,-2z"/><path d="M165.7,170.5l2,2l-2,2l-2,-2z"/><path d="M159.5,164.9l2,2l-2,2l-2,-2z"/><path d="M202.7,192.3l2,2l-2,2l-2,-2z"/><path d="M221.5,183.6l2,2l-2,2l-2,-2z"/><path d="M226.9,191.0l2,2l-2,2l-2,-2z"/><path d="M222.6,189.6l2,2l-2,2l-2,-2z"/><path d="M196.4,183.7l2,2l-2,2l-2,-2z"/><path d="M232.7,193.7l2,2l-2,2l-2,-2z"/><path d="M203.5,181.6l2,2l-2,2l-2,-2z"/><path d="M216.2,185.2l2,2l-2,2l-2,-2z"/><path d="M142.1,166.8l2,2l-2,2l-2,-2z"/><path d="M198.8,179.1l2,2l-2,2l-2,-2z"/><path d="M155.7,166.1l2,2l-2,2l-2,-2z"/><path d="M170.8,171.1l2,2l-2,2l-2,-2z"/><path d="M180.2,179.0l2,2l-2,2l-2,-2z"/><path d="M206.5,189.8l2,2l-2,2l-2,-2z"/><path d="M154.3,172.6l2,2l-2,2l-2,-2z"/><path d="M218.8,185.6l2,2l-2,2l-2,-2z"/><path d="M189.6,176.0l2,2l-2,2l-2,-2z"/><path d="M171.3,180.2l2,2l-2,2l-2,-2z"/><path d="M239.3,193.6l2,2l-2,2l-2,-2z"/><path d="M214.3,182.3l2,2l-2,2l-2,-2z"/><path d="M183.8,183.3l2,2l-2,2l-2,-2z"/><path d="M160.3,171.1l2,2l-2,2l-2,-2z"/><path d="M198.7,186.3l2,2l-2,2l-2,-2z"/><path d="M223.9,190.2l2,2l-2,2l-2,-2z"/><path d="M200.8,183.2l2,2l-2,2l-2,-2z"/><path d="M181.1,186.8l2,2l-2,2l-2,-2z"/><path d="M159.1,166.7l2,2l-2,2l-2,-2z"/><path d="M172.0,184.1l2,2l-2,2l-2,-2z"/><path d="M225.5,193.7l2,2l-2,2l-2,-2z"/><path d="M164.7,175.3l2,2l-2,2l-2,-2z"/><path d="M241.4,189.2l2,2l-2,2l-2,-2z"/><path d="M220.3,193.4l2,2l-2,2l-2,-2z"/><path d="M190.5,179.2l2,2l-2,2l-2,-2z"/><path d="M168.1,174.0l2,2l-2,2l-2,-2z"/><path d="M196.4,185.1l2,2l-2,2l-2,-2z"/><path d="M239.1,186.8l2,2l-2,2l-2,-2z"/><path d="M159.8,175.0l2,2l-2,2l-2,-2z"/><path d="M174.2,172.9l2,2l-2,2l-2,-2z"/><path d="M154.4,167.9l2,2l-2,2l-2,-2z"/><path d="M219.8,184.0l2,2l-2,2l-2,-2z"/><path d="M238.9,188.1l2,2l-2,2l-2,-2z"/><path d="M204.9,190.8l2,2l-2,2l-2,-2z"/><path d="M179.9,183.0l2,2l-2,2l-2,-2z"/><path d="M240.0,188.9l2,2l-2,2l-2,-2z"/><path d="M207.7,188.9l2,2l-2,2l-2,-2z"/><path d="M239.7,187.2l2,2l-2,2l-2,-2z"/><path d="M187.5,185.1l2,2l-2,2l-2,-2z"/><path d="M163.1,175.3l2,2l-2,2l-2,-2z"/><path d="M153.4,163.2l2,2l-2,2l-2,-2z"/><path d="M176.7,175.8l2,2l-2,2l-2,-2z"/><path d="M193.4,180.8l2,2l-2,2l-2,-2z"/><path d="M223.2,184.5l2,2l-2,2l-2,-2z"/><path d="M196.8,190.8l2,2l-2,2l-2,-2z"/><path d="M176.9,182.0l2,2l-2,2l-2,-2z"/><path d="M234.8,190.8l2,2l-2,2l-2,-2z"/><path d="M206.8,188.3l2,2l-2,2l-2,-2z"/><path d="M209.1,189.3l2,2l-2,2l-2,-2z"/><path d="M228.0,187.1l2,2l-2,2l-2,-2z"/><path d="M215.2,184.6l2,2l-2,2l-2,-2z"/><path d="M173.9,171.1l2,2l-2,2l-2,-2z"/><path d="M239.1,187.0l2,2l-2,2l-2,-2z"/><path d="M164.9,168.6l2,2l-2,2l-2,-2z"/><path d="M164.8,175.0l2,2l-2,2l-2,-2z"/><path d="M213.2,185.7l2,2l-2,2l-2,-2z"/><path d="M207.3,185.6l2,2l-2,2l-2,-2z"/><path d="M172.6,181.0l2,2l-2,2l-2,-2z"/><path d="M217.9,193.5l2,2l-2,2l-2,-2z"/><path d="M157.3,165.0l2,2l-2,2l-2,-2z"/><path d="M197.4,186.4l2,2l-2,2l-2,-2z"/><path d="M238.6,189.2l2,2l-2,2l-2,-2z"/><path d="M234.4,186.7l2,2l-2,2l-2,-2z"/><path d="M209.2,185.3l2,2l-2,2l-2,-2z"/><path d="M225.8,191.9l2,2l-2,2l-2,-2z"/><path d="M214.5,185.3l2,2l-2,2l-2,-2z"/><path d="M173.0,178.4l2,2l-2,2l-2,-2z"/><path d="M231.3,189.1l2,2l-2,2l-2,-2z"/><path d="M209.9,181.6l2,2l-2,2l-2,-2z"/><path d="M208.5,191.5l2,2l-2,2l-2,-2z"/><path d="M239.1,193.2l2,2l-2,2l-2,-2z"/><path d="M205.2,190.9l2,2l-2,2l-2,-2z"/><path d="M182.8,180.1l2,2l-2,2l-2,-2z"/><path d="M192.3,182.9l2,2l-2,2l-2,-2z"/><path d="M204.8,188.8l2,2l-2,2l-2,-2z"/><path d="M232.4,194.2l2,2l-2,2l-2,-2z"/><path d="M229.9,189.4l2,2l-2,2l-2,-2z"/><path d="M189.9,180.3l2,2l-2,2l-2,-2z"/><path d="M198.6,185.2l2,2l-2,2l-2,-2z"/><path d="M150.5,167.8l2,2l-2,2l-2,-2z"/><path d="M212.3,189.2l2,2l-2,2l-2,-2z"/><path d="M226.6,193.6l2,2l-2,2l-2,-2z"/><path d="M169.1,175.9l2,2l-2,2l-2,-2z"/><path d="M212.1,191.4l2,2l-2,2l-2,-2z"/><path d="M162.4,170.6l2,2l-2,2l-2,-2z"/><path d="M229.6,188.9l2,2l-2,2l-2,-2z"/><path d="M220.4,192.9l2,2l-2,2l-2,-2z"/><path d="M237.6,188.0l2,2l-2,2l-2,-2z"/><path d="M178.4,176.5l2,2l-2,2l-2,-2z"/><path d="M166.0,173.1l2,2l-2,2l-2,-2z"/><path d="M206.2,182.0l2,2l-2,2l-2,-2z"/><path d="M151.7,164.4l2,2l-2,2l-2,-2z"/><path d="M228.1,189.4l2,2l-2,2l-2,-2z"/><path d="M169.8,177.4l2,2l-2,2l-2,-2z"/><path d="M161.6,175.6l2,2l-2,2l-2,-2z"/><path d="M163.4,167.1l2,2l-2,2l-2,-2z"/><path d="M218.0,183.2l2,2l-2,2l-2,-2z"/><path d="M150.5,168.8l2,2l-2,2l-2,-2z"/><path d="M192.2,189.7l2,2l-2,2l-2,-2z"/><path d="M167.3,168.4l2,2l-2,2l-2,-2z"/><path d="M224.7,186.8l2,2l-2,2l-2,-2z"/><path d="M151.2,169.0l2,2l-2,2l-2,-2z"/><path d="M168.9,176.7l2,2l-2,2l-2,-2z"/><path d="M223.9,192.7l2,2l-2,2l-2,-2z"/><path d="M201.2,188.2l2,2l-2,2l-2,-2z"/><path d="M159.3,174.4l2,2l-2,2l-2,-2z"/><path d="M242.2,188.4l2,2l-2,2l-2,-2z"/><path d="M187.3,186.3l2,2l-2,2l-2,-2z"/><path d="M192.0,185.2l2,2l-2,2l-2,-2z"/><path d="M221.3,187.5l2,2l-2,2l-2,-2z"/><path d="M199.0,188.6l2,2l-2,2l-2,-2z"/><path d="M228.9,192.7l2,2l-2,2l-2,-2z"/><path d="M203.0,187.4l2,2l-2,2l-2,-2z"/><path d="M174.4,181.4l2,2l-2,2l-2,-2z"/><path d="M203.0,185.3l2,2l-2,2l-2,-2z"/><path d="M229.6,192.9l2,2l-2,2l-2,-2z"/><path d="M178.1,177.6l2,2l-2,2l-2,-2z"/><path d="M212.1,189.1l2,2l-2,2l-2,-2z"/><path d="M207.0,188.1l2,2l-2,2l-2,-2z"/><path d="M217.1,188.4l2,2l-2,2l-2,-2z"/><path d="M186.2,188.7l2,2l-2,2l-2,-2z"/><path d="M172.3,180.4l2,2l-2,2l-2,-2z"/><path d="M214.6,188.9l2,2l-2,2l-2,-2z"/><path d="M230.4,191.5l2,2l-2,2l-2,-2z"/><path d="M197.0,188.0l2,2l-2,2l-2,-2z"/><path d="M162.0,168.9l2,2l-2,2l-2,-2z"/><path d="M226.7,187.3l2,2l-2,2l-2,-2z"/><path d="M202.3,187.7l2,2l-2,2l-2,-2z"/><path d="M216.2,184.0l2,2l-2,2l-2,-2z"/><path d="M157.6,172.3l2,2l-2,2l-2,-2z"/><path d="M225.0,191.8l2,2l-2,2l-2,-2z"/><path d="M187.4,184.8l2,2l-2,2l-2,-2z"/><path d="M233.9,188.1l2,2l-2,2l-2,-2z"/><path d="M174.6,185.7l2,2l-2,2l-2,-2z"/><path d="M143.0,166.6l2,2l-2,2l-2,-2z"/><path d="M182.1,186.6l2,2l-2,2l-2,-2z"/><path d="M219.8,190.9l2,2l-2,2l-2,-2z"/><path d="M219.5,189.1l2,2l-2,2l-2,-2z"/><path d="M230.4,187.3l2,2l-2,2l-2,-2z"/><path d="M170.5,171.1l2,2l-2,2l-2,-2z"/><path d="M208.3,191.0l2,2l-2,2l-2,-2z"/><path d="M153.8,169.2l2,2l-2,2l-2,-2z"/><path d="M172.1,172.9l2,2l-2,2l-2,-2z"/><path d="M149.9,164.5l2,2l-2,2l-2,-2z"/><path d="M211.4,187.4l2,2l-2,2l-2,-2z"/><path d="M234.4,191.0l2,2l-2,2l-2,-2z"/><path d="M209.0,190.4l2,2l-2,2l-2,-2z"/><path d="M209.1,187.0l2,2l-2,2l-2,-2z"/><path d="M235.1,187.4l2,2l-2,2l-2,-2z"/><path d="M183.1,184.1l2,2l-2,2l-2,-2z"/><path d="M204.9,182.0l2,2l-2,2l-2,-2z"/><path d="M227.2,185.8l2,2l-2,2l-2,-2z"/><path d="M168.7,172.8l2,2l-2,2l-2,-2z"/><path d="M218.0,189.0l2,2l-2,2l-2,-2z"/><path d="M154.4,163.3l2,2l-2,2l-2,-2z"/><path d="M187.2,176.9l2,2l-2,2l-2,-2z"/><path d="M167.6,176.4l2,2l-2,2l-2,-2z"/><path d="M193.3,183.0l2,2l-2,2l-2,-2z"/><path d="M169.8,174.6l2,2l-2,2l-2,-2z"/><path d="M152.2,167.3l2,2l-2,2l-2,-2z"/><path d="M194.4,180.0l2,2l-2,2l-2,-2z"/><path d="M189.2,190.1l2,2l-2,2l-2,-2z"/><path d="M220.7,193.1l2,2l-2,2l-2,-2z"/><path d="M144.7,166.4l2,2l-2,2l-2,-2z"/><path d="M212.1,182.8l2,2l-2,2l-2,-2z"/><path d="M149.7,168.6l2,2l-2,2l-2,-2z"/><path d="M198.3,189.6l2,2l-2,2l-2,-2z"/><path d="M145.8,164.6l2,2l-2,2l-2,-2z"/><path d="M235.7,186.6l2,2l-2,2l-2,-2z"/><path d="M198.5,188.6l2,2l-2,2l-2,-2z"/><path d="M197.5,187.1l2,2l-2,2l-2,-2z"/><path d="M153.6,166.9l2,2l-2,2l-2,-2z"/><path d="M225.2,186.9l2,2l-2,2l-2,-2z"/><path d="M176.6,185.7l2,2l-2,2l-2,-2z"/><path d="M196.9,179.5l2,2l-2,2l-2,-2z"/><path d="M219.6,186.4l2,2l-2,2l-2,-2z"/><path d="M225.6,188.8l2,2l-2,2l-2,-2z"/><path d="M188.8,184.3l2,2l-2,2l-2,-2z"/><path d="M152.1,165.3l2,2l-2,2l-2,-2z"/><path d="M241.8,190.9l2,2l-2,2l-2,-2z"/><path d="M175.4,172.3l2,2l-2,2l-2,-2z"/><path d="M149.4,167.1l2,2l-2,2l-2,-2z"/><path d="M210.6,182.5l2,2l-2,2l-2,-2z"/><path d="M232.5,188.5l2,2l-2,2l-2,-2z"/><path d="M155.8,170.7l2,2l-2,2l-2,-2z"/><path d="M149.9,164.4l2,2l-2,2l-2,-2z"/><path d="M215.7,184.1l2,2l-2,2l-2,-2z"/><path d="M206.4,192.6l2,2l-2,2l-2,-2z"/><path d="M175.8,177.5l2,2l-2,2l-2,-2z"/><path d="M176.4,171.8l2,2l-2,2l-2,-2z"/><path d="M223.6,188.1l2,2l-2,2l-2,-2z"/><path d="M145.9,164.1l2,2l-2,2l-2,-2z"/><path d="M173.8,182.8l2,2l-2,2l-2,-2z"/><path d="M186.4,188.2l2,2l-2,2l-2,-2z"/><path d="M224.1,191.6l2,2l-2,2l-2,-2z"/><path d="M181.6,183.5l2,2l-2,2l-2,-2z"/><path d="M151.2,168.0l2,2l-2,2l-2,-2z"/><path d="M221.5,183.9l2,2l-2,2l-2,-2z"/><path d="M216.7,189.9l2,2l-2,2l-2,-2z"/><path d="M160.9,169.1l2,2l-2,2l-2,-2z"/><path d="M220.2,186.2l2,2l-2,2l-2,-2z"/><path d="M210.9,188.2l2,2l-2,2l-2,-2z"/><path d="M187.0,178.5l2,2l-2,2l-2,-2z"/><path d="M206.9,192.9l2,2l-2,2l-2,-2z"/><path d="M199.9,187.2l2,2l-2,2l-2,-2z"/><path d="M225.8,191.6l2,2l-2,2l-2,-2z"/><path d="M239.0,186.5l2,2l-2,2l-2,-2z"/><path d="M184.3,174.3l2,2l-2,2l-2,-2z"/><path d="M156.1,165.3l2,2l-2,2l-2,-2z"/><path d="M186.7,177.5l2,2l-2,2l-2,-2z"/><path d="M208.8,187.8l2,2l-2,2l-2,-2z"/><path d="M175.5,180.9l2,2l-2,2l-2,-2z"/><path d="M164.1,175.8l2,2l-2,2l-2,-2z"/><path d="M170.7,169.9l2,2l-2,2l-2,-2z"/><path d="M230.5,189.4l2,2l-2,2l-2,-2z"/><path d="M218.9,190.1l2,2l-2,2l-2,-2z"/><path d="M160.6,169.3l2,2l-2,2l-2,-2z"/><path d="M180.1,173.4l2,2l-2,2l-2,-2z"/><path d="M177.1,172.7l2,2l-2,2l-2,-2z"/><path d="M159.0,164.5l2,2l-2,2l-2,-2z"/><path d="M229.6,187.6l2,2l-2,2l-2,-2z"/><path d="M179.0,174.4l2,2l-2,2l-2,-2z"/><path d="M205.7,192.3l2,2l-2,2l-2,-2z"/><path d="M188.4,184.9l2,2l-2,2l-2,-2z"/><path d="M153.4,164.0l2,2l-2,2l-2,-2z"/><path d="M148.5,168.0l2,2l-2,2l-2,-2z"/><path d="M217.3,188.3l2,2l-2,2l-2,-2z"/><path d="M211.4,191.4l2,2l-2,2l-2,-2z"/><path d="M199.0,181.5l2,2l-2,2l-2,-2z"/><path d="M166.8,171.3l2,2l-2,2l-2,-2z"/><path d="M184.2,181.4l2,2l-2,2l-2,-2z"/><path d="M200.3,186.1l2,2l-2,2l-2,-2z"/><path d="M171.1,170.9l2,2l-2,2l-2,-2z"/><path d="M206.7,191.0l2,2l-2,2l-2,-2z"/><path d="M229.7,186.0l2,2l-2,2l-2,-2z"/><path d="M166.8,172.7l2,2l-2,2l-2,-2z"/><path d="M237.3,190.5l2,2l-2,2l-2,-2z"/><path d="M200.4,185.2l2,2l-2,2l-2,-2z"/><path d="M241.1,188.7l2,2l-2,2l-2,-2z"/><path d="M240.3,192.0l2,2l-2,2l-2,-2z"/><path d="M152.6,167.9l2,2l-2,2l-2,-2z"/><path d="M216.1,190.2l2,2l-2,2l-2,-2z"/><path d="M174.1,182.1l2,2l-2,2l-2,-2z"/><path d="M210.7,192.5l2,2l-2,2l-2,-2z"/><path d="M233.9,189.6l2,2l-2,2l-2,-2z"/><path d="M195.8,183.7l2,2l-2,2l-2,-2z"/><path d="M213.6,192.7l2,2l-2,2l-2,-2z"/><path d="M214.9,193.3l2,2l-2,2l-2,-2z"/><path d="M168.0,178.9l2,2l-2,2l-2,-2z"/><path d="M192.6,179.8l2,2l-2,2l-2,-2z"/><path d="M179.2,186.4l2,2l-2,2l-2,-2z"/><path d="M198.1,187.4l2,2l-2,2l-2,-2z"/><path d="M223.1,189.0l2,2l-2,2l-2,-2z"/><path d="M163.0,167.1l2,2l-2,2l-2,-2z"/><path d="M204.6,182.4l2,2l-2,2l-2,-2z"/><path d="M200.1,190.7l2,2l-2,2l-2,-2z"/><path d="M188.7,179.8l2,2l-2,2l-2,-2z"/><path d="M229.9,189.1l2,2l-2,2l-2,-2z"/><path d="M185.2,180.8l2,2l-2,2l-2,-2z"/><path d="M226.3,187.9l2,2l-2,2l-2,-2z"/><path d="M153.5,167.2l2,2l-2,2l-2,-2z"/><path class="o w" d="M197.6,184.6l1.95,1.95l-1.95,1.95l-1.95,-1.95z"/><path class="o w" d="M237.5,183.7l1.95,1.95l-1.95,1.95l-1.95,-1.95z"/><path class="o w" d="M214.4,190.5l1.95,1.95l-1.95,1.95l-1.95,-1.95z"/><path class="o w" d="M198.7,187.6l1.95,1.95l-1.95,1.95l-1.95,-1.95z"/><path class="o w" d="M192.1,186.9l1.95,1.95l-1.95,1.95l-1.95,-1.95z"/><path class="o w" d="M231.9,191.9l1.95,1.95l-1.95,1.95l-1.95,-1.95z"/><path class="o w" d="M231.2,185.5l1.95,1.95l-1.95,1.95l-1.95,-1.95z"/><path class="o w" d="M233.1,193.4l1.95,1.95l-1.95,1.95l-1.95,-1.95z"/><path class="o w" d="M219.6,189.1l1.95,1.95l-1.95,1.95l-1.95,-1.95z"/><path class="o w" d="M201.5,187.7l1.95,1.95l-1.95,1.95l-1.95,-1.95z"/><path class="o w" d="M192.0,182.9l1.95,1.95l-1.95,1.95l-1.95,-1.95z"/><path class="o w" d="M204.6,185.3l1.95,1.95l-1.95,1.95l-1.95,-1.95z"/><path class="o w" d="M180.3,179.7l1.95,1.95l-1.95,1.95l-1.95,-1.95z"/><path class="o w" d="M197.3,188.5l1.95,1.95l-1.95,1.95l-1.95,-1.95z"/><path class="o w" d="M202.8,186.3l1.95,1.95l-1.95,1.95l-1.95,-1.95z"/><path class="o w" d="M183.1,180.6l1.95,1.95l-1.95,1.95l-1.95,-1.95z"/><path class="o w" d="M186.7,178.8l1.95,1.95l-1.95,1.95l-1.95,-1.95z"/><path class="o w" d="M183.5,182.4l1.95,1.95l-1.95,1.95l-1.95,-1.95z"/><path class="o w" d="M205.8,186.1l1.95,1.95l-1.95,1.95l-1.95,-1.95z"/><path class="o w" d="M239.0,190.9l1.95,1.95l-1.95,1.95l-1.95,-1.95z"/><path class="o w" d="M240.7,193.1l1.95,1.95l-1.95,1.95l-1.95,-1.95z"/><path class="o w" d="M181.8,182.5l1.95,1.95l-1.95,1.95l-1.95,-1.95z"/><path class="o w" d="M219.6,188.3l1.95,1.95l-1.95,1.95l-1.95,-1.95z"/><path class="o w" d="M168.1,176.6l1.95,1.95l-1.95,1.95l-1.95,-1.95z"/><path class="o w" d="M224.0,189.1l1.95,1.95l-1.95,1.95l-1.95,-1.95z"/><path class="o w" d="M221.5,190.3l1.95,1.95l-1.95,1.95l-1.95,-1.95z"/><path class="o w" d="M214.3,189.2l1.95,1.95l-1.95,1.95l-1.95,-1.95z"/><path class="o w" d="M197.5,184.9l1.95,1.95l-1.95,1.95l-1.95,-1.95z"/><path class="o w" d="M211.1,184.9l1.95,1.95l-1.95,1.95l-1.95,-1.95z"/><path class="o w" d="M174.0,180.4l1.95,1.95l-1.95,1.95l-1.95,-1.95z"/><path class="o w" d="M223.3,191.0l1.95,1.95l-1.95,1.95l-1.95,-1.95z"/><path class="o w" d="M230.6,187.0l1.95,1.95l-1.95,1.95l-1.95,-1.95z"/><path class="o w" d="M179.8,181.2l1.95,1.95l-1.95,1.95l-1.95,-1.95z"/><path class="o w" d="M242.9,189.8l1.95,1.95l-1.95,1.95l-1.95,-1.95z"/><path class="o w" d="M189.0,177.2l1.95,1.95l-1.95,1.95l-1.95,-1.95z"/><path class="o w" d="M238.4,190.3l1.95,1.95l-1.95,1.95l-1.95,-1.95z"/><path class="o w" d="M241.8,193.1l1.95,1.95l-1.95,1.95l-1.95,-1.95z"/><path class="o w" d="M208.3,184.7l1.95,1.95l-1.95,1.95l-1.95,-1.95z"/><path class="o w" d="M234.2,188.3l1.95,1.95l-1.95,1.95l-1.95,-1.95z"/><path class="o w" d="M217.4,190.5l1.95,1.95l-1.95,1.95l-1.95,-1.95z"/><path class="o w" d="M197.0,181.7l1.95,1.95l-1.95,1.95l-1.95,-1.95z"/><path class="o w" d="M225.2,186.6l1.95,1.95l-1.95,1.95l-1.95,-1.95z"/><path class="o w" d="M203.6,184.9l1.95,1.95l-1.95,1.95l-1.95,-1.95z"/><path class="o w" d="M186.8,183.6l1.95,1.95l-1.95,1.95l-1.95,-1.95z"/><path class="o w" d="M230.2,191.1l1.95,1.95l-1.95,1.95l-1.95,-1.95z"/><path class="o w" d="M190.2,181.6l1.95,1.95l-1.95,1.95l-1.95,-1.95z"/><path class="o w" d="M239.4,189.7l1.95,1.95l-1.95,1.95l-1.95,-1.95z"/><path class="o w" d="M190.9,183.3l1.95,1.95l-1.95,1.95l-1.95,-1.95z"/><path class="o w" d="M200.9,184.2l1.95,1.95l-1.95,1.95l-1.95,-1.95z"/><path class="o w" d="M231.9,187.6l1.95,1.95l-1.95,1.95l-1.95,-1.95z"/><path class="o w" d="M233.9,187.2l1.95,1.95l-1.95,1.95l-1.95,-1.95z"/><path class="o w" d="M206.7,188.0l1.95,1.95l-1.95,1.95l-1.95,-1.95z"/><path class="o w" d="M220.4,187.8l1.95,1.95l-1.95,1.95l-1.95,-1.95z"/><path class="o w" d="M239.9,197.7l1.95,1.95l-1.95,1.95l-1.95,-1.95z"/><path class="o w" d="M198.5,186.3l1.95,1.95l-1.95,1.95l-1.95,-1.95z"/><path class="o w" d="M196.7,182.5l1.95,1.95l-1.95,1.95l-1.95,-1.95z"/><path class="o w" d="M181.9,180.8l1.95,1.95l-1.95,1.95l-1.95,-1.95z"/><path class="o w" d="M225.3,189.8l1.95,1.95l-1.95,1.95l-1.95,-1.95z"/><path class="o w" d="M225.4,190.0l1.95,1.95l-1.95,1.95l-1.95,-1.95z"/><path class="o w" d="M183.8,182.4l1.95,1.95l-1.95,1.95l-1.95,-1.95z"/><path class="o w" d="M227.2,190.3l1.95,1.95l-1.95,1.95l-1.95,-1.95z"/><path class="o w" d="M198.3,184.3l1.95,1.95l-1.95,1.95l-1.95,-1.95z"/><path class="o w" d="M214.2,189.1l1.95,1.95l-1.95,1.95l-1.95,-1.95z"/><path class="o w" d="M217.4,193.4l1.95,1.95l-1.95,1.95l-1.95,-1.95z"/><path class="o w" d="M218.8,187.0l1.95,1.95l-1.95,1.95l-1.95,-1.95z"/><path class="o w" d="M216.8,186.9l1.95,1.95l-1.95,1.95l-1.95,-1.95z"/><path class="o w" d="M206.5,188.0l1.95,1.95l-1.95,1.95l-1.95,-1.95z"/><path class="o w" d="M226.0,192.2l1.95,1.95l-1.95,1.95l-1.95,-1.95z"/><path class="o w" d="M191.9,185.3l1.95,1.95l-1.95,1.95l-1.95,-1.95z"/><path class="o w" d="M235.8,193.2l1.95,1.95l-1.95,1.95l-1.95,-1.95z"/><path class="o w" d="M205.7,186.0l1.95,1.95l-1.95,1.95l-1.95,-1.95z"/><path class="o w" d="M230.3,189.0l1.95,1.95l-1.95,1.95l-1.95,-1.95z"/><path class="o w" d="M220.4,190.0l1.95,1.95l-1.95,1.95l-1.95,-1.95z"/><path class="o w" d="M210.2,188.5l1.95,1.95l-1.95,1.95l-1.95,-1.95z"/><path class="o w" d="M211.8,191.3l1.95,1.95l-1.95,1.95l-1.95,-1.95z"/><path class="o w" d="M215.1,191.5l1.95,1.95l-1.95,1.95l-1.95,-1.95z"/><path class="o w" d="M207.9,181.9l1.95,1.95l-1.95,1.95l-1.95,-1.95z"/><path class="o w" d="M217.4,189.9l1.95,1.95l-1.95,1.95l-1.95,-1.95z"/><path class="o w" d="M211.8,185.4l1.95,1.95l-1.95,1.95l-1.95,-1.95z"/><path class="o w" d="M234.3,184.8l1.95,1.95l-1.95,1.95l-1.95,-1.95z"/><path class="o w" d="M196.1,185.2l1.95,1.95l-1.95,1.95l-1.95,-1.95z"/><path class="o w" d="M229.1,189.0l1.95,1.95l-1.95,1.95l-1.95,-1.95z"/><path class="o w" d="M207.4,185.5l1.95,1.95l-1.95,1.95l-1.95,-1.95z"/><path class="o w" d="M234.8,186.9l1.95,1.95l-1.95,1.95l-1.95,-1.95z"/><path class="o w" d="M233.4,187.4l1.95,1.95l-1.95,1.95l-1.95,-1.95z"/><path class="o w" d="M178.6,179.3l1.95,1.95l-1.95,1.95l-1.95,-1.95z"/><path class="o w" d="M239.0,186.7l1.95,1.95l-1.95,1.95l-1.95,-1.95z"/><path class="o w" d="M232.6,189.5l1.95,1.95l-1.95,1.95l-1.95,-1.95z"/><path class="o w" d="M223.3,189.0l1.95,1.95l-1.95,1.95l-1.95,-1.95z"/><path class="o w" d="M190.3,182.5l1.95,1.95l-1.95,1.95l-1.95,-1.95z"/><path class="o w" d="M233.7,190.7l1.95,1.95l-1.95,1.95l-1.95,-1.95z"/><path class="o w" d="M219.3,188.0l1.95,1.95l-1.95,1.95l-1.95,-1.95z"/><path class="o w" d="M193.7,180.8l1.95,1.95l-1.95,1.95l-1.95,-1.95z"/><path class="o w" d="M222.3,186.0l1.95,1.95l-1.95,1.95l-1.95,-1.95z"/><path class="o w" d="M183.5,181.5l1.95,1.95l-1.95,1.95l-1.95,-1.95z"/><path class="o w" d="M225.9,191.4l1.95,1.95l-1.95,1.95l-1.95,-1.95z"/><path class="o w" d="M190.4,183.3l1.95,1.95l-1.95,1.95l-1.95,-1.95z"/><path class="o w" d="M199.6,183.6l1.95,1.95l-1.95,1.95l-1.95,-1.95z"/><path class="o w" d="M171.6,177.8l1.95,1.95l-1.95,1.95l-1.95,-1.95z"/><path class="o w" d="M204.7,181.3l1.95,1.95l-1.95,1.95l-1.95,-1.95z"/><path class="o w" d="M220.3,185.8l1.95,1.95l-1.95,1.95l-1.95,-1.95z"/><path class="o w" d="M223.3,187.8l1.95,1.95l-1.95,1.95l-1.95,-1.95z"/><path class="o w" d="M207.7,186.2l1.95,1.95l-1.95,1.95l-1.95,-1.95z"/><path class="o w" d="M197.6,183.7l1.95,1.95l-1.95,1.95l-1.95,-1.95z"/><path class="o w" d="M180.9,179.7l1.95,1.95l-1.95,1.95l-1.95,-1.95z"/><path class="o w" d="M203.4,182.6l1.95,1.95l-1.95,1.95l-1.95,-1.95z"/><path class="o w" d="M230.8,188.2l1.95,1.95l-1.95,1.95l-1.95,-1.95z"/><path class="o w" d="M239.3,191.1l1.95,1.95l-1.95,1.95l-1.95,-1.95z"/><path class="o w" d="M238.6,185.8l1.95,1.95l-1.95,1.95l-1.95,-1.95z"/><path class="o w" d="M179.7,177.1l1.95,1.95l-1.95,1.95l-1.95,-1.95z"/><path class="o w" d="M219.1,193.1l1.95,1.95l-1.95,1.95l-1.95,-1.95z"/><path class="o w" d="M232.3,192.9l1.95,1.95l-1.95,1.95l-1.95,-1.95z"/><path class="o w" d="M225.0,193.4l1.95,1.95l-1.95,1.95l-1.95,-1.95z"/><path class="o w" d="M221.8,192.9l1.95,1.95l-1.95,1.95l-1.95,-1.95z"/><path class="o w" d="M227.2,193.9l1.95,1.95l-1.95,1.95l-1.95,-1.95z"/><path class="o w" d="M198.9,192.1l1.95,1.95l-1.95,1.95l-1.95,-1.95z"/><path class="o w" d="M197.3,189.7l1.95,1.95l-1.95,1.95l-1.95,-1.95z"/><path class="o w" d="M240.7,192.6l1.95,1.95l-1.95,1.95l-1.95,-1.95z"/><path class="o w" d="M231.1,193.3l1.95,1.95l-1.95,1.95l-1.95,-1.95z"/><path class="o w" d="M208.7,192.8l1.95,1.95l-1.95,1.95l-1.95,-1.95z"/><path class="o w" d="M231.3,192.7l1.95,1.95l-1.95,1.95l-1.95,-1.95z"/><path class="o w" d="M240.2,193.0l1.95,1.95l-1.95,1.95l-1.95,-1.95z"/><path class="o w" d="M236.8,192.9l1.95,1.95l-1.95,1.95l-1.95,-1.95z"/><path class="o w" d="M229.2,191.9l1.95,1.95l-1.95,1.95l-1.95,-1.95z"/><path class="o w" d="M224.4,193.3l1.95,1.95l-1.95,1.95l-1.95,-1.95z"/><path class="o w" d="M228.4,192.0l1.95,1.95l-1.95,1.95l-1.95,-1.95z"/><path class="o w" d="M208.7,192.2l1.95,1.95l-1.95,1.95l-1.95,-1.95z"/><path class="o w" d="M221.0,191.6l1.95,1.95l-1.95,1.95l-1.95,-1.95z"/><path class="o w" d="M238.3,192.0l1.95,1.95l-1.95,1.95l-1.95,-1.95z"/><path class="o w" d="M217.4,192.8l1.95,1.95l-1.95,1.95l-1.95,-1.95z"/><path class="o w" d="M212.9,192.3l1.95,1.95l-1.95,1.95l-1.95,-1.95z"/><path class="o w" d="M224.2,191.9l1.95,1.95l-1.95,1.95l-1.95,-1.95z"/><path class="o w" d="M235.9,192.2l1.95,1.95l-1.95,1.95l-1.95,-1.95z"/><path class="o w" d="M238.6,194.2l1.95,1.95l-1.95,1.95l-1.95,-1.95z"/><path class="o w" d="M242.9,193.1l1.95,1.95l-1.95,1.95l-1.95,-1.95z"/><path class="o w" d="M241.6,194.2l1.95,1.95l-1.95,1.95l-1.95,-1.95z"/><path class="o w" d="M204.6,190.8l1.95,1.95l-1.95,1.95l-1.95,-1.95z"/><path class="o w" d="M221.5,193.4l1.95,1.95l-1.95,1.95l-1.95,-1.95z"/><path class="o w" d="M225.5,193.4l1.95,1.95l-1.95,1.95l-1.95,-1.95z"/><path class="o w" d="M230.6,193.6l1.95,1.95l-1.95,1.95l-1.95,-1.95z"/><path class="o w" d="M204.8,191.1l1.95,1.95l-1.95,1.95l-1.95,-1.95z"/><path class="o w" d="M217.4,193.0l1.95,1.95l-1.95,1.95l-1.95,-1.95z"/><path class="o w" d="M218.0,192.8l1.95,1.95l-1.95,1.95l-1.95,-1.95z"/><path class="o w" d="M227.8,192.1l1.95,1.95l-1.95,1.95l-1.95,-1.95z"/><path class="o w" d="M217.6,192.8l1.95,1.95l-1.95,1.95l-1.95,-1.95z"/><path class="o w" d="M215.2,191.4l1.95,1.95l-1.95,1.95l-1.95,-1.95z"/><path class="o w" d="M208.9,191.0l1.95,1.95l-1.95,1.95l-1.95,-1.95z"/><path class="o w" d="M230.0,193.2l1.95,1.95l-1.95,1.95l-1.95,-1.95z"/><path class="o w" d="M214.9,193.1l1.95,1.95l-1.95,1.95l-1.95,-1.95z"/><path class="o w" d="M209.8,191.0l1.95,1.95l-1.95,1.95l-1.95,-1.95z"/><path class="o w" d="M239.7,193.1l1.95,1.95l-1.95,1.95l-1.95,-1.95z"/><path class="o w" d="M218.3,193.0l1.95,1.95l-1.95,1.95l-1.95,-1.95z"/><path class="o w" d="M213.8,193.5l1.95,1.95l-1.95,1.95l-1.95,-1.95z"/><path class="o w" d="M203.6,191.7l1.95,1.95l-1.95,1.95l-1.95,-1.95z"/><path class="o w" d="M224.2,194.1l1.95,1.95l-1.95,1.95l-1.95,-1.95z"/></g>
<g class="p"><circle class="o" cx="304.2" cy="215.0" r="1.5"/><circle class="o" cx="304.3" cy="216.6" r="1.5"/><circle class="o" cx="304.4" cy="215.2" r="1.5"/><circle class="o" cx="304.5" cy="215.1" r="1.5"/><circle class="o" cx="304.2" cy="217.9" r="1.5"/><circle class="o" cx="304.3" cy="215.9" r="1.5"/><circle cx="304.1" cy="215.3" r="1.7"/><circle cx="304.4" cy="214.1" r="1.7"/><circle cx="304.2" cy="214.1" r="1.7"/><circle cx="304.6" cy="213.8" r="1.7"/><circle cx="303.9" cy="215.9" r="1.7"/><circle cx="304.1" cy="213.4" r="1.7"/><circle cx="304.1" cy="213.2" r="1.7"/><circle cx="304.3" cy="213.9" r="1.7"/><path d="M304.1,212.7l2,2l-2,2l-2,-2z"/><path d="M304.0,213.0l2,2l-2,2l-2,-2z"/><path d="M304.5,214.4l2,2l-2,2l-2,-2z"/><path d="M304.4,212.7l2,2l-2,2l-2,-2z"/><path class="o w" d="M304.2,65.0l1.95,1.95l-1.95,1.95l-1.95,-1.95z"/><path class="o w" d="M304.2,82.0l1.95,1.95l-1.95,1.95l-1.95,-1.95z"/><path class="o w" d="M304.2,96.0l1.95,1.95l-1.95,1.95l-1.95,-1.95z"/><path class="o w" d="M304.2,105.0l1.95,1.95l-1.95,1.95l-1.95,-1.95z"/><path class="o w" d="M304.2,108.0l1.95,1.95l-1.95,1.95l-1.95,-1.95z"/><circle class="o" cx="348.8" cy="206.4" r="1.5"/><circle class="o" cx="344.3" cy="211.2" r="1.5"/><circle class="o" cx="353.1" cy="202.8" r="1.5"/><circle class="o" cx="331.1" cy="214.9" r="1.5"/><circle class="o" cx="354.9" cy="203.2" r="1.5"/><circle class="o" cx="357.4" cy="203.6" r="1.5"/><circle class="o" cx="335.4" cy="214.3" r="1.5"/><circle class="o" cx="355.1" cy="210.1" r="1.5"/><circle class="o" cx="347.7" cy="206.9" r="1.5"/><circle class="o" cx="329.2" cy="212.3" r="1.5"/><circle class="o" cx="337.1" cy="214.6" r="1.5"/><circle class="o" cx="330.1" cy="206.9" r="1.5"/><circle class="o" cx="354.0" cy="211.6" r="1.5"/><circle class="o" cx="329.4" cy="216.4" r="1.5"/><circle class="o" cx="353.0" cy="202.6" r="1.5"/><circle class="o" cx="331.1" cy="215.9" r="1.5"/><circle class="o" cx="353.5" cy="208.0" r="1.5"/><circle class="o" cx="349.9" cy="209.8" r="1.5"/><circle class="o" cx="347.7" cy="200.5" r="1.5"/><circle class="o" cx="330.8" cy="212.1" r="1.5"/><circle class="o" cx="347.1" cy="208.4" r="1.5"/><circle class="o" cx="343.9" cy="208.7" r="1.5"/><circle class="o" cx="333.7" cy="211.5" r="1.5"/><circle class="o" cx="357.0" cy="203.8" r="1.5"/><circle class="o" cx="355.9" cy="193.9" r="1.5"/><circle class="o" cx="344.8" cy="209.1" r="1.5"/><circle class="o" cx="354.1" cy="203.5" r="1.5"/><circle class="o" cx="333.2" cy="212.4" r="1.5"/><circle class="o" cx="327.2" cy="213.1" r="1.5"/><circle class="o" cx="333.2" cy="212.6" r="1.5"/><circle class="o" cx="341.7" cy="211.5" r="1.5"/><circle class="o" cx="353.9" cy="213.4" r="1.5"/><circle class="o" cx="351.6" cy="204.2" r="1.5"/><circle class="o" cx="329.8" cy="217.2" r="1.5"/><circle class="o" cx="350.9" cy="206.8" r="1.5"/><circle class="o" cx="353.3" cy="203.2" r="1.5"/><circle class="o" cx="342.3" cy="205.8" r="1.5"/><circle class="o" cx="339.1" cy="213.9" r="1.5"/><circle class="o" cx="338.1" cy="207.0" r="1.5"/><circle class="o" cx="328.2" cy="215.7" r="1.5"/><circle class="o" cx="330.4" cy="214.1" r="1.5"/><circle class="o" cx="339.5" cy="209.4" r="1.5"/><circle class="o" cx="339.7" cy="209.1" r="1.5"/><circle class="o" cx="340.4" cy="212.5" r="1.5"/><circle class="o" cx="337.3" cy="212.1" r="1.5"/><circle class="o" cx="352.0" cy="210.1" r="1.5"/><circle class="o" cx="327.1" cy="214.1" r="1.5"/><circle class="o" cx="327.5" cy="213.0" r="1.5"/><circle class="o" cx="355.0" cy="208.0" r="1.5"/><circle class="o" cx="342.4" cy="206.5" r="1.5"/><circle class="o" cx="343.5" cy="213.0" r="1.5"/><circle class="o" cx="338.2" cy="211.6" r="1.5"/><circle class="o" cx="336.6" cy="208.6" r="1.5"/><circle class="o" cx="333.8" cy="209.8" r="1.5"/><circle class="o" cx="340.5" cy="209.9" r="1.5"/><circle class="o" cx="351.2" cy="200.6" r="1.5"/><circle class="o" cx="322.6" cy="217.2" r="1.5"/><circle class="o" cx="355.4" cy="209.6" r="1.5"/><circle class="o" cx="327.9" cy="211.7" r="1.5"/><circle class="o" cx="338.8" cy="210.9" r="1.5"/><circle class="o" cx="351.2" cy="214.0" r="1.5"/><circle class="o" cx="325.8" cy="215.1" r="1.5"/><circle class="o" cx="344.7" cy="206.3" r="1.5"/><circle class="o" cx="343.1" cy="203.1" r="1.5"/><circle class="o" cx="341.2" cy="205.5" r="1.5"/><circle class="o" cx="351.3" cy="212.1" r="1.5"/><circle class="o" cx="325.7" cy="215.0" r="1.5"/><circle class="o" cx="329.0" cy="210.8" r="1.5"/><circle class="o" cx="354.3" cy="209.0" r="1.5"/><circle class="o" cx="355.6" cy="204.1" r="1.5"/><circle class="o" cx="385.5" cy="189.6" r="1.5"/><circle class="o" cx="385.0" cy="194.4" r="1.5"/><circle class="o" cx="441.4" cy="114.8" r="1.5"/><circle class="o" cx="353.8" cy="198.4" r="1.5"/><circle class="o" cx="464.9" cy="119.4" r="1.5"/><circle class="o" cx="366.8" cy="193.2" r="1.5"/><circle class="o" cx="422.3" cy="119.3" r="1.5"/><circle class="o" cx="375.6" cy="196.9" r="1.5"/><circle class="o" cx="429.9" cy="109.9" r="1.5"/><circle class="o" cx="449.4" cy="99.5" r="1.5"/><circle class="o" cx="400.5" cy="154.7" r="1.5"/><circle class="o" cx="404.7" cy="145.1" r="1.5"/><circle class="o" cx="463.6" cy="91.0" r="1.5"/><circle class="o" cx="418.9" cy="139.9" r="1.5"/><circle class="o" cx="392.3" cy="162.8" r="1.5"/><circle class="o" cx="375.3" cy="183.3" r="1.5"/><circle class="o" cx="448.6" cy="99.2" r="1.5"/><circle class="o" cx="431.6" cy="136.2" r="1.5"/><circle class="o" cx="385.6" cy="161.9" r="1.5"/><circle class="o" cx="409.1" cy="154.3" r="1.5"/><circle class="o" cx="363.2" cy="187.4" r="1.5"/><circle class="o" cx="440.5" cy="113.3" r="1.5"/><circle class="o" cx="454.3" cy="93.0" r="1.5"/><circle class="o" cx="434.9" cy="120.1" r="1.5"/><circle class="o" cx="433.0" cy="99.3" r="1.5"/><circle class="o" cx="362.2" cy="198.1" r="1.5"/><circle class="o" cx="455.5" cy="91.7" r="1.5"/><circle class="o" cx="419.6" cy="115.1" r="1.5"/><circle class="o" cx="453.9" cy="95.4" r="1.5"/><circle class="o" cx="437.0" cy="115.1" r="1.5"/><circle class="o" cx="453.0" cy="85.1" r="1.5"/><circle class="o" cx="444.0" cy="100.0" r="1.5"/><circle class="o" cx="435.3" cy="122.8" r="1.5"/><circle class="o" cx="420.1" cy="122.7" r="1.5"/><circle class="o" cx="381.5" cy="186.6" r="1.5"/><circle class="o" cx="378.0" cy="189.9" r="1.5"/><circle class="o" cx="456.0" cy="82.6" r="1.5"/><circle class="o" cx="442.8" cy="118.2" r="1.5"/><circle class="o" cx="378.2" cy="170.7" r="1.5"/><circle class="o" cx="358.6" cy="198.5" r="1.5"/><circle class="o" cx="451.7" cy="113.9" r="1.5"/><circle class="o" cx="345.1" cy="210.6" r="1.5"/><circle class="o" cx="422.9" cy="139.5" r="1.5"/><circle class="o" cx="432.6" cy="126.3" r="1.5"/><circle class="o" cx="399.5" cy="160.4" r="1.5"/><circle class="o" cx="455.9" cy="83.8" r="1.5"/><circle class="o" cx="425.5" cy="125.5" r="1.5"/><circle class="o" cx="464.6" cy="99.5" r="1.5"/><circle class="o" cx="430.7" cy="138.4" r="1.5"/><circle class="o" cx="415.2" cy="130.2" r="1.5"/><circle class="o" cx="355.3" cy="210.4" r="1.5"/><circle class="o" cx="452.2" cy="109.4" r="1.5"/><circle class="o" cx="360.4" cy="196.2" r="1.5"/><circle class="o" cx="381.1" cy="188.1" r="1.5"/><circle class="o" cx="425.8" cy="108.8" r="1.5"/><circle class="o" cx="429.9" cy="107.6" r="1.5"/><circle class="o" cx="457.2" cy="95.2" r="1.5"/><circle class="o" cx="459.4" cy="106.3" r="1.5"/><circle class="o" cx="456.7" cy="79.4" r="1.5"/><circle class="o" cx="441.9" cy="90.4" r="1.5"/><circle class="o" cx="394.2" cy="159.7" r="1.5"/><circle class="o" cx="434.4" cy="119.4" r="1.5"/><circle class="o" cx="365.6" cy="206.2" r="1.5"/><circle class="o" cx="387.2" cy="194.3" r="1.5"/><circle class="o" cx="465.0" cy="80.9" r="1.5"/><circle class="o" cx="424.7" cy="117.2" r="1.5"/><circle class="o" cx="457.5" cy="78.6" r="1.5"/><circle class="o" cx="367.0" cy="206.6" r="1.5"/><circle class="o" cx="420.0" cy="154.4" r="1.5"/><circle class="o" cx="369.3" cy="207.1" r="1.5"/><circle class="o" cx="432.5" cy="131.3" r="1.5"/><circle class="o" cx="457.3" cy="95.5" r="1.5"/><circle class="o" cx="400.8" cy="150.0" r="1.5"/><circle class="o" cx="345.8" cy="198.7" r="1.5"/><circle class="o" cx="388.2" cy="169.7" r="1.5"/><circle class="o" cx="356.2" cy="196.1" r="1.5"/><circle class="o" cx="403.3" cy="155.9" r="1.5"/><circle class="o" cx="443.3" cy="118.4" r="1.5"/><circle class="o" cx="463.4" cy="74.9" r="1.5"/><circle class="o" cx="381.4" cy="195.6" r="1.5"/><circle class="o" cx="364.7" cy="186.7" r="1.5"/><circle class="o" cx="350.4" cy="200.1" r="1.5"/><circle class="o" cx="385.1" cy="174.9" r="1.5"/><circle class="o" cx="378.9" cy="172.7" r="1.5"/><circle class="o" cx="372.4" cy="198.1" r="1.5"/><circle class="o" cx="452.6" cy="75.4" r="1.5"/><circle class="o" cx="382.4" cy="184.6" r="1.5"/><circle class="o" cx="366.0" cy="197.7" r="1.5"/><circle class="o" cx="365.0" cy="199.0" r="1.5"/><circle class="o" cx="434.6" cy="112.4" r="1.5"/><circle class="o" cx="400.1" cy="167.1" r="1.5"/><circle class="o" cx="395.0" cy="182.7" r="1.5"/><circle class="o" cx="432.2" cy="132.4" r="1.5"/><circle class="o" cx="423.8" cy="124.0" r="1.5"/><circle class="o" cx="403.9" cy="171.6" r="1.5"/><circle class="o" cx="422.4" cy="132.7" r="1.5"/><circle class="o" cx="385.2" cy="184.9" r="1.5"/><circle class="o" cx="400.3" cy="170.0" r="1.5"/><circle class="o" cx="428.9" cy="124.2" r="1.5"/><circle class="o" cx="346.5" cy="201.0" r="1.5"/><circle class="o" cx="397.4" cy="183.2" r="1.5"/><circle class="o" cx="394.3" cy="152.4" r="1.5"/><circle class="o" cx="387.0" cy="160.2" r="1.5"/><circle class="o" cx="408.5" cy="157.6" r="1.5"/><circle class="o" cx="430.5" cy="101.5" r="1.5"/><circle class="o" cx="436.1" cy="138.2" r="1.5"/><circle class="o" cx="439.7" cy="102.6" r="1.5"/><circle class="o" cx="422.5" cy="129.0" r="1.5"/><circle class="o" cx="345.5" cy="205.1" r="1.5"/><circle class="o" cx="377.4" cy="200.7" r="1.5"/><circle class="o" cx="428.0" cy="141.0" r="1.5"/><circle class="o" cx="360.4" cy="207.7" r="1.5"/><circle class="o" cx="417.8" cy="126.7" r="1.5"/><circle class="o" cx="345.4" cy="203.0" r="1.5"/><circle class="o" cx="447.5" cy="88.0" r="1.5"/><circle class="o" cx="367.1" cy="200.2" r="1.5"/><circle class="o" cx="400.6" cy="159.2" r="1.5"/><circle class="o" cx="360.9" cy="202.9" r="1.5"/><circle class="o" cx="368.4" cy="181.5" r="1.5"/><circle class="o" cx="405.0" cy="164.0" r="1.5"/><circle class="o" cx="411.0" cy="145.8" r="1.5"/><circle class="o" cx="450.2" cy="108.3" r="1.5"/><circle class="o" cx="372.4" cy="184.1" r="1.5"/><circle class="o" cx="452.3" cy="103.0" r="1.5"/><circle class="o" cx="376.2" cy="197.5" r="1.5"/><circle class="o" cx="395.7" cy="171.1" r="1.5"/><circle class="o" cx="460.9" cy="78.6" r="1.5"/><circle class="o" cx="410.1" cy="146.9" r="1.5"/><circle class="o" cx="378.4" cy="192.9" r="1.5"/><circle class="o" cx="402.8" cy="142.7" r="1.5"/><circle class="o" cx="445.6" cy="88.1" r="1.5"/><circle class="o" cx="451.0" cy="89.0" r="1.5"/><circle class="o" cx="359.8" cy="203.3" r="1.5"/><circle class="o" cx="410.2" cy="138.9" r="1.5"/><circle class="o" cx="393.4" cy="167.8" r="1.5"/><circle class="o" cx="355.7" cy="206.1" r="1.5"/><circle class="o" cx="401.2" cy="166.0" r="1.5"/><circle class="o" cx="383.5" cy="174.9" r="1.5"/><circle class="o" cx="436.1" cy="100.9" r="1.5"/><circle class="o" cx="345.6" cy="209.0" r="1.5"/><circle class="o" cx="402.8" cy="176.6" r="1.5"/><circle class="o" cx="389.7" cy="156.9" r="1.5"/><circle class="o" cx="399.0" cy="165.2" r="1.5"/><circle class="o" cx="400.5" cy="155.0" r="1.5"/><circle class="o" cx="463.1" cy="113.7" r="1.5"/><circle class="o" cx="430.0" cy="132.4" r="1.5"/><circle class="o" cx="394.5" cy="180.5" r="1.5"/><circle class="o" cx="388.8" cy="183.4" r="1.5"/><circle class="o" cx="400.9" cy="146.1" r="1.5"/><circle class="o" cx="458.1" cy="93.3" r="1.5"/><circle class="o" cx="419.8" cy="132.4" r="1.5"/><circle class="o" cx="460.3" cy="104.3" r="1.5"/><circle class="o" cx="372.1" cy="185.5" r="1.5"/><circle class="o" cx="410.9" cy="139.1" r="1.5"/><circle class="o" cx="434.1" cy="129.0" r="1.5"/><circle class="o" cx="445.9" cy="93.8" r="1.5"/><circle class="o" cx="358.6" cy="193.0" r="1.5"/><circle class="o" cx="397.2" cy="154.5" r="1.5"/><circle class="o" cx="451.2" cy="105.1" r="1.5"/><circle class="o" cx="421.7" cy="149.3" r="1.5"/><circle class="o" cx="363.8" cy="199.9" r="1.5"/><circle class="o" cx="398.9" cy="162.3" r="1.5"/><circle class="o" cx="408.6" cy="152.4" r="1.5"/><circle class="o" cx="343.0" cy="208.4" r="1.5"/><circle class="o" cx="399.0" cy="146.8" r="1.5"/><circle class="o" cx="405.3" cy="141.4" r="1.5"/><circle class="o" cx="461.3" cy="107.7" r="1.5"/><circle class="o" cx="410.5" cy="161.1" r="1.5"/><circle class="o" cx="411.6" cy="140.6" r="1.5"/><circle class="o" cx="354.7" cy="200.2" r="1.5"/><circle class="o" cx="349.0" cy="202.1" r="1.5"/><circle class="o" cx="403.6" cy="170.3" r="1.5"/><circle class="o" cx="423.7" cy="122.5" r="1.5"/><circle class="o" cx="373.8" cy="194.4" r="1.5"/><circle class="o" cx="417.0" cy="135.6" r="1.5"/><circle class="o" cx="357.4" cy="200.0" r="1.5"/><circle class="o" cx="380.9" cy="173.3" r="1.5"/><circle class="o" cx="411.0" cy="131.2" r="1.5"/><circle class="o" cx="385.1" cy="180.9" r="1.5"/><circle class="o" cx="401.8" cy="151.4" r="1.5"/><circle class="o" cx="433.1" cy="118.5" r="1.5"/><circle class="o" cx="368.6" cy="182.3" r="1.5"/><circle class="o" cx="426.6" cy="112.5" r="1.5"/><circle class="o" cx="461.2" cy="109.2" r="1.5"/><circle class="o" cx="445.9" cy="108.3" r="1.5"/><circle class="o" cx="393.4" cy="177.2" r="1.5"/><circle class="o" cx="424.6" cy="138.9" r="1.5"/><circle class="o" cx="359.8" cy="197.6" r="1.5"/><circle class="o" cx="434.2" cy="116.2" r="1.5"/><circle class="o" cx="437.2" cy="121.5" r="1.5"/><circle class="o" cx="374.2" cy="179.1" r="1.5"/><circle class="o" cx="394.0" cy="164.0" r="1.5"/><circle class="o" cx="420.7" cy="110.2" r="1.5"/><circle class="o" cx="426.9" cy="147.6" r="1.5"/><circle class="o" cx="422.5" cy="141.3" r="1.5"/><circle class="o" cx="437.3" cy="100.5" r="1.5"/><circle class="o" cx="448.8" cy="120.7" r="1.5"/><circle class="o" cx="404.8" cy="172.3" r="1.5"/><circle class="o" cx="345.4" cy="213.8" r="1.5"/><circle class="o" cx="443.8" cy="95.0" r="1.5"/><circle class="o" cx="359.3" cy="196.5" r="1.5"/><circle class="o" cx="412.0" cy="134.9" r="1.5"/><circle class="o" cx="433.3" cy="132.7" r="1.5"/><circle class="o" cx="443.9" cy="108.9" r="1.5"/><circle class="o" cx="412.0" cy="162.9" r="1.5"/><circle class="o" cx="424.0" cy="132.6" r="1.5"/><circle class="o" cx="461.5" cy="97.1" r="1.5"/><circle class="o" cx="439.7" cy="101.4" r="1.5"/><circle class="o" cx="382.2" cy="178.6" r="1.5"/><circle class="o" cx="458.2" cy="83.1" r="1.5"/><circle class="o" cx="429.2" cy="128.1" r="1.5"/><circle class="o" cx="384.4" cy="174.4" r="1.5"/><circle class="o" cx="381.1" cy="174.4" r="1.5"/><circle class="o" cx="401.6" cy="137.6" r="1.5"/><circle class="o" cx="409.5" cy="152.0" r="1.5"/><circle class="o" cx="448.1" cy="94.6" r="1.5"/><circle class="o" cx="403.3" cy="167.0" r="1.5"/><circle class="o" cx="433.0" cy="139.8" r="1.5"/><circle class="o" cx="388.5" cy="161.2" r="1.5"/><circle class="o" cx="404.7" cy="141.1" r="1.5"/><circle class="o" cx="387.2" cy="160.6" r="1.5"/><circle class="o" cx="395.5" cy="153.8" r="1.5"/><circle class="o" cx="431.6" cy="112.0" r="1.5"/><circle class="o" cx="375.5" cy="186.0" r="1.5"/><circle class="o" cx="407.2" cy="159.4" r="1.5"/><circle class="o" cx="436.5" cy="90.5" r="1.5"/><circle class="o" cx="344.6" cy="206.5" r="1.5"/><circle class="o" cx="397.5" cy="144.8" r="1.5"/><circle class="o" cx="440.0" cy="98.6" r="1.5"/><circle class="o" cx="426.7" cy="129.4" r="1.5"/><circle class="o" cx="444.8" cy="97.2" r="1.5"/><circle class="o" cx="378.8" cy="184.1" r="1.5"/><circle class="o" cx="421.8" cy="134.4" r="1.5"/><circle class="o" cx="385.2" cy="195.9" r="1.5"/><circle class="o" cx="355.8" cy="200.0" r="1.5"/><circle class="o" cx="441.5" cy="121.2" r="1.5"/><circle class="o" cx="384.0" cy="181.5" r="1.5"/><circle class="o" cx="435.5" cy="112.3" r="1.5"/><circle class="o" cx="439.8" cy="94.6" r="1.5"/><circle class="o" cx="443.8" cy="100.7" r="1.5"/><circle class="o" cx="382.9" cy="187.1" r="1.5"/><circle class="o" cx="443.3" cy="101.5" r="1.5"/><circle class="o" cx="377.1" cy="177.5" r="1.5"/><circle class="o" cx="427.6" cy="123.4" r="1.5"/><circle class="o" cx="344.3" cy="209.4" r="1.5"/><circle class="o" cx="441.4" cy="101.3" r="1.5"/><circle class="o" cx="352.8" cy="206.0" r="1.5"/><circle class="o" cx="433.8" cy="106.0" r="1.5"/><circle class="o" cx="423.9" cy="129.0" r="1.5"/><circle class="o" cx="352.7" cy="197.0" r="1.5"/><circle class="o" cx="418.2" cy="151.4" r="1.5"/><circle class="o" cx="432.4" cy="103.3" r="1.5"/><circle class="o" cx="443.9" cy="103.3" r="1.5"/><circle class="o" cx="463.4" cy="79.0" r="1.5"/><circle class="o" cx="376.6" cy="188.3" r="1.5"/><circle class="o" cx="399.5" cy="172.6" r="1.5"/><circle class="o" cx="392.4" cy="173.3" r="1.5"/><circle class="o" cx="427.4" cy="132.5" r="1.5"/><circle class="o" cx="370.1" cy="180.5" r="1.5"/><circle class="o" cx="415.4" cy="149.4" r="1.5"/><circle class="o" cx="376.4" cy="180.8" r="1.5"/><circle class="o" cx="372.5" cy="195.5" r="1.5"/><circle class="o" cx="437.9" cy="98.0" r="1.5"/><circle class="o" cx="414.1" cy="160.2" r="1.5"/><circle class="o" cx="440.6" cy="116.2" r="1.5"/><circle class="o" cx="427.4" cy="141.7" r="1.5"/><circle class="o" cx="448.8" cy="121.8" r="1.5"/><circle class="o" cx="405.6" cy="143.6" r="1.5"/><circle class="o" cx="345.0" cy="208.1" r="1.5"/><circle class="o" cx="465.4" cy="76.0" r="1.5"/><circle class="o" cx="375.3" cy="180.7" r="1.5"/><circle class="o" cx="445.7" cy="123.2" r="1.5"/><circle class="o" cx="371.3" cy="185.1" r="1.5"/><circle class="o" cx="409.7" cy="149.2" r="1.5"/><circle class="o" cx="382.7" cy="194.9" r="1.5"/><circle class="o" cx="426.8" cy="118.8" r="1.5"/><circle class="o" cx="355.1" cy="211.9" r="1.5"/><circle class="o" cx="354.1" cy="203.7" r="1.5"/><circle class="o" cx="403.8" cy="148.5" r="1.5"/><circle class="o" cx="448.6" cy="113.8" r="1.5"/><circle class="o" cx="404.4" cy="144.7" r="1.5"/><circle class="o" cx="360.5" cy="208.0" r="1.5"/><circle class="o" cx="464.7" cy="81.8" r="1.5"/><circle class="o" cx="358.8" cy="208.8" r="1.5"/><circle class="o" cx="385.4" cy="181.5" r="1.5"/><circle class="o" cx="416.2" cy="150.4" r="1.5"/><circle class="o" cx="380.3" cy="176.9" r="1.5"/><circle class="o" cx="431.6" cy="118.1" r="1.5"/><circle class="o" cx="398.8" cy="156.9" r="1.5"/><circle class="o" cx="442.5" cy="122.8" r="1.5"/><circle class="o" cx="355.6" cy="199.8" r="1.5"/><circle class="o" cx="445.6" cy="109.5" r="1.5"/><circle class="o" cx="454.6" cy="100.6" r="1.5"/><circle class="o" cx="378.4" cy="190.3" r="1.5"/><circle class="o" cx="376.3" cy="177.3" r="1.5"/><circle class="o" cx="452.3" cy="91.5" r="1.5"/><circle class="o" cx="398.1" cy="142.1" r="1.5"/><circle class="o" cx="396.2" cy="178.8" r="1.5"/><circle class="o" cx="418.3" cy="136.3" r="1.5"/><circle class="o" cx="414.2" cy="155.3" r="1.5"/><circle class="o" cx="444.5" cy="112.8" r="1.5"/><circle class="o" cx="428.2" cy="115.4" r="1.5"/><circle class="o" cx="432.3" cy="131.5" r="1.5"/><circle class="o" cx="400.1" cy="162.4" r="1.5"/><circle class="o" cx="410.0" cy="136.9" r="1.5"/><circle class="o" cx="449.3" cy="125.4" r="1.5"/><circle class="o" cx="450.6" cy="84.2" r="1.5"/><circle class="o" cx="421.5" cy="117.7" r="1.5"/><circle class="o" cx="419.1" cy="126.5" r="1.5"/><circle class="o" cx="384.5" cy="174.1" r="1.5"/><circle class="o" cx="406.1" cy="149.7" r="1.5"/><circle class="o" cx="370.9" cy="195.8" r="1.5"/><circle class="o" cx="406.7" cy="161.2" r="1.5"/><circle class="o" cx="352.3" cy="194.8" r="1.5"/><circle class="o" cx="378.8" cy="189.1" r="1.5"/><circle class="o" cx="382.3" cy="186.5" r="1.5"/><circle class="o" cx="405.3" cy="170.4" r="1.5"/><circle class="o" cx="429.6" cy="139.4" r="1.5"/><circle class="o" cx="357.7" cy="198.9" r="1.5"/><circle class="o" cx="424.9" cy="113.4" r="1.5"/><circle class="o" cx="440.3" cy="105.4" r="1.5"/><circle class="o" cx="367.0" cy="194.2" r="1.5"/><circle class="o" cx="363.4" cy="212.5" r="1.5"/><circle class="o" cx="358.2" cy="200.8" r="1.5"/><circle class="o" cx="423.9" cy="108.6" r="1.5"/><circle class="o" cx="396.0" cy="161.9" r="1.5"/><circle class="o" cx="349.1" cy="202.2" r="1.5"/><circle class="o" cx="360.3" cy="204.6" r="1.5"/><circle class="o" cx="392.0" cy="174.8" r="1.5"/><circle class="o" cx="351.2" cy="202.0" r="1.5"/><circle class="o" cx="442.3" cy="88.4" r="1.5"/><circle class="o" cx="370.6" cy="193.9" r="1.5"/><circle class="o" cx="444.3" cy="114.5" r="1.5"/><circle class="o" cx="348.6" cy="202.0" r="1.5"/><circle class="o" cx="388.9" cy="175.7" r="1.5"/><circle class="o" cx="457.6" cy="79.1" r="1.5"/><circle class="o" cx="365.1" cy="197.5" r="1.5"/><circle class="o" cx="348.8" cy="204.8" r="1.5"/><circle class="o" cx="447.3" cy="85.1" r="1.5"/><circle class="o" cx="442.7" cy="125.0" r="1.5"/><circle class="o" cx="408.0" cy="161.6" r="1.5"/><circle class="o" cx="361.6" cy="201.2" r="1.5"/><circle class="o" cx="383.3" cy="184.9" r="1.5"/><circle class="o" cx="401.8" cy="162.3" r="1.5"/><circle class="o" cx="461.3" cy="99.2" r="1.5"/><circle class="o" cx="373.2" cy="187.5" r="1.5"/><circle class="o" cx="427.2" cy="109.6" r="1.5"/><circle class="o" cx="432.5" cy="125.9" r="1.5"/><circle class="o" cx="451.0" cy="86.7" r="1.5"/><circle class="o" cx="428.7" cy="135.7" r="1.5"/><circle class="o" cx="393.4" cy="160.4" r="1.5"/><circle class="o" cx="401.5" cy="172.9" r="1.5"/><circle class="o" cx="405.5" cy="135.0" r="1.5"/><circle class="o" cx="418.8" cy="135.0" r="1.5"/><circle class="o" cx="412.2" cy="141.6" r="1.5"/><circle class="o" cx="358.4" cy="207.2" r="1.5"/><circle class="o" cx="440.0" cy="123.7" r="1.5"/><circle class="o" cx="392.1" cy="165.5" r="1.5"/><circle class="o" cx="423.0" cy="142.5" r="1.5"/><circle class="o" cx="385.5" cy="181.3" r="1.5"/><circle class="o" cx="402.1" cy="168.6" r="1.5"/><circle class="o" cx="465.0" cy="107.1" r="1.5"/><circle class="o" cx="345.2" cy="210.7" r="1.5"/><circle class="o" cx="424.7" cy="126.9" r="1.5"/><circle class="o" cx="369.9" cy="190.7" r="1.5"/><circle class="o" cx="460.4" cy="82.5" r="1.5"/><circle class="o" cx="445.4" cy="122.7" r="1.5"/><circle class="o" cx="446.7" cy="104.4" r="1.5"/><circle class="o" cx="447.3" cy="95.0" r="1.5"/><circle class="o" cx="389.6" cy="171.5" r="1.5"/><circle class="o" cx="409.1" cy="150.1" r="1.5"/><circle class="o" cx="456.8" cy="104.8" r="1.5"/><circle class="o" cx="405.0" cy="158.3" r="1.5"/><circle class="o" cx="458.8" cy="121.8" r="1.5"/><circle class="o" cx="444.6" cy="108.2" r="1.5"/><circle class="o" cx="407.0" cy="145.4" r="1.5"/><circle class="o" cx="411.6" cy="136.5" r="1.5"/><circle class="o" cx="410.8" cy="152.6" r="1.5"/><circle class="o" cx="380.2" cy="168.7" r="1.5"/><circle class="o" cx="390.3" cy="168.4" r="1.5"/><circle class="o" cx="399.8" cy="153.4" r="1.5"/><circle class="o" cx="412.3" cy="141.1" r="1.5"/><circle class="o" cx="451.6" cy="72.7" r="1.5"/><circle class="o" cx="406.6" cy="157.5" r="1.5"/><circle class="o" cx="415.3" cy="130.4" r="1.5"/><circle class="o" cx="432.5" cy="127.6" r="1.5"/><circle class="o" cx="443.0" cy="129.4" r="1.5"/><circle class="o" cx="462.4" cy="92.5" r="1.5"/><circle class="o" cx="436.1" cy="133.9" r="1.5"/><circle class="o" cx="420.0" cy="149.4" r="1.5"/><circle class="o" cx="433.6" cy="127.8" r="1.5"/><circle class="o" cx="361.1" cy="201.4" r="1.5"/><circle class="o" cx="436.2" cy="136.9" r="1.5"/><circle class="o" cx="373.9" cy="178.7" r="1.5"/><circle class="o" cx="452.1" cy="94.2" r="1.5"/><circle class="o" cx="451.2" cy="85.4" r="1.5"/><circle class="o" cx="423.4" cy="139.0" r="1.5"/><circle class="o" cx="458.6" cy="105.6" r="1.5"/><circle class="o" cx="351.0" cy="202.2" r="1.5"/><circle class="o" cx="354.6" cy="204.5" r="1.5"/><circle class="o" cx="407.9" cy="148.3" r="1.5"/><circle class="o" cx="371.2" cy="197.1" r="1.5"/><circle class="o" cx="346.6" cy="200.9" r="1.5"/><circle class="o" cx="461.0" cy="79.4" r="1.5"/><circle class="o" cx="398.7" cy="146.9" r="1.5"/><circle class="o" cx="447.6" cy="103.1" r="1.5"/><circle class="o" cx="382.3" cy="166.2" r="1.5"/><circle class="o" cx="423.9" cy="122.4" r="1.5"/><circle class="o" cx="353.7" cy="191.5" r="1.5"/><circle class="o" cx="422.4" cy="123.0" r="1.5"/><circle class="o" cx="432.4" cy="130.8" r="1.5"/><circle class="o" cx="422.2" cy="123.3" r="1.5"/><circle class="o" cx="406.2" cy="156.6" r="1.5"/><circle class="o" cx="436.1" cy="116.2" r="1.5"/><circle class="o" cx="374.7" cy="182.2" r="1.5"/><circle class="o" cx="428.8" cy="103.6" r="1.5"/><circle class="o" cx="382.5" cy="183.3" r="1.5"/><circle class="o" cx="353.1" cy="207.4" r="1.5"/><circle class="o" cx="393.3" cy="157.7" r="1.5"/><circle class="o" cx="437.7" cy="95.0" r="1.5"/><circle class="o" cx="366.9" cy="185.8" r="1.5"/><circle class="o" cx="440.2" cy="101.5" r="1.5"/><circle class="o" cx="391.3" cy="188.8" r="1.5"/><circle class="o" cx="407.5" cy="129.2" r="1.5"/><circle class="o" cx="353.7" cy="198.4" r="1.5"/><circle class="o" cx="367.2" cy="197.6" r="1.5"/><circle class="o" cx="427.8" cy="118.1" r="1.5"/><circle class="o" cx="455.9" cy="81.4" r="1.5"/><circle class="o" cx="380.0" cy="191.9" r="1.5"/><circle class="o" cx="430.4" cy="116.5" r="1.5"/><circle class="o" cx="452.1" cy="105.2" r="1.5"/><circle class="o" cx="448.3" cy="100.9" r="1.5"/><circle class="o" cx="460.1" cy="120.2" r="1.5"/><circle class="o" cx="359.2" cy="207.2" r="1.5"/><circle class="o" cx="428.1" cy="118.8" r="1.5"/><circle class="o" cx="383.1" cy="195.4" r="1.5"/><circle class="o" cx="349.8" cy="206.8" r="1.5"/><circle class="o" cx="408.3" cy="151.4" r="1.5"/><circle class="o" cx="460.7" cy="117.3" r="1.5"/><circle class="o" cx="389.7" cy="173.2" r="1.5"/><circle class="o" cx="379.3" cy="180.4" r="1.5"/><circle class="o" cx="464.4" cy="98.4" r="1.5"/><circle class="o" cx="428.4" cy="104.6" r="1.5"/><circle class="o" cx="365.8" cy="184.1" r="1.5"/><circle class="o" cx="346.3" cy="206.7" r="1.5"/><circle class="o" cx="355.5" cy="204.1" r="1.5"/><circle class="o" cx="355.6" cy="202.8" r="1.5"/><circle class="o" cx="452.8" cy="117.3" r="1.5"/><circle class="o" cx="432.0" cy="105.2" r="1.5"/><circle class="o" cx="369.0" cy="191.9" r="1.5"/><circle class="o" cx="400.5" cy="146.8" r="1.5"/><circle class="o" cx="402.4" cy="164.3" r="1.5"/><circle class="o" cx="450.3" cy="104.3" r="1.5"/><circle class="o" cx="462.5" cy="116.9" r="1.5"/><circle class="o" cx="344.3" cy="211.4" r="1.5"/><circle class="o" cx="347.3" cy="205.6" r="1.5"/><circle class="o" cx="421.7" cy="147.8" r="1.5"/><circle class="o" cx="351.6" cy="201.5" r="1.5"/><circle class="o" cx="398.2" cy="163.8" r="1.5"/><circle class="o" cx="424.5" cy="135.0" r="1.5"/><circle class="o" cx="410.3" cy="129.7" r="1.5"/><circle class="o" cx="369.6" cy="191.3" r="1.5"/><circle class="o" cx="382.5" cy="183.6" r="1.5"/><circle class="o" cx="413.1" cy="126.7" r="1.5"/><circle class="o" cx="365.2" cy="206.6" r="1.5"/><circle class="o" cx="457.6" cy="79.5" r="1.5"/><circle class="o" cx="378.3" cy="177.7" r="1.5"/><circle class="o" cx="448.1" cy="94.1" r="1.5"/><circle class="o" cx="370.9" cy="178.0" r="1.5"/><circle class="o" cx="408.3" cy="158.6" r="1.5"/><circle class="o" cx="409.2" cy="168.0" r="1.5"/><circle class="o" cx="423.0" cy="169.1" r="1.5"/><circle class="o" cx="417.3" cy="162.2" r="1.5"/><circle class="o" cx="412.7" cy="163.4" r="1.5"/><circle class="o" cx="423.0" cy="159.4" r="1.5"/><circle class="o" cx="414.0" cy="158.0" r="1.5"/><circle class="o" cx="419.0" cy="165.0" r="1.5"/><circle cx="396.0" cy="182.0" r="1.7"/><circle cx="398.5" cy="181.0" r="1.7"/><circle cx="400.0" cy="179.5" r="1.7"/><circle cx="401.5" cy="178.0" r="1.7"/><circle cx="403.0" cy="176.0" r="1.7"/><circle cx="405.0" cy="175.0" r="1.7"/><circle cx="399.0" cy="183.5" r="1.7"/><circle cx="402.0" cy="181.5" r="1.7"/><circle cx="406.5" cy="173.0" r="1.7"/><circle cx="395.0" cy="176.0" r="1.7"/><circle cx="417.0" cy="117.8" r="1.7"/><circle cx="355.3" cy="208.6" r="1.7"/><circle cx="353.3" cy="204.0" r="1.7"/><circle cx="364.2" cy="192.8" r="1.7"/><circle cx="375.0" cy="182.2" r="1.7"/><circle cx="358.2" cy="198.8" r="1.7"/><circle cx="357.4" cy="193.7" r="1.7"/><circle cx="397.1" cy="181.9" r="1.7"/><circle cx="354.9" cy="208.6" r="1.7"/><circle cx="395.6" cy="159.4" r="1.7"/><circle cx="374.9" cy="196.8" r="1.7"/><circle cx="346.6" cy="205.2" r="1.7"/><circle cx="401.9" cy="159.6" r="1.7"/><circle cx="378.8" cy="177.8" r="1.7"/><circle cx="329.2" cy="205.8" r="1.7"/><circle cx="370.2" cy="189.6" r="1.7"/><circle cx="376.0" cy="197.4" r="1.7"/><circle cx="365.2" cy="204.2" r="1.7"/><circle cx="360.9" cy="185.5" r="1.7"/><circle cx="335.2" cy="204.8" r="1.7"/><circle cx="374.2" cy="186.5" r="1.7"/><circle cx="404.3" cy="140.3" r="1.7"/><circle cx="383.5" cy="170.3" r="1.7"/><circle cx="354.1" cy="200.3" r="1.7"/><circle cx="341.6" cy="206.3" r="1.7"/><circle cx="361.0" cy="206.7" r="1.7"/><circle cx="354.7" cy="190.2" r="1.7"/><circle cx="341.4" cy="213.1" r="1.7"/><circle cx="365.0" cy="193.2" r="1.7"/><circle cx="359.3" cy="203.5" r="1.7"/><circle cx="378.1" cy="180.1" r="1.7"/><circle cx="359.3" cy="185.8" r="1.7"/><circle cx="393.3" cy="183.5" r="1.7"/><circle cx="339.2" cy="205.7" r="1.7"/><path d="M425.5,122.9l2,2l-2,2l-2,-2z"/><path d="M478.7,71.8l2,2l-2,2l-2,-2z"/><path d="M435.9,125.8l2,2l-2,2l-2,-2z"/><path d="M443.8,112.0l2,2l-2,2l-2,-2z"/><path d="M432.5,119.4l2,2l-2,2l-2,-2z"/><path d="M438.6,107.0l2,2l-2,2l-2,-2z"/><path d="M483.9,76.9l2,2l-2,2l-2,-2z"/><path d="M494.7,86.6l2,2l-2,2l-2,-2z"/><path d="M423.2,127.0l2,2l-2,2l-2,-2z"/><path d="M476.6,81.5l2,2l-2,2l-2,-2z"/><path d="M493.0,96.6l2,2l-2,2l-2,-2z"/><path d="M447.6,101.9l2,2l-2,2l-2,-2z"/><path d="M455.7,91.2l2,2l-2,2l-2,-2z"/><path d="M478.8,78.0l2,2l-2,2l-2,-2z"/><path d="M462.1,104.2l2,2l-2,2l-2,-2z"/><path d="M449.4,93.2l2,2l-2,2l-2,-2z"/><path d="M486.5,72.9l2,2l-2,2l-2,-2z"/><path d="M451.8,109.3l2,2l-2,2l-2,-2z"/><path d="M475.0,94.6l2,2l-2,2l-2,-2z"/><path d="M488.6,92.8l2,2l-2,2l-2,-2z"/><path d="M428.0,111.0l2,2l-2,2l-2,-2z"/><path d="M479.9,84.9l2,2l-2,2l-2,-2z"/><path d="M415.9,129.2l2,2l-2,2l-2,-2z"/><path d="M449.9,103.2l2,2l-2,2l-2,-2z"/><path d="M461.4,72.6l2,2l-2,2l-2,-2z"/><path d="M482.5,77.1l2,2l-2,2l-2,-2z"/><path d="M427.8,133.3l2,2l-2,2l-2,-2z"/><path d="M494.3,78.6l2,2l-2,2l-2,-2z"/><path d="M489.4,88.2l2,2l-2,2l-2,-2z"/><path d="M422.1,131.7l2,2l-2,2l-2,-2z"/><path d="M450.4,95.0l2,2l-2,2l-2,-2z"/><path d="M441.0,106.4l2,2l-2,2l-2,-2z"/><path d="M493.4,73.1l2,2l-2,2l-2,-2z"/><path d="M477.8,93.5l2,2l-2,2l-2,-2z"/><path d="M413.8,137.8l2,2l-2,2l-2,-2z"/><path d="M488.1,60.5l2,2l-2,2l-2,-2z"/><path d="M432.2,106.2l2,2l-2,2l-2,-2z"/><path d="M443.1,123.2l2,2l-2,2l-2,-2z"/><path d="M404.4,163.1l2,2l-2,2l-2,-2z"/><path d="M446.8,110.2l2,2l-2,2l-2,-2z"/><path d="M487.5,69.4l2,2l-2,2l-2,-2z"/><path d="M442.1,111.6l2,2l-2,2l-2,-2z"/><path d="M402.7,164.4l2,2l-2,2l-2,-2z"/><path d="M481.0,81.0l2,2l-2,2l-2,-2z"/><path d="M442.8,113.2l2,2l-2,2l-2,-2z"/><path d="M408.3,157.8l2,2l-2,2l-2,-2z"/><path d="M465.8,99.2l2,2l-2,2l-2,-2z"/><path d="M415.6,140.9l2,2l-2,2l-2,-2z"/><path d="M456.8,98.8l2,2l-2,2l-2,-2z"/><path d="M437.7,95.6l2,2l-2,2l-2,-2z"/><path d="M421.4,125.4l2,2l-2,2l-2,-2z"/><path d="M439.2,118.0l2,2l-2,2l-2,-2z"/><path d="M426.1,142.3l2,2l-2,2l-2,-2z"/><path d="M442.8,107.0l2,2l-2,2l-2,-2z"/><path d="M454.3,107.7l2,2l-2,2l-2,-2z"/><path d="M446.2,101.9l2,2l-2,2l-2,-2z"/><path d="M404.5,140.0l2,2l-2,2l-2,-2z"/><path d="M452.8,101.3l2,2l-2,2l-2,-2z"/><path d="M491.7,82.1l2,2l-2,2l-2,-2z"/><path d="M482.0,70.0l2,2l-2,2l-2,-2z"/><path d="M438.1,99.6l2,2l-2,2l-2,-2z"/><path d="M473.5,83.5l2,2l-2,2l-2,-2z"/><path d="M414.2,132.2l2,2l-2,2l-2,-2z"/><path d="M467.1,92.4l2,2l-2,2l-2,-2z"/><path d="M414.9,122.1l2,2l-2,2l-2,-2z"/><path d="M406.5,156.9l2,2l-2,2l-2,-2z"/><path d="M462.2,83.2l2,2l-2,2l-2,-2z"/><path d="M431.6,121.0l2,2l-2,2l-2,-2z"/><path d="M447.4,83.1l2,2l-2,2l-2,-2z"/><path d="M404.0,161.7l2,2l-2,2l-2,-2z"/><path d="M419.4,133.4l2,2l-2,2l-2,-2z"/><path d="M489.9,59.7l2,2l-2,2l-2,-2z"/><path d="M409.5,124.1l2,2l-2,2l-2,-2z"/><path d="M489.1,85.5l2,2l-2,2l-2,-2z"/><path d="M405.6,159.1l2,2l-2,2l-2,-2z"/><path d="M417.2,114.5l2,2l-2,2l-2,-2z"/><path d="M467.1,92.7l2,2l-2,2l-2,-2z"/><path d="M459.1,102.7l2,2l-2,2l-2,-2z"/><path d="M404.1,166.9l2,2l-2,2l-2,-2z"/><path d="M429.4,121.0l2,2l-2,2l-2,-2z"/><path d="M410.6,125.7l2,2l-2,2l-2,-2z"/><path d="M429.8,96.8l2,2l-2,2l-2,-2z"/><path d="M449.6,103.7l2,2l-2,2l-2,-2z"/><path d="M471.2,94.9l2,2l-2,2l-2,-2z"/><path d="M402.6,149.6l2,2l-2,2l-2,-2z"/><path d="M463.6,86.6l2,2l-2,2l-2,-2z"/><path d="M490.1,75.3l2,2l-2,2l-2,-2z"/><path d="M429.6,108.6l2,2l-2,2l-2,-2z"/><path d="M462.1,86.9l2,2l-2,2l-2,-2z"/><path d="M440.5,94.3l2,2l-2,2l-2,-2z"/><path d="M425.8,118.9l2,2l-2,2l-2,-2z"/><path d="M449.0,112.2l2,2l-2,2l-2,-2z"/><path d="M404.7,150.7l2,2l-2,2l-2,-2z"/><path d="M463.9,81.5l2,2l-2,2l-2,-2z"/><path d="M449.6,118.6l2,2l-2,2l-2,-2z"/><path d="M423.0,141.4l2,2l-2,2l-2,-2z"/><path d="M402.6,153.7l2,2l-2,2l-2,-2z"/><path d="M461.4,105.3l2,2l-2,2l-2,-2z"/><path d="M403.6,166.4l2,2l-2,2l-2,-2z"/><path d="M475.3,75.9l2,2l-2,2l-2,-2z"/><path d="M408.9,160.3l2,2l-2,2l-2,-2z"/><path d="M441.5,96.7l2,2l-2,2l-2,-2z"/><path d="M409.9,140.6l2,2l-2,2l-2,-2z"/><path d="M489.0,72.9l2,2l-2,2l-2,-2z"/><path d="M460.0,93.7l2,2l-2,2l-2,-2z"/><path d="M464.6,87.1l2,2l-2,2l-2,-2z"/><path d="M430.6,134.7l2,2l-2,2l-2,-2z"/><path d="M428.8,116.3l2,2l-2,2l-2,-2z"/><path d="M405.1,154.9l2,2l-2,2l-2,-2z"/><path d="M484.9,79.4l2,2l-2,2l-2,-2z"/><path d="M410.9,144.9l2,2l-2,2l-2,-2z"/><path d="M456.8,84.4l2,2l-2,2l-2,-2z"/><path d="M417.7,133.1l2,2l-2,2l-2,-2z"/><path d="M407.6,161.7l2,2l-2,2l-2,-2z"/><path d="M403.8,160.9l2,2l-2,2l-2,-2z"/><path d="M428.8,106.8l2,2l-2,2l-2,-2z"/><path d="M409.5,139.5l2,2l-2,2l-2,-2z"/><path d="M480.7,69.3l2,2l-2,2l-2,-2z"/><path d="M456.9,85.5l2,2l-2,2l-2,-2z"/><path d="M415.4,129.3l2,2l-2,2l-2,-2z"/><path d="M402.2,140.1l2,2l-2,2l-2,-2z"/><path d="M442.7,110.4l2,2l-2,2l-2,-2z"/><path d="M481.0,89.9l2,2l-2,2l-2,-2z"/><path d="M421.4,130.6l2,2l-2,2l-2,-2z"/><path d="M453.7,90.5l2,2l-2,2l-2,-2z"/><path d="M420.9,131.2l2,2l-2,2l-2,-2z"/><path d="M494.3,68.5l2,2l-2,2l-2,-2z"/><path d="M421.4,140.4l2,2l-2,2l-2,-2z"/><path d="M425.1,128.8l2,2l-2,2l-2,-2z"/><path d="M483.0,80.0l2,2l-2,2l-2,-2z"/><path d="M472.7,85.6l2,2l-2,2l-2,-2z"/><path d="M465.3,85.1l2,2l-2,2l-2,-2z"/><path d="M492.7,60.9l2,2l-2,2l-2,-2z"/><path d="M438.8,108.0l2,2l-2,2l-2,-2z"/><path d="M403.3,147.8l2,2l-2,2l-2,-2z"/><path d="M427.7,119.8l2,2l-2,2l-2,-2z"/><path d="M421.7,128.0l2,2l-2,2l-2,-2z"/><path d="M414.9,131.5l2,2l-2,2l-2,-2z"/><path d="M404.9,136.4l2,2l-2,2l-2,-2z"/><path d="M400.5,151.5l2,2l-2,2l-2,-2z"/><path d="M448.3,85.5l2,2l-2,2l-2,-2z"/><path d="M412.4,138.4l2,2l-2,2l-2,-2z"/><path d="M479.0,97.5l2,2l-2,2l-2,-2z"/><path d="M409.1,144.0l2,2l-2,2l-2,-2z"/><path d="M407.7,137.3l2,2l-2,2l-2,-2z"/><path d="M454.4,80.3l2,2l-2,2l-2,-2z"/><path d="M476.9,87.4l2,2l-2,2l-2,-2z"/><path d="M474.5,74.9l2,2l-2,2l-2,-2z"/><path d="M482.9,86.2l2,2l-2,2l-2,-2z"/><path d="M442.0,97.6l2,2l-2,2l-2,-2z"/><path d="M421.4,122.8l2,2l-2,2l-2,-2z"/><path d="M402.1,153.2l2,2l-2,2l-2,-2z"/><path d="M491.5,59.6l2,2l-2,2l-2,-2z"/><path d="M454.7,108.7l2,2l-2,2l-2,-2z"/><path d="M491.4,64.9l2,2l-2,2l-2,-2z"/><path d="M480.5,81.8l2,2l-2,2l-2,-2z"/><path d="M462.1,95.2l2,2l-2,2l-2,-2z"/><path d="M472.8,108.8l2,2l-2,2l-2,-2z"/><path d="M414.3,142.8l2,2l-2,2l-2,-2z"/><path d="M487.1,87.3l2,2l-2,2l-2,-2z"/><path d="M482.0,74.2l2,2l-2,2l-2,-2z"/><path d="M443.4,102.7l2,2l-2,2l-2,-2z"/><path d="M439.6,107.9l2,2l-2,2l-2,-2z"/><path d="M445.1,114.9l2,2l-2,2l-2,-2z"/><path d="M452.7,85.3l2,2l-2,2l-2,-2z"/><path d="M413.9,142.6l2,2l-2,2l-2,-2z"/><path d="M492.2,107.7l2,2l-2,2l-2,-2z"/><path d="M431.2,106.3l2,2l-2,2l-2,-2z"/><path d="M403.0,132.2l2,2l-2,2l-2,-2z"/><path d="M455.7,88.6l2,2l-2,2l-2,-2z"/><path d="M411.9,139.4l2,2l-2,2l-2,-2z"/><path d="M497.5,93.8l2,2l-2,2l-2,-2z"/><path d="M490.0,82.8l2,2l-2,2l-2,-2z"/><path d="M471.7,96.4l2,2l-2,2l-2,-2z"/><path d="M405.4,141.7l2,2l-2,2l-2,-2z"/><path d="M481.0,79.7l2,2l-2,2l-2,-2z"/><path d="M415.4,139.5l2,2l-2,2l-2,-2z"/><path d="M459.1,82.7l2,2l-2,2l-2,-2z"/><path d="M414.4,140.7l2,2l-2,2l-2,-2z"/><path d="M467.8,83.4l2,2l-2,2l-2,-2z"/><path d="M466.7,89.7l2,2l-2,2l-2,-2z"/><path d="M430.8,101.9l2,2l-2,2l-2,-2z"/><path d="M480.9,95.0l2,2l-2,2l-2,-2z"/><path d="M491.5,77.8l2,2l-2,2l-2,-2z"/><path d="M414.2,137.0l2,2l-2,2l-2,-2z"/><path d="M497.1,103.8l2,2l-2,2l-2,-2z"/><path d="M452.6,108.3l2,2l-2,2l-2,-2z"/><path d="M428.6,125.7l2,2l-2,2l-2,-2z"/><path d="M444.4,96.2l2,2l-2,2l-2,-2z"/><path d="M405.2,154.1l2,2l-2,2l-2,-2z"/><path d="M446.8,104.3l2,2l-2,2l-2,-2z"/><path d="M455.9,91.8l2,2l-2,2l-2,-2z"/><path d="M447.4,117.4l2,2l-2,2l-2,-2z"/><path d="M402.6,161.9l2,2l-2,2l-2,-2z"/><path d="M470.2,91.4l2,2l-2,2l-2,-2z"/><path d="M444.9,94.2l2,2l-2,2l-2,-2z"/><path d="M414.2,130.8l2,2l-2,2l-2,-2z"/><path d="M480.0,92.9l2,2l-2,2l-2,-2z"/><path d="M457.9,96.1l2,2l-2,2l-2,-2z"/><path d="M401.8,148.6l2,2l-2,2l-2,-2z"/><path d="M439.2,112.7l2,2l-2,2l-2,-2z"/><path d="M472.6,84.3l2,2l-2,2l-2,-2z"/><path d="M460.8,86.8l2,2l-2,2l-2,-2z"/><path d="M434.1,112.7l2,2l-2,2l-2,-2z"/><path d="M476.2,90.6l2,2l-2,2l-2,-2z"/><path d="M442.9,109.3l2,2l-2,2l-2,-2z"/><path d="M413.4,130.2l2,2l-2,2l-2,-2z"/><path d="M411.4,134.1l2,2l-2,2l-2,-2z"/><path d="M486.6,82.2l2,2l-2,2l-2,-2z"/><path d="M422.6,116.4l2,2l-2,2l-2,-2z"/><path d="M454.7,97.2l2,2l-2,2l-2,-2z"/><path d="M421.3,128.1l2,2l-2,2l-2,-2z"/><path d="M428.2,106.7l2,2l-2,2l-2,-2z"/><path d="M401.3,146.0l2,2l-2,2l-2,-2z"/><path d="M401.0,155.5l2,2l-2,2l-2,-2z"/><path d="M407.2,147.5l2,2l-2,2l-2,-2z"/><path d="M468.7,99.9l2,2l-2,2l-2,-2z"/><path d="M424.1,126.0l2,2l-2,2l-2,-2z"/><path d="M440.0,107.2l2,2l-2,2l-2,-2z"/><path d="M457.8,97.6l2,2l-2,2l-2,-2z"/><path d="M446.8,96.7l2,2l-2,2l-2,-2z"/><path d="M486.3,97.3l2,2l-2,2l-2,-2z"/><path d="M474.4,76.7l2,2l-2,2l-2,-2z"/><path d="M484.9,69.9l2,2l-2,2l-2,-2z"/><path d="M426.7,117.2l2,2l-2,2l-2,-2z"/><path d="M496.1,89.4l2,2l-2,2l-2,-2z"/><path d="M492.4,71.2l2,2l-2,2l-2,-2z"/><path d="M461.9,82.1l2,2l-2,2l-2,-2z"/><path d="M476.7,88.2l2,2l-2,2l-2,-2z"/><path d="M415.3,149.4l2,2l-2,2l-2,-2z"/><path d="M494.7,72.3l2,2l-2,2l-2,-2z"/><path d="M416.3,142.9l2,2l-2,2l-2,-2z"/><path d="M475.9,75.1l2,2l-2,2l-2,-2z"/><path d="M402.8,168.6l2,2l-2,2l-2,-2z"/><path d="M473.2,71.7l2,2l-2,2l-2,-2z"/><path d="M453.0,93.4l2,2l-2,2l-2,-2z"/><path d="M436.2,106.8l2,2l-2,2l-2,-2z"/><path d="M423.4,116.2l2,2l-2,2l-2,-2z"/><path d="M443.1,103.8l2,2l-2,2l-2,-2z"/><path d="M425.4,131.6l2,2l-2,2l-2,-2z"/><path d="M432.2,106.8l2,2l-2,2l-2,-2z"/><path d="M496.7,96.5l2,2l-2,2l-2,-2z"/><path d="M432.8,118.4l2,2l-2,2l-2,-2z"/><path d="M483.9,82.8l2,2l-2,2l-2,-2z"/><path d="M440.6,98.2l2,2l-2,2l-2,-2z"/><path d="M483.3,78.6l2,2l-2,2l-2,-2z"/><path d="M467.0,96.7l2,2l-2,2l-2,-2z"/><path d="M482.7,68.6l2,2l-2,2l-2,-2z"/><path d="M468.5,78.3l2,2l-2,2l-2,-2z"/><path d="M457.8,83.6l2,2l-2,2l-2,-2z"/><path d="M485.7,64.5l2,2l-2,2l-2,-2z"/><path d="M462.6,96.8l2,2l-2,2l-2,-2z"/><path d="M479.8,71.7l2,2l-2,2l-2,-2z"/><path d="M463.4,107.6l2,2l-2,2l-2,-2z"/><path d="M441.8,91.5l2,2l-2,2l-2,-2z"/><path d="M424.9,120.7l2,2l-2,2l-2,-2z"/><path d="M428.5,120.9l2,2l-2,2l-2,-2z"/><path d="M480.1,69.5l2,2l-2,2l-2,-2z"/><path d="M425.3,116.7l2,2l-2,2l-2,-2z"/><path d="M495.1,76.1l2,2l-2,2l-2,-2z"/><path d="M463.5,78.5l2,2l-2,2l-2,-2z"/><path d="M429.7,122.0l2,2l-2,2l-2,-2z"/><path d="M440.2,110.7l2,2l-2,2l-2,-2z"/><path d="M487.5,88.4l2,2l-2,2l-2,-2z"/><path d="M404.2,161.9l2,2l-2,2l-2,-2z"/><path d="M491.6,73.2l2,2l-2,2l-2,-2z"/><path d="M437.3,105.4l2,2l-2,2l-2,-2z"/><path d="M450.2,111.1l2,2l-2,2l-2,-2z"/><path d="M444.5,99.5l2,2l-2,2l-2,-2z"/><path d="M441.9,113.0l2,2l-2,2l-2,-2z"/><path d="M481.0,69.3l2,2l-2,2l-2,-2z"/><path d="M429.6,123.5l2,2l-2,2l-2,-2z"/><path d="M496.3,78.0l2,2l-2,2l-2,-2z"/><path d="M479.6,79.1l2,2l-2,2l-2,-2z"/><path d="M414.1,144.0l2,2l-2,2l-2,-2z"/><path d="M415.9,141.4l2,2l-2,2l-2,-2z"/><path d="M427.3,125.8l2,2l-2,2l-2,-2z"/><path d="M484.0,92.8l2,2l-2,2l-2,-2z"/><path d="M436.6,110.3l2,2l-2,2l-2,-2z"/><path d="M476.4,73.4l2,2l-2,2l-2,-2z"/><path d="M464.0,98.9l2,2l-2,2l-2,-2z"/><path d="M445.4,98.5l2,2l-2,2l-2,-2z"/><path d="M410.6,158.8l2,2l-2,2l-2,-2z"/><path d="M446.3,99.6l2,2l-2,2l-2,-2z"/><path d="M413.9,121.9l2,2l-2,2l-2,-2z"/><path d="M462.9,79.5l2,2l-2,2l-2,-2z"/><path d="M441.5,96.1l2,2l-2,2l-2,-2z"/><path d="M455.0,107.8l2,2l-2,2l-2,-2z"/><path d="M440.6,108.1l2,2l-2,2l-2,-2z"/><path d="M452.8,90.1l2,2l-2,2l-2,-2z"/><path d="M437.8,111.2l2,2l-2,2l-2,-2z"/><path d="M426.2,138.7l2,2l-2,2l-2,-2z"/><path d="M492.6,76.0l2,2l-2,2l-2,-2z"/><path d="M448.6,91.5l2,2l-2,2l-2,-2z"/><path d="M412.4,143.9l2,2l-2,2l-2,-2z"/><path d="M431.2,107.7l2,2l-2,2l-2,-2z"/><path d="M473.8,88.2l2,2l-2,2l-2,-2z"/><path d="M450.3,109.4l2,2l-2,2l-2,-2z"/><path d="M443.8,106.0l2,2l-2,2l-2,-2z"/><path d="M453.1,91.2l2,2l-2,2l-2,-2z"/><path d="M468.4,87.1l2,2l-2,2l-2,-2z"/><path d="M495.3,61.2l2,2l-2,2l-2,-2z"/><path d="M411.7,157.9l2,2l-2,2l-2,-2z"/><path d="M490.8,102.6l2,2l-2,2l-2,-2z"/><path d="M442.0,105.7l2,2l-2,2l-2,-2z"/><path d="M438.3,101.4l2,2l-2,2l-2,-2z"/><path d="M441.7,89.2l2,2l-2,2l-2,-2z"/><path d="M435.4,90.7l2,2l-2,2l-2,-2z"/><path d="M472.8,81.7l2,2l-2,2l-2,-2z"/><path d="M444.2,101.6l2,2l-2,2l-2,-2z"/><path d="M473.4,76.1l2,2l-2,2l-2,-2z"/><path d="M408.4,157.2l2,2l-2,2l-2,-2z"/><path d="M402.2,153.9l2,2l-2,2l-2,-2z"/><path d="M420.7,118.7l2,2l-2,2l-2,-2z"/><path d="M420.0,134.9l2,2l-2,2l-2,-2z"/><path d="M422.0,113.8l2,2l-2,2l-2,-2z"/><path d="M440.1,103.3l2,2l-2,2l-2,-2z"/><path d="M462.6,80.3l2,2l-2,2l-2,-2z"/><path d="M487.3,81.2l2,2l-2,2l-2,-2z"/><path d="M496.6,73.2l2,2l-2,2l-2,-2z"/><path d="M460.4,84.6l2,2l-2,2l-2,-2z"/><path d="M486.8,81.0l2,2l-2,2l-2,-2z"/><path d="M447.4,105.9l2,2l-2,2l-2,-2z"/><path d="M470.8,86.9l2,2l-2,2l-2,-2z"/><path d="M485.7,90.5l2,2l-2,2l-2,-2z"/><path d="M465.2,76.3l2,2l-2,2l-2,-2z"/><path d="M436.5,115.7l2,2l-2,2l-2,-2z"/><path d="M478.1,99.0l2,2l-2,2l-2,-2z"/><path d="M473.5,83.0l2,2l-2,2l-2,-2z"/><path d="M478.3,91.3l2,2l-2,2l-2,-2z"/><path d="M454.1,93.0l2,2l-2,2l-2,-2z"/><path d="M419.7,137.8l2,2l-2,2l-2,-2z"/><path d="M401.0,158.1l2,2l-2,2l-2,-2z"/><path d="M419.9,137.3l2,2l-2,2l-2,-2z"/><path d="M466.7,100.4l2,2l-2,2l-2,-2z"/><path d="M412.4,141.3l2,2l-2,2l-2,-2z"/><path d="M466.6,95.7l2,2l-2,2l-2,-2z"/><path d="M422.8,112.5l2,2l-2,2l-2,-2z"/><path d="M413.9,128.4l2,2l-2,2l-2,-2z"/><path d="M483.0,77.9l2,2l-2,2l-2,-2z"/><path d="M410.4,159.7l2,2l-2,2l-2,-2z"/><path d="M481.9,70.6l2,2l-2,2l-2,-2z"/><path d="M456.4,89.8l2,2l-2,2l-2,-2z"/><path d="M423.2,133.8l2,2l-2,2l-2,-2z"/><path d="M420.3,124.1l2,2l-2,2l-2,-2z"/><path d="M454.6,80.3l2,2l-2,2l-2,-2z"/><path d="M455.9,103.0l2,2l-2,2l-2,-2z"/><path d="M457.4,80.3l2,2l-2,2l-2,-2z"/><path d="M402.2,157.4l2,2l-2,2l-2,-2z"/><path d="M422.8,132.6l2,2l-2,2l-2,-2z"/><path d="M469.4,74.2l2,2l-2,2l-2,-2z"/><path d="M411.4,146.1l2,2l-2,2l-2,-2z"/><path d="M474.1,81.3l2,2l-2,2l-2,-2z"/><path d="M478.5,69.5l2,2l-2,2l-2,-2z"/><path d="M485.3,81.0l2,2l-2,2l-2,-2z"/><path d="M432.3,118.2l2,2l-2,2l-2,-2z"/><path d="M491.9,78.8l2,2l-2,2l-2,-2z"/><path d="M403.6,158.5l2,2l-2,2l-2,-2z"/><path d="M404.7,143.0l2,2l-2,2l-2,-2z"/><path d="M455.0,78.4l2,2l-2,2l-2,-2z"/><path d="M405.1,136.0l2,2l-2,2l-2,-2z"/><path d="M447.9,111.5l2,2l-2,2l-2,-2z"/><path d="M427.2,109.9l2,2l-2,2l-2,-2z"/><path d="M464.5,84.4l2,2l-2,2l-2,-2z"/><path d="M439.0,112.5l2,2l-2,2l-2,-2z"/><path d="M429.0,117.8l2,2l-2,2l-2,-2z"/><path d="M461.8,79.0l2,2l-2,2l-2,-2z"/><path d="M420.1,140.4l2,2l-2,2l-2,-2z"/><path d="M405.5,142.7l2,2l-2,2l-2,-2z"/><path d="M413.3,121.0l2,2l-2,2l-2,-2z"/><path d="M488.4,70.7l2,2l-2,2l-2,-2z"/><path d="M469.3,85.7l2,2l-2,2l-2,-2z"/><path d="M418.0,134.2l2,2l-2,2l-2,-2z"/><path d="M473.2,83.0l2,2l-2,2l-2,-2z"/><path d="M411.9,145.5l2,2l-2,2l-2,-2z"/><path d="M444.5,103.2l2,2l-2,2l-2,-2z"/><path d="M416.0,124.4l2,2l-2,2l-2,-2z"/><path d="M424.7,106.3l2,2l-2,2l-2,-2z"/><path d="M440.5,104.5l2,2l-2,2l-2,-2z"/><path d="M443.9,97.6l2,2l-2,2l-2,-2z"/><path d="M483.0,95.6l2,2l-2,2l-2,-2z"/><path d="M444.0,100.2l2,2l-2,2l-2,-2z"/><path d="M492.4,81.1l2,2l-2,2l-2,-2z"/><path d="M447.6,101.0l2,2l-2,2l-2,-2z"/><path d="M442.2,85.0l2,2l-2,2l-2,-2z"/><path d="M425.3,132.2l2,2l-2,2l-2,-2z"/><path d="M434.7,107.7l2,2l-2,2l-2,-2z"/><path d="M494.7,60.7l2,2l-2,2l-2,-2z"/><path d="M449.7,103.2l2,2l-2,2l-2,-2z"/><path d="M415.5,149.2l2,2l-2,2l-2,-2z"/><path d="M410.8,140.5l2,2l-2,2l-2,-2z"/><path d="M459.7,88.2l2,2l-2,2l-2,-2z"/><path d="M450.4,90.7l2,2l-2,2l-2,-2z"/><path d="M446.3,96.5l2,2l-2,2l-2,-2z"/><path d="M457.4,105.4l2,2l-2,2l-2,-2z"/><path d="M406.0,149.1l2,2l-2,2l-2,-2z"/><path d="M405.1,154.1l2,2l-2,2l-2,-2z"/><path d="M424.4,131.1l2,2l-2,2l-2,-2z"/><path d="M467.5,87.9l2,2l-2,2l-2,-2z"/><path d="M483.8,84.9l2,2l-2,2l-2,-2z"/><path d="M453.0,98.4l2,2l-2,2l-2,-2z"/><path d="M475.3,65.8l2,2l-2,2l-2,-2z"/><path d="M475.9,73.1l2,2l-2,2l-2,-2z"/><path d="M435.7,119.5l2,2l-2,2l-2,-2z"/><path d="M452.6,100.9l2,2l-2,2l-2,-2z"/><path d="M476.8,85.9l2,2l-2,2l-2,-2z"/><path d="M492.3,64.4l2,2l-2,2l-2,-2z"/><path d="M477.2,83.9l2,2l-2,2l-2,-2z"/><path d="M437.4,126.5l2,2l-2,2l-2,-2z"/><path d="M407.7,146.4l2,2l-2,2l-2,-2z"/><path d="M421.3,143.2l2,2l-2,2l-2,-2z"/><path d="M448.7,109.0l2,2l-2,2l-2,-2z"/><path d="M417.8,141.8l2,2l-2,2l-2,-2z"/><path d="M469.9,77.2l2,2l-2,2l-2,-2z"/><path d="M423.0,119.2l2,2l-2,2l-2,-2z"/><path d="M439.3,100.1l2,2l-2,2l-2,-2z"/><path d="M435.9,124.7l2,2l-2,2l-2,-2z"/><path d="M495.8,89.2l2,2l-2,2l-2,-2z"/><path d="M437.6,97.7l2,2l-2,2l-2,-2z"/><path d="M463.4,74.5l2,2l-2,2l-2,-2z"/><path d="M492.9,77.8l2,2l-2,2l-2,-2z"/><path d="M470.5,98.3l2,2l-2,2l-2,-2z"/><path d="M467.8,88.8l2,2l-2,2l-2,-2z"/><path d="M479.6,86.9l2,2l-2,2l-2,-2z"/><path d="M436.2,116.7l2,2l-2,2l-2,-2z"/><path d="M420.4,135.8l2,2l-2,2l-2,-2z"/><path d="M419.5,129.2l2,2l-2,2l-2,-2z"/><path d="M408.3,150.3l2,2l-2,2l-2,-2z"/><path d="M406.1,155.5l2,2l-2,2l-2,-2z"/><path d="M483.2,77.7l2,2l-2,2l-2,-2z"/><path d="M489.3,95.2l2,2l-2,2l-2,-2z"/><path d="M479.0,68.9l2,2l-2,2l-2,-2z"/><path d="M419.1,126.9l2,2l-2,2l-2,-2z"/><path d="M403.2,142.6l2,2l-2,2l-2,-2z"/><path d="M469.9,96.1l2,2l-2,2l-2,-2z"/><path d="M450.6,109.9l2,2l-2,2l-2,-2z"/><path d="M454.2,86.6l2,2l-2,2l-2,-2z"/><path d="M435.9,112.3l2,2l-2,2l-2,-2z"/><path d="M455.5,89.0l2,2l-2,2l-2,-2z"/><path d="M470.4,69.4l2,2l-2,2l-2,-2z"/><path d="M444.2,94.0l2,2l-2,2l-2,-2z"/><path d="M439.1,111.8l2,2l-2,2l-2,-2z"/><path d="M439.7,113.9l2,2l-2,2l-2,-2z"/><path d="M403.1,143.9l2,2l-2,2l-2,-2z"/><path d="M433.0,114.8l2,2l-2,2l-2,-2z"/><path d="M434.5,122.4l2,2l-2,2l-2,-2z"/><path d="M421.8,142.9l2,2l-2,2l-2,-2z"/><path d="M465.5,91.3l2,2l-2,2l-2,-2z"/><path d="M476.7,72.5l2,2l-2,2l-2,-2z"/><path d="M435.4,94.0l2,2l-2,2l-2,-2z"/><path d="M469.6,85.4l2,2l-2,2l-2,-2z"/><path d="M447.0,97.2l2,2l-2,2l-2,-2z"/><path d="M426.9,115.3l2,2l-2,2l-2,-2z"/><path d="M402.5,145.3l2,2l-2,2l-2,-2z"/><path d="M427.2,115.2l2,2l-2,2l-2,-2z"/><path d="M485.2,79.9l2,2l-2,2l-2,-2z"/><path d="M480.2,87.1l2,2l-2,2l-2,-2z"/><path d="M491.6,68.1l2,2l-2,2l-2,-2z"/><path d="M475.2,101.7l2,2l-2,2l-2,-2z"/><path d="M459.8,107.1l2,2l-2,2l-2,-2z"/><path d="M404.5,147.6l2,2l-2,2l-2,-2z"/><path d="M405.9,151.7l2,2l-2,2l-2,-2z"/><path d="M480.5,96.0l2,2l-2,2l-2,-2z"/><path d="M411.3,131.3l2,2l-2,2l-2,-2z"/><path d="M410.4,135.8l2,2l-2,2l-2,-2z"/><path d="M488.4,71.0l2,2l-2,2l-2,-2z"/><path d="M437.3,98.5l2,2l-2,2l-2,-2z"/><path d="M407.2,154.3l2,2l-2,2l-2,-2z"/><path d="M419.4,128.5l2,2l-2,2l-2,-2z"/><path d="M420.5,130.6l2,2l-2,2l-2,-2z"/><path d="M445.0,103.5l2,2l-2,2l-2,-2z"/><path d="M406.3,145.7l2,2l-2,2l-2,-2z"/><path d="M447.0,117.8l2,2l-2,2l-2,-2z"/><path d="M428.1,118.7l2,2l-2,2l-2,-2z"/><path d="M406.7,138.1l2,2l-2,2l-2,-2z"/><path d="M439.8,91.8l2,2l-2,2l-2,-2z"/><path d="M454.7,87.2l2,2l-2,2l-2,-2z"/><path d="M426.9,124.0l2,2l-2,2l-2,-2z"/><path d="M429.2,121.3l2,2l-2,2l-2,-2z"/><path d="M429.6,122.1l2,2l-2,2l-2,-2z"/><path d="M492.8,72.2l2,2l-2,2l-2,-2z"/><path d="M483.4,83.6l2,2l-2,2l-2,-2z"/><path d="M428.6,125.1l2,2l-2,2l-2,-2z"/><path d="M470.0,71.6l2,2l-2,2l-2,-2z"/><path d="M481.4,83.9l2,2l-2,2l-2,-2z"/><path d="M463.4,93.6l2,2l-2,2l-2,-2z"/><path d="M466.0,84.3l2,2l-2,2l-2,-2z"/><path d="M406.5,159.5l2,2l-2,2l-2,-2z"/><path d="M477.2,81.8l2,2l-2,2l-2,-2z"/><path d="M404.6,142.1l2,2l-2,2l-2,-2z"/><path d="M496.1,86.0l2,2l-2,2l-2,-2z"/><path d="M417.4,152.6l2,2l-2,2l-2,-2z"/><path d="M419.1,118.9l2,2l-2,2l-2,-2z"/><path d="M442.3,104.3l2,2l-2,2l-2,-2z"/><path d="M434.4,123.4l2,2l-2,2l-2,-2z"/><path d="M410.0,149.6l2,2l-2,2l-2,-2z"/><path d="M413.8,149.0l2,2l-2,2l-2,-2z"/><path d="M494.1,90.3l2,2l-2,2l-2,-2z"/><path d="M417.4,114.1l2,2l-2,2l-2,-2z"/><path d="M402.7,160.3l2,2l-2,2l-2,-2z"/><path d="M428.0,102.6l2,2l-2,2l-2,-2z"/><path d="M443.2,93.6l2,2l-2,2l-2,-2z"/><path d="M405.6,137.1l2,2l-2,2l-2,-2z"/><path d="M464.2,93.8l2,2l-2,2l-2,-2z"/><path d="M443.0,85.7l2,2l-2,2l-2,-2z"/><path d="M479.5,81.4l2,2l-2,2l-2,-2z"/><path d="M421.0,112.5l2,2l-2,2l-2,-2z"/><path d="M403.8,173.1l2,2l-2,2l-2,-2z"/><path d="M451.0,91.7l2,2l-2,2l-2,-2z"/><path d="M497.3,75.7l2,2l-2,2l-2,-2z"/><path d="M403.0,139.4l2,2l-2,2l-2,-2z"/><path d="M470.6,78.0l2,2l-2,2l-2,-2z"/><path d="M439.9,122.4l2,2l-2,2l-2,-2z"/><path d="M466.9,89.4l2,2l-2,2l-2,-2z"/><path d="M431.6,103.5l2,2l-2,2l-2,-2z"/><path d="M479.9,74.7l2,2l-2,2l-2,-2z"/><path d="M451.6,95.3l2,2l-2,2l-2,-2z"/><path d="M428.3,140.1l2,2l-2,2l-2,-2z"/><path d="M429.4,117.8l2,2l-2,2l-2,-2z"/><path d="M461.1,95.4l2,2l-2,2l-2,-2z"/><path d="M424.7,136.2l2,2l-2,2l-2,-2z"/><path d="M491.0,83.9l2,2l-2,2l-2,-2z"/><path d="M419.0,119.8l2,2l-2,2l-2,-2z"/><path d="M464.9,77.1l2,2l-2,2l-2,-2z"/><path d="M413.3,157.1l2,2l-2,2l-2,-2z"/><path d="M416.7,138.7l2,2l-2,2l-2,-2z"/><path d="M433.9,108.1l2,2l-2,2l-2,-2z"/><path d="M441.1,101.0l2,2l-2,2l-2,-2z"/><path d="M419.8,126.7l2,2l-2,2l-2,-2z"/><path d="M488.6,84.5l2,2l-2,2l-2,-2z"/><path d="M467.9,93.4l2,2l-2,2l-2,-2z"/><path d="M421.4,143.2l2,2l-2,2l-2,-2z"/><path d="M431.9,94.7l2,2l-2,2l-2,-2z"/><path d="M423.2,129.5l2,2l-2,2l-2,-2z"/><path d="M475.4,79.7l2,2l-2,2l-2,-2z"/><path d="M457.8,80.8l2,2l-2,2l-2,-2z"/><path d="M428.4,129.8l2,2l-2,2l-2,-2z"/><path d="M449.6,83.8l2,2l-2,2l-2,-2z"/><path d="M473.7,67.8l2,2l-2,2l-2,-2z"/><path d="M421.1,146.6l2,2l-2,2l-2,-2z"/><path d="M435.2,117.1l2,2l-2,2l-2,-2z"/><path d="M436.5,120.5l2,2l-2,2l-2,-2z"/><path d="M451.4,112.0l2,2l-2,2l-2,-2z"/><path d="M403.6,137.5l2,2l-2,2l-2,-2z"/><path d="M429.2,135.0l2,2l-2,2l-2,-2z"/><path d="M417.7,134.3l2,2l-2,2l-2,-2z"/><path d="M411.3,147.1l2,2l-2,2l-2,-2z"/><path d="M430.6,127.1l2,2l-2,2l-2,-2z"/><path d="M419.8,137.4l2,2l-2,2l-2,-2z"/><path d="M461.9,85.8l2,2l-2,2l-2,-2z"/><path d="M408.4,145.0l2,2l-2,2l-2,-2z"/><path d="M479.5,82.1l2,2l-2,2l-2,-2z"/><path d="M483.6,90.4l2,2l-2,2l-2,-2z"/><path d="M409.1,159.6l2,2l-2,2l-2,-2z"/><path d="M405.6,138.8l2,2l-2,2l-2,-2z"/><path d="M492.8,100.0l2,2l-2,2l-2,-2z"/><path d="M407.5,151.6l2,2l-2,2l-2,-2z"/><path d="M410.3,161.7l2,2l-2,2l-2,-2z"/><path d="M416.9,131.7l2,2l-2,2l-2,-2z"/><path d="M456.8,113.0l2,2l-2,2l-2,-2z"/><path d="M475.9,86.4l2,2l-2,2l-2,-2z"/><path d="M405.4,154.0l2,2l-2,2l-2,-2z"/><path d="M431.6,122.0l2,2l-2,2l-2,-2z"/><path d="M491.7,61.2l2,2l-2,2l-2,-2z"/><path d="M457.4,74.9l2,2l-2,2l-2,-2z"/><path d="M441.8,106.7l2,2l-2,2l-2,-2z"/><path d="M433.7,111.8l2,2l-2,2l-2,-2z"/><path d="M431.6,126.3l2,2l-2,2l-2,-2z"/><path d="M422.0,131.8l2,2l-2,2l-2,-2z"/><path d="M466.8,100.6l2,2l-2,2l-2,-2z"/><path d="M413.3,131.2l2,2l-2,2l-2,-2z"/><path d="M450.4,102.1l2,2l-2,2l-2,-2z"/><path d="M474.0,77.3l2,2l-2,2l-2,-2z"/><path d="M446.6,88.1l2,2l-2,2l-2,-2z"/><path d="M439.8,87.3l2,2l-2,2l-2,-2z"/><path d="M459.2,90.8l2,2l-2,2l-2,-2z"/><path d="M405.2,139.3l2,2l-2,2l-2,-2z"/><path d="M406.7,141.6l2,2l-2,2l-2,-2z"/><path d="M407.7,135.6l2,2l-2,2l-2,-2z"/><path d="M425.4,111.5l2,2l-2,2l-2,-2z"/><path d="M427.6,121.7l2,2l-2,2l-2,-2z"/><path d="M430.6,102.8l2,2l-2,2l-2,-2z"/><path d="M465.3,85.6l2,2l-2,2l-2,-2z"/><path d="M476.2,81.7l2,2l-2,2l-2,-2z"/><path d="M469.0,69.1l2,2l-2,2l-2,-2z"/><path d="M466.5,98.6l2,2l-2,2l-2,-2z"/><path d="M403.7,141.1l2,2l-2,2l-2,-2z"/><path d="M429.5,124.9l2,2l-2,2l-2,-2z"/><path d="M436.0,106.1l2,2l-2,2l-2,-2z"/><path d="M458.1,83.2l2,2l-2,2l-2,-2z"/><path d="M455.1,87.3l2,2l-2,2l-2,-2z"/><path d="M475.2,65.2l2,2l-2,2l-2,-2z"/><path d="M453.2,89.7l2,2l-2,2l-2,-2z"/><path d="M420.0,118.8l2,2l-2,2l-2,-2z"/><path d="M487.8,89.2l2,2l-2,2l-2,-2z"/><path d="M481.9,83.8l2,2l-2,2l-2,-2z"/><path d="M443.5,90.0l2,2l-2,2l-2,-2z"/><path d="M470.7,103.1l2,2l-2,2l-2,-2z"/><path d="M405.5,146.1l2,2l-2,2l-2,-2z"/><path d="M455.9,78.7l2,2l-2,2l-2,-2z"/><path d="M455.3,106.4l2,2l-2,2l-2,-2z"/><path d="M490.7,83.8l2,2l-2,2l-2,-2z"/><path d="M468.1,74.2l2,2l-2,2l-2,-2z"/><path d="M401.6,141.1l2,2l-2,2l-2,-2z"/><path d="M445.0,100.3l2,2l-2,2l-2,-2z"/><path d="M492.4,69.0l2,2l-2,2l-2,-2z"/><path d="M411.2,147.1l2,2l-2,2l-2,-2z"/><path d="M461.9,92.8l2,2l-2,2l-2,-2z"/><path d="M432.0,101.9l2,2l-2,2l-2,-2z"/><path d="M437.1,97.3l2,2l-2,2l-2,-2z"/><path d="M488.3,74.5l2,2l-2,2l-2,-2z"/><path d="M479.6,93.9l2,2l-2,2l-2,-2z"/><path d="M431.2,109.2l2,2l-2,2l-2,-2z"/><path d="M463.2,95.5l2,2l-2,2l-2,-2z"/><path d="M423.7,118.1l2,2l-2,2l-2,-2z"/><path d="M451.0,102.0l2,2l-2,2l-2,-2z"/><path d="M415.5,129.1l2,2l-2,2l-2,-2z"/><path d="M474.6,86.3l2,2l-2,2l-2,-2z"/><path d="M411.4,130.8l2,2l-2,2l-2,-2z"/><path d="M405.6,140.1l2,2l-2,2l-2,-2z"/><path d="M401.6,175.2l2,2l-2,2l-2,-2z"/><path d="M479.2,89.9l2,2l-2,2l-2,-2z"/><path d="M464.8,73.5l2,2l-2,2l-2,-2z"/><path d="M462.1,102.6l2,2l-2,2l-2,-2z"/><path d="M488.3,75.3l2,2l-2,2l-2,-2z"/><path d="M466.4,101.6l2,2l-2,2l-2,-2z"/><path d="M403.3,136.4l2,2l-2,2l-2,-2z"/><path d="M405.7,147.1l2,2l-2,2l-2,-2z"/><path d="M404.2,145.3l2,2l-2,2l-2,-2z"/><path d="M408.7,136.4l2,2l-2,2l-2,-2z"/><path d="M409.0,131.0l2,2l-2,2l-2,-2z"/><path d="M422.2,148.6l2,2l-2,2l-2,-2z"/><path d="M428.0,120.1l2,2l-2,2l-2,-2z"/><path d="M451.3,93.1l2,2l-2,2l-2,-2z"/><path d="M442.2,85.4l2,2l-2,2l-2,-2z"/><path d="M469.8,96.5l2,2l-2,2l-2,-2z"/><path d="M437.2,122.8l2,2l-2,2l-2,-2z"/><path d="M496.7,73.6l2,2l-2,2l-2,-2z"/><path d="M468.1,70.1l2,2l-2,2l-2,-2z"/><path d="M400.5,161.4l2,2l-2,2l-2,-2z"/><path d="M437.6,109.3l2,2l-2,2l-2,-2z"/><path d="M426.1,105.9l2,2l-2,2l-2,-2z"/><path d="M474.0,104.8l2,2l-2,2l-2,-2z"/><path d="M404.8,157.7l2,2l-2,2l-2,-2z"/><path d="M484.1,67.5l2,2l-2,2l-2,-2z"/><path d="M457.6,83.1l2,2l-2,2l-2,-2z"/><path d="M484.3,86.9l2,2l-2,2l-2,-2z"/><path d="M429.2,132.7l2,2l-2,2l-2,-2z"/><path d="M489.1,83.6l2,2l-2,2l-2,-2z"/><path d="M405.0,155.3l2,2l-2,2l-2,-2z"/><path d="M468.0,81.5l2,2l-2,2l-2,-2z"/><path d="M487.4,74.7l2,2l-2,2l-2,-2z"/><path d="M427.1,124.3l2,2l-2,2l-2,-2z"/><path d="M457.3,97.4l2,2l-2,2l-2,-2z"/><path d="M426.6,119.1l2,2l-2,2l-2,-2z"/><path d="M460.2,100.0l2,2l-2,2l-2,-2z"/><path d="M441.4,124.0l2,2l-2,2l-2,-2z"/><path d="M405.9,146.2l2,2l-2,2l-2,-2z"/><path d="M488.8,91.3l2,2l-2,2l-2,-2z"/><path d="M442.8,121.1l2,2l-2,2l-2,-2z"/><path d="M431.4,111.6l2,2l-2,2l-2,-2z"/><path d="M473.1,90.4l2,2l-2,2l-2,-2z"/><path d="M466.5,89.2l2,2l-2,2l-2,-2z"/><path d="M478.8,82.3l2,2l-2,2l-2,-2z"/><path d="M472.6,76.4l2,2l-2,2l-2,-2z"/><path d="M485.3,89.6l2,2l-2,2l-2,-2z"/><path d="M475.1,95.3l2,2l-2,2l-2,-2z"/><path d="M459.7,109.9l2,2l-2,2l-2,-2z"/><path d="M474.2,85.5l2,2l-2,2l-2,-2z"/><path d="M488.1,79.4l2,2l-2,2l-2,-2z"/><path d="M414.4,149.9l2,2l-2,2l-2,-2z"/><path d="M442.4,102.7l2,2l-2,2l-2,-2z"/><path d="M464.3,87.8l2,2l-2,2l-2,-2z"/><path d="M418.8,151.6l2,2l-2,2l-2,-2z"/><path d="M451.4,84.7l2,2l-2,2l-2,-2z"/><path d="M413.7,149.4l2,2l-2,2l-2,-2z"/><path d="M418.9,147.4l2,2l-2,2l-2,-2z"/><path d="M493.0,91.4l2,2l-2,2l-2,-2z"/><path d="M419.3,142.7l2,2l-2,2l-2,-2z"/><path d="M418.8,144.3l2,2l-2,2l-2,-2z"/><path d="M432.7,107.8l2,2l-2,2l-2,-2z"/><path d="M406.8,159.3l2,2l-2,2l-2,-2z"/><path d="M426.0,112.2l2,2l-2,2l-2,-2z"/><path d="M487.5,61.3l2,2l-2,2l-2,-2z"/><path d="M435.1,110.5l2,2l-2,2l-2,-2z"/><path d="M451.5,82.9l2,2l-2,2l-2,-2z"/><path d="M446.6,89.0l2,2l-2,2l-2,-2z"/><path d="M480.0,73.4l2,2l-2,2l-2,-2z"/><path d="M467.4,82.1l2,2l-2,2l-2,-2z"/><path d="M464.1,90.6l2,2l-2,2l-2,-2z"/><path d="M431.4,105.3l2,2l-2,2l-2,-2z"/><path d="M446.0,95.2l2,2l-2,2l-2,-2z"/><path d="M403.8,149.9l2,2l-2,2l-2,-2z"/><path d="M410.9,143.9l2,2l-2,2l-2,-2z"/><path d="M449.1,104.8l2,2l-2,2l-2,-2z"/><path d="M479.0,89.2l2,2l-2,2l-2,-2z"/><path d="M436.0,114.6l2,2l-2,2l-2,-2z"/><path d="M405.7,154.1l2,2l-2,2l-2,-2z"/><path d="M468.5,93.4l2,2l-2,2l-2,-2z"/><path d="M430.8,117.7l2,2l-2,2l-2,-2z"/><path d="M429.6,121.4l2,2l-2,2l-2,-2z"/><path d="M487.7,68.2l2,2l-2,2l-2,-2z"/><path d="M448.5,102.6l2,2l-2,2l-2,-2z"/><path d="M491.7,87.8l2,2l-2,2l-2,-2z"/><path d="M496.6,69.2l2,2l-2,2l-2,-2z"/><path d="M402.4,168.2l2,2l-2,2l-2,-2z"/><path d="M470.4,79.0l2,2l-2,2l-2,-2z"/><path d="M449.0,111.8l2,2l-2,2l-2,-2z"/><path d="M403.8,170.4l2,2l-2,2l-2,-2z"/><path d="M463.7,91.8l2,2l-2,2l-2,-2z"/><path d="M435.9,107.5l2,2l-2,2l-2,-2z"/><path d="M459.1,97.2l2,2l-2,2l-2,-2z"/><path d="M409.0,140.2l2,2l-2,2l-2,-2z"/><path d="M410.8,132.4l2,2l-2,2l-2,-2z"/><path d="M464.7,100.2l2,2l-2,2l-2,-2z"/><path d="M411.7,151.0l2,2l-2,2l-2,-2z"/><path d="M457.7,84.2l2,2l-2,2l-2,-2z"/><path d="M462.6,100.4l2,2l-2,2l-2,-2z"/><path d="M450.0,92.8l2,2l-2,2l-2,-2z"/><path d="M466.0,108.0l2,2l-2,2l-2,-2z"/><path d="M410.0,137.8l2,2l-2,2l-2,-2z"/><path d="M406.9,147.8l2,2l-2,2l-2,-2z"/><path d="M453.7,94.4l2,2l-2,2l-2,-2z"/><path d="M478.8,80.7l2,2l-2,2l-2,-2z"/><path d="M481.3,76.4l2,2l-2,2l-2,-2z"/><path d="M439.9,111.1l2,2l-2,2l-2,-2z"/><path d="M469.9,112.2l2,2l-2,2l-2,-2z"/><path d="M475.4,109.3l2,2l-2,2l-2,-2z"/><path d="M431.8,139.6l2,2l-2,2l-2,-2z"/><path d="M469.7,114.7l2,2l-2,2l-2,-2z"/><path d="M413.2,167.3l2,2l-2,2l-2,-2z"/><path d="M428.3,140.5l2,2l-2,2l-2,-2z"/><path d="M450.7,121.4l2,2l-2,2l-2,-2z"/><path d="M419.6,153.6l2,2l-2,2l-2,-2z"/><path d="M449.6,127.2l2,2l-2,2l-2,-2z"/><path d="M444.5,129.6l2,2l-2,2l-2,-2z"/><path d="M473.9,115.3l2,2l-2,2l-2,-2z"/><path d="M461.8,116.3l2,2l-2,2l-2,-2z"/><path d="M423.4,146.5l2,2l-2,2l-2,-2z"/><path d="M442.5,128.1l2,2l-2,2l-2,-2z"/><path d="M435.1,136.6l2,2l-2,2l-2,-2z"/><path d="M437.6,136.5l2,2l-2,2l-2,-2z"/><path d="M439.6,133.3l2,2l-2,2l-2,-2z"/><path d="M433.1,136.2l2,2l-2,2l-2,-2z"/><path d="M398.9,184.3l2,2l-2,2l-2,-2z"/><path d="M407.9,165.9l2,2l-2,2l-2,-2z"/><path d="M415.7,157.5l2,2l-2,2l-2,-2z"/><path d="M472.7,112.1l2,2l-2,2l-2,-2z"/><path d="M470.6,119.2l2,2l-2,2l-2,-2z"/><path d="M449.8,124.0l2,2l-2,2l-2,-2z"/><path d="M468.7,113.5l2,2l-2,2l-2,-2z"/><path d="M459.1,119.8l2,2l-2,2l-2,-2z"/><path d="M446.1,125.1l2,2l-2,2l-2,-2z"/><path d="M417.7,157.9l2,2l-2,2l-2,-2z"/><path d="M411.2,165.1l2,2l-2,2l-2,-2z"/><path d="M398.6,180.6l2,2l-2,2l-2,-2z"/><path d="M471.3,110.5l2,2l-2,2l-2,-2z"/><path d="M422.3,147.9l2,2l-2,2l-2,-2z"/><path d="M474.9,112.2l2,2l-2,2l-2,-2z"/><path d="M398.5,178.9l2,2l-2,2l-2,-2z"/><path d="M438.4,130.5l2,2l-2,2l-2,-2z"/><path d="M472.3,110.2l2,2l-2,2l-2,-2z"/><path d="M400.2,175.7l2,2l-2,2l-2,-2z"/><path d="M476.4,113.6l2,2l-2,2l-2,-2z"/><path d="M457.3,122.6l2,2l-2,2l-2,-2z"/><path d="M419.0,157.0l2,2l-2,2l-2,-2z"/><path d="M474.5,114.9l2,2l-2,2l-2,-2z"/><path d="M460.4,117.5l2,2l-2,2l-2,-2z"/><path d="M418.5,151.2l2,2l-2,2l-2,-2z"/><path d="M470.2,112.7l2,2l-2,2l-2,-2z"/><path d="M415.6,155.6l2,2l-2,2l-2,-2z"/><path d="M465.6,113.9l2,2l-2,2l-2,-2z"/><path d="M463.8,121.3l2,2l-2,2l-2,-2z"/><path d="M449.9,124.3l2,2l-2,2l-2,-2z"/><path d="M438.4,131.9l2,2l-2,2l-2,-2z"/><path d="M421.1,152.7l2,2l-2,2l-2,-2z"/><path d="M409.4,164.6l2,2l-2,2l-2,-2z"/><path d="M430.4,139.8l2,2l-2,2l-2,-2z"/><path d="M407.7,166.4l2,2l-2,2l-2,-2z"/><path d="M438.9,133.5l2,2l-2,2l-2,-2z"/><path d="M443.7,132.5l2,2l-2,2l-2,-2z"/><path d="M455.4,120.2l2,2l-2,2l-2,-2z"/><path d="M426.9,142.9l2,2l-2,2l-2,-2z"/><path d="M431.0,140.3l2,2l-2,2l-2,-2z"/><path d="M455.2,121.2l2,2l-2,2l-2,-2z"/><path d="M425.8,143.8l2,2l-2,2l-2,-2z"/><path d="M404.0,172.3l2,2l-2,2l-2,-2z"/><path d="M467.2,114.6l2,2l-2,2l-2,-2z"/><path d="M408.5,171.2l2,2l-2,2l-2,-2z"/><path d="M400.7,184.0l2,2l-2,2l-2,-2z"/><path d="M415.4,156.8l2,2l-2,2l-2,-2z"/><path d="M464.1,117.6l2,2l-2,2l-2,-2z"/><path d="M456.8,118.0l2,2l-2,2l-2,-2z"/><path d="M405.3,174.3l2,2l-2,2l-2,-2z"/><path d="M447.9,123.5l2,2l-2,2l-2,-2z"/><path d="M466.0,116.5l2,2l-2,2l-2,-2z"/><path d="M471.3,112.2l2,2l-2,2l-2,-2z"/><path d="M439.4,134.5l2,2l-2,2l-2,-2z"/><path d="M465.8,118.3l2,2l-2,2l-2,-2z"/><path d="M424.9,149.8l2,2l-2,2l-2,-2z"/><path d="M398.4,181.2l2,2l-2,2l-2,-2z"/><path d="M408.6,170.6l2,2l-2,2l-2,-2z"/><path d="M417.6,152.3l2,2l-2,2l-2,-2z"/><path d="M399.4,183.8l2,2l-2,2l-2,-2z"/><path d="M473.7,115.4l2,2l-2,2l-2,-2z"/><path d="M476.4,112.0l2,2l-2,2l-2,-2z"/><path d="M467.8,118.5l2,2l-2,2l-2,-2z"/><path d="M438.6,131.0l2,2l-2,2l-2,-2z"/><path d="M430.9,142.6l2,2l-2,2l-2,-2z"/><path d="M422.4,150.5l2,2l-2,2l-2,-2z"/><path d="M441.7,133.0l2,2l-2,2l-2,-2z"/><path d="M406.5,169.3l2,2l-2,2l-2,-2z"/><path d="M458.1,119.9l2,2l-2,2l-2,-2z"/><path d="M423.6,147.6l2,2l-2,2l-2,-2z"/><path d="M460.5,118.0l2,2l-2,2l-2,-2z"/><path d="M404.2,173.7l2,2l-2,2l-2,-2z"/><path d="M418.3,151.6l2,2l-2,2l-2,-2z"/><path d="M462.6,119.0l2,2l-2,2l-2,-2z"/><path d="M459.4,120.5l2,2l-2,2l-2,-2z"/><path d="M448.9,127.1l2,2l-2,2l-2,-2z"/><path d="M442.2,128.9l2,2l-2,2l-2,-2z"/><path d="M475.2,115.5l2,2l-2,2l-2,-2z"/><path d="M449.3,122.6l2,2l-2,2l-2,-2z"/><path d="M421.5,148.1l2,2l-2,2l-2,-2z"/><path d="M411.9,160.3l2,2l-2,2l-2,-2z"/><path d="M430.7,139.3l2,2l-2,2l-2,-2z"/><path d="M470.8,112.1l2,2l-2,2l-2,-2z"/><path d="M409.8,166.1l2,2l-2,2l-2,-2z"/><path d="M466.0,116.1l2,2l-2,2l-2,-2z"/><path d="M456.9,124.2l2,2l-2,2l-2,-2z"/><path d="M409.7,162.5l2,2l-2,2l-2,-2z"/><path d="M397.2,178.6l2,2l-2,2l-2,-2z"/><path d="M401.4,175.8l2,2l-2,2l-2,-2z"/><path d="M437.9,132.8l2,2l-2,2l-2,-2z"/><path d="M416.3,155.6l2,2l-2,2l-2,-2z"/><path d="M453.7,120.1l2,2l-2,2l-2,-2z"/><path d="M430.5,140.2l2,2l-2,2l-2,-2z"/><path d="M461.2,116.2l2,2l-2,2l-2,-2z"/><path d="M456.1,120.2l2,2l-2,2l-2,-2z"/><path d="M432.3,136.6l2,2l-2,2l-2,-2z"/><path d="M444.6,132.9l2,2l-2,2l-2,-2z"/><path d="M454.2,123.6l2,2l-2,2l-2,-2z"/><path d="M432.3,142.0l2,2l-2,2l-2,-2z"/><path d="M433.1,136.1l2,2l-2,2l-2,-2z"/><path d="M432.3,142.1l2,2l-2,2l-2,-2z"/><path d="M427.0,145.7l2,2l-2,2l-2,-2z"/><path d="M467.9,118.0l2,2l-2,2l-2,-2z"/><path d="M434.1,141.5l2,2l-2,2l-2,-2z"/><path d="M449.2,127.2l2,2l-2,2l-2,-2z"/><path d="M432.2,140.3l2,2l-2,2l-2,-2z"/><path d="M436.5,132.5l2,2l-2,2l-2,-2z"/><path d="M464.9,117.8l2,2l-2,2l-2,-2z"/><path d="M432.7,136.5l2,2l-2,2l-2,-2z"/><path d="M427.3,150.9l2,2l-2,2l-2,-2z"/><path d="M462.6,123.1l2,2l-2,2l-2,-2z"/><path d="M447.4,123.7l2,2l-2,2l-2,-2z"/><path d="M444.5,128.0l2,2l-2,2l-2,-2z"/><path d="M467.1,114.2l2,2l-2,2l-2,-2z"/><path d="M440.6,130.3l2,2l-2,2l-2,-2z"/><path d="M459.8,121.2l2,2l-2,2l-2,-2z"/><path d="M442.5,131.0l2,2l-2,2l-2,-2z"/><path d="M443.8,132.0l2,2l-2,2l-2,-2z"/><path d="M457.8,123.0l2,2l-2,2l-2,-2z"/><path d="M442.3,129.3l2,2l-2,2l-2,-2z"/><path d="M425.2,144.9l2,2l-2,2l-2,-2z"/><path d="M436.1,135.1l2,2l-2,2l-2,-2z"/><path d="M463.9,120.7l2,2l-2,2l-2,-2z"/><path d="M438.9,130.9l2,2l-2,2l-2,-2z"/><path d="M451.9,127.8l2,2l-2,2l-2,-2z"/><path d="M451.9,121.6l2,2l-2,2l-2,-2z"/><path d="M460.7,117.8l2,2l-2,2l-2,-2z"/><path d="M441.4,130.6l2,2l-2,2l-2,-2z"/><path d="M454.8,123.9l2,2l-2,2l-2,-2z"/><path d="M440.9,132.2l2,2l-2,2l-2,-2z"/><path d="M435.9,134.1l2,2l-2,2l-2,-2z"/><path d="M427.4,144.1l2,2l-2,2l-2,-2z"/><path d="M461.5,118.3l2,2l-2,2l-2,-2z"/><path d="M427.6,144.7l2,2l-2,2l-2,-2z"/><path d="M441.5,136.4l2,2l-2,2l-2,-2z"/><path d="M453.5,119.9l2,2l-2,2l-2,-2z"/><path d="M436.5,135.8l2,2l-2,2l-2,-2z"/><path d="M447.0,130.2l2,2l-2,2l-2,-2z"/><path d="M462.2,117.3l2,2l-2,2l-2,-2z"/><path d="M458.2,118.2l2,2l-2,2l-2,-2z"/><path d="M439.9,130.0l2,2l-2,2l-2,-2z"/><path d="M465.6,117.0l2,2l-2,2l-2,-2z"/><path d="M463.7,118.9l2,2l-2,2l-2,-2z"/><path d="M461.5,118.6l2,2l-2,2l-2,-2z"/><path d="M434.1,137.9l2,2l-2,2l-2,-2z"/><path d="M442.4,129.0l2,2l-2,2l-2,-2z"/><path d="M469.9,122.6l2,2l-2,2l-2,-2z"/><path d="M451.2,130.2l2,2l-2,2l-2,-2z"/><path d="M435.3,133.6l2,2l-2,2l-2,-2z"/><path d="M444.5,126.9l2,2l-2,2l-2,-2z"/><path d="M440.9,134.6l2,2l-2,2l-2,-2z"/><path d="M450.1,123.7l2,2l-2,2l-2,-2z"/><path d="M438.5,132.9l2,2l-2,2l-2,-2z"/><path d="M467.6,113.5l2,2l-2,2l-2,-2z"/><path d="M446.9,125.3l2,2l-2,2l-2,-2z"/><path d="M446.6,124.8l2,2l-2,2l-2,-2z"/><path d="M425.5,153.8l2,2l-2,2l-2,-2z"/><path d="M434.7,134.6l2,2l-2,2l-2,-2z"/><path d="M433.4,139.3l2,2l-2,2l-2,-2z"/><path d="M443.3,131.2l2,2l-2,2l-2,-2z"/><path d="M427.1,141.6l2,2l-2,2l-2,-2z"/><path d="M438.0,140.7l2,2l-2,2l-2,-2z"/><path d="M462.6,120.6l2,2l-2,2l-2,-2z"/><path d="M447.0,125.1l2,2l-2,2l-2,-2z"/><path d="M465.4,120.4l2,2l-2,2l-2,-2z"/><path d="M442.7,134.2l2,2l-2,2l-2,-2z"/><path d="M450.8,122.7l2,2l-2,2l-2,-2z"/><path d="M463.7,118.8l2,2l-2,2l-2,-2z"/><path d="M440.9,129.7l2,2l-2,2l-2,-2z"/><path d="M445.5,126.1l2,2l-2,2l-2,-2z"/><path d="M443.1,132.2l2,2l-2,2l-2,-2z"/><path d="M448.3,125.0l2,2l-2,2l-2,-2z"/><path d="M436.7,134.7l2,2l-2,2l-2,-2z"/><path d="M457.2,122.0l2,2l-2,2l-2,-2z"/><path d="M434.0,135.9l2,2l-2,2l-2,-2z"/><path d="M427.1,143.0l2,2l-2,2l-2,-2z"/><path d="M429.8,140.0l2,2l-2,2l-2,-2z"/><path d="M466.7,132.6l2,2l-2,2l-2,-2z"/><path d="M472.1,121.1l2,2l-2,2l-2,-2z"/><path d="M478.5,121.6l2,2l-2,2l-2,-2z"/><path d="M482.6,121.6l2,2l-2,2l-2,-2z"/><path d="M466.7,116.6l2,2l-2,2l-2,-2z"/><path d="M484.8,116.6l2,2l-2,2l-2,-2z"/><path d="M478.0,116.5l2,2l-2,2l-2,-2z"/><path d="M480.0,115.5l2,2l-2,2l-2,-2z"/><path d="M483.5,111.9l2,2l-2,2l-2,-2z"/><path d="M476.9,47.7l2,2l-2,2l-2,-2z"/><path d="M457.5,72.5l2,2l-2,2l-2,-2z"/><path d="M478.8,56.1l2,2l-2,2l-2,-2z"/><path d="M463.4,64.6l2,2l-2,2l-2,-2z"/><path d="M451.8,57.3l2,2l-2,2l-2,-2z"/><path d="M494.0,59.3l2,2l-2,2l-2,-2z"/><path d="M473.0,65.0l2,2l-2,2l-2,-2z"/><path d="M475.2,57.5l2,2l-2,2l-2,-2z"/><path d="M455.6,66.9l2,2l-2,2l-2,-2z"/><path d="M482.5,56.9l2,2l-2,2l-2,-2z"/><path d="M452.1,66.1l2,2l-2,2l-2,-2z"/><path d="M455.6,70.7l2,2l-2,2l-2,-2z"/><path d="M486.2,51.0l2,2l-2,2l-2,-2z"/><path d="M482.9,56.2l2,2l-2,2l-2,-2z"/><path d="M467.6,50.1l2,2l-2,2l-2,-2z"/><path d="M455.4,74.4l2,2l-2,2l-2,-2z"/><path d="M469.4,56.4l2,2l-2,2l-2,-2z"/><path d="M460.0,69.6l2,2l-2,2l-2,-2z"/><path d="M464.3,59.2l2,2l-2,2l-2,-2z"/><path d="M456.1,65.2l2,2l-2,2l-2,-2z"/><path d="M490.2,57.7l2,2l-2,2l-2,-2z"/><path d="M485.8,56.4l2,2l-2,2l-2,-2z"/><path d="M493.9,53.8l2,2l-2,2l-2,-2z"/><path d="M463.3,59.7l2,2l-2,2l-2,-2z"/><path d="M467.1,52.1l2,2l-2,2l-2,-2z"/><path d="M478.9,54.3l2,2l-2,2l-2,-2z"/><path d="M490.5,48.7l2,2l-2,2l-2,-2z"/><path d="M454.2,65.3l2,2l-2,2l-2,-2z"/><path d="M454.6,65.5l2,2l-2,2l-2,-2z"/><path d="M452.0,75.5l2,2l-2,2l-2,-2z"/><path d="M451.4,64.7l2,2l-2,2l-2,-2z"/><path d="M457.8,54.5l2,2l-2,2l-2,-2z"/><path d="M461.2,68.7l2,2l-2,2l-2,-2z"/><path d="M467.7,53.7l2,2l-2,2l-2,-2z"/><path d="M479.0,53.7l2,2l-2,2l-2,-2z"/><path d="M482.1,61.6l2,2l-2,2l-2,-2z"/><path d="M489.5,58.0l2,2l-2,2l-2,-2z"/><path d="M484.4,55.1l2,2l-2,2l-2,-2z"/><path d="M461.6,70.1l2,2l-2,2l-2,-2z"/><path d="M494.1,59.1l2,2l-2,2l-2,-2z"/><path d="M463.1,64.7l2,2l-2,2l-2,-2z"/><path d="M454.6,56.6l2,2l-2,2l-2,-2z"/><path d="M489.2,57.8l2,2l-2,2l-2,-2z"/><path d="M490.3,47.3l2,2l-2,2l-2,-2z"/><path d="M466.9,66.2l2,2l-2,2l-2,-2z"/><path d="M456.6,67.8l2,2l-2,2l-2,-2z"/><path d="M461.9,55.2l2,2l-2,2l-2,-2z"/><path d="M491.6,55.6l2,2l-2,2l-2,-2z"/><path d="M453.1,59.5l2,2l-2,2l-2,-2z"/><path d="M480.7,54.2l2,2l-2,2l-2,-2z"/><path d="M451.0,67.1l2,2l-2,2l-2,-2z"/><path d="M477.1,49.9l2,2l-2,2l-2,-2z"/><path d="M485.1,50.4l2,2l-2,2l-2,-2z"/><path d="M474.9,63.2l2,2l-2,2l-2,-2z"/><path d="M450.2,68.4l2,2l-2,2l-2,-2z"/><path d="M452.1,58.5l2,2l-2,2l-2,-2z"/><path d="M469.7,62.7l2,2l-2,2l-2,-2z"/><path d="M482.7,60.4l2,2l-2,2l-2,-2z"/><path d="M454.2,57.8l2,2l-2,2l-2,-2z"/><path d="M464.9,58.3l2,2l-2,2l-2,-2z"/><path d="M492.5,50.2l2,2l-2,2l-2,-2z"/><path d="M450.2,66.4l2,2l-2,2l-2,-2z"/><path d="M493.5,58.9l2,2l-2,2l-2,-2z"/><path d="M456.6,57.0l2,2l-2,2l-2,-2z"/><path d="M456.6,71.2l2,2l-2,2l-2,-2z"/><path d="M487.3,49.3l2,2l-2,2l-2,-2z"/><path d="M493.2,54.2l2,2l-2,2l-2,-2z"/><path d="M481.6,57.4l2,2l-2,2l-2,-2z"/><path d="M450.2,75.1l2,2l-2,2l-2,-2z"/><path d="M455.8,57.4l2,2l-2,2l-2,-2z"/><path d="M493.0,49.4l2,2l-2,2l-2,-2z"/><path d="M472.8,63.8l2,2l-2,2l-2,-2z"/><path d="M484.4,47.0l2,2l-2,2l-2,-2z"/><path d="M485.2,59.3l2,2l-2,2l-2,-2z"/><path d="M473.5,47.5l2,2l-2,2l-2,-2z"/><path d="M458.4,62.3l2,2l-2,2l-2,-2z"/><path d="M461.7,62.8l2,2l-2,2l-2,-2z"/><path d="M487.7,51.0l2,2l-2,2l-2,-2z"/><path d="M493.0,49.4l2,2l-2,2l-2,-2z"/><path d="M457.3,67.2l2,2l-2,2l-2,-2z"/><path d="M478.8,49.0l2,2l-2,2l-2,-2z"/><path d="M483.4,48.6l2,2l-2,2l-2,-2z"/><path d="M456.3,67.5l2,2l-2,2l-2,-2z"/><path d="M473.7,52.2l2,2l-2,2l-2,-2z"/><path d="M478.2,53.4l2,2l-2,2l-2,-2z"/><path d="M465.1,59.7l2,2l-2,2l-2,-2z"/><path d="M464.7,59.9l2,2l-2,2l-2,-2z"/><path d="M462.2,69.1l2,2l-2,2l-2,-2z"/><path d="M481.6,49.1l2,2l-2,2l-2,-2z"/><path d="M489.3,52.1l2,2l-2,2l-2,-2z"/><path d="M474.7,63.7l2,2l-2,2l-2,-2z"/><path d="M452.9,67.2l2,2l-2,2l-2,-2z"/><path d="M481.4,59.8l2,2l-2,2l-2,-2z"/><path d="M464.6,62.5l2,2l-2,2l-2,-2z"/><path d="M490.7,50.5l2,2l-2,2l-2,-2z"/><path d="M468.2,67.7l2,2l-2,2l-2,-2z"/><path d="M475.1,51.5l2,2l-2,2l-2,-2z"/><path d="M474.7,58.3l2,2l-2,2l-2,-2z"/><path d="M489.3,59.8l2,2l-2,2l-2,-2z"/><path d="M478.8,62.3l2,2l-2,2l-2,-2z"/><path d="M472.6,47.8l2,2l-2,2l-2,-2z"/><path d="M474.3,58.3l2,2l-2,2l-2,-2z"/><path d="M475.2,60.7l2,2l-2,2l-2,-2z"/><path d="M480.4,50.7l2,2l-2,2l-2,-2z"/><path d="M490.8,60.4l2,2l-2,2l-2,-2z"/><path d="M466.2,51.4l2,2l-2,2l-2,-2z"/><path d="M469.8,57.9l2,2l-2,2l-2,-2z"/><path d="M481.9,61.7l2,2l-2,2l-2,-2z"/><path d="M488.2,53.5l2,2l-2,2l-2,-2z"/><path d="M485.5,49.1l2,2l-2,2l-2,-2z"/><path d="M480.1,54.9l2,2l-2,2l-2,-2z"/><path d="M474.2,64.8l2,2l-2,2l-2,-2z"/><path d="M454.4,69.7l2,2l-2,2l-2,-2z"/><path d="M451.8,75.5l2,2l-2,2l-2,-2z"/><path d="M454.0,76.3l2,2l-2,2l-2,-2z"/><path d="M482.7,51.7l2,2l-2,2l-2,-2z"/><path d="M451.6,64.2l2,2l-2,2l-2,-2z"/><path d="M458.0,72.4l2,2l-2,2l-2,-2z"/><path d="M476.9,57.9l2,2l-2,2l-2,-2z"/><path d="M465.6,56.7l2,2l-2,2l-2,-2z"/><path d="M450.7,75.4l2,2l-2,2l-2,-2z"/><path d="M492.1,53.7l2,2l-2,2l-2,-2z"/><path d="M487.9,59.6l2,2l-2,2l-2,-2z"/><path d="M450.3,77.8l2,2l-2,2l-2,-2z"/><path d="M474.0,52.4l2,2l-2,2l-2,-2z"/><path d="M435.0,70.4l2,2l-2,2l-2,-2z"/><path d="M443.5,71.0l2,2l-2,2l-2,-2z"/><path d="M442.7,83.4l2,2l-2,2l-2,-2z"/><path d="M448.1,80.2l2,2l-2,2l-2,-2z"/><path d="M429.7,82.7l2,2l-2,2l-2,-2z"/><path d="M439.1,64.4l2,2l-2,2l-2,-2z"/><path d="M428.4,86.6l2,2l-2,2l-2,-2z"/><path d="M446.8,64.5l2,2l-2,2l-2,-2z"/><path d="M438.7,87.7l2,2l-2,2l-2,-2z"/><path d="M444.3,63.0l2,2l-2,2l-2,-2z"/><path d="M449.0,75.1l2,2l-2,2l-2,-2z"/><path d="M443.5,77.4l2,2l-2,2l-2,-2z"/><path d="M431.1,94.4l2,2l-2,2l-2,-2z"/><path d="M435.2,86.8l2,2l-2,2l-2,-2z"/><path d="M447.1,81.0l2,2l-2,2l-2,-2z"/><path d="M435.5,66.6l2,2l-2,2l-2,-2z"/><path d="M442.3,84.4l2,2l-2,2l-2,-2z"/><path d="M438.6,63.5l2,2l-2,2l-2,-2z"/><path d="M443.9,83.3l2,2l-2,2l-2,-2z"/><path d="M446.8,78.0l2,2l-2,2l-2,-2z"/><path d="M443.3,83.3l2,2l-2,2l-2,-2z"/><path d="M448.6,60.1l2,2l-2,2l-2,-2z"/><path d="M431.8,94.1l2,2l-2,2l-2,-2z"/><path d="M447.3,66.7l2,2l-2,2l-2,-2z"/><path d="M431.9,80.4l2,2l-2,2l-2,-2z"/><path d="M442.3,69.8l2,2l-2,2l-2,-2z"/><path d="M448.3,77.9l2,2l-2,2l-2,-2z"/><path d="M444.2,65.9l2,2l-2,2l-2,-2z"/><path d="M428.2,97.1l2,2l-2,2l-2,-2z"/><path d="M447.8,62.4l2,2l-2,2l-2,-2z"/><path d="M435.3,91.2l2,2l-2,2l-2,-2z"/><path d="M430.2,97.2l2,2l-2,2l-2,-2z"/><path d="M451.2,77.2l2,2l-2,2l-2,-2z"/><path d="M436.4,87.6l2,2l-2,2l-2,-2z"/><path d="M430.4,80.6l2,2l-2,2l-2,-2z"/><path d="M433.1,48.8l2,2l-2,2l-2,-2z"/><path d="M435.1,63.3l2,2l-2,2l-2,-2z"/><path d="M435.7,71.4l2,2l-2,2l-2,-2z"/><path d="M410.4,120.0l2,2l-2,2l-2,-2z"/><path d="M405.2,130.0l2,2l-2,2l-2,-2z"/><path d="M399.5,137.3l2,2l-2,2l-2,-2z"/><path d="M497.7,64.3l2,2l-2,2l-2,-2z"/><path d="M491.6,48.2l2,2l-2,2l-2,-2z"/><path class="o w" d="M468.3,87.0l1.95,1.95l-1.95,1.95l-1.95,-1.95z"/><path class="o w" d="M432.1,111.7l1.95,1.95l-1.95,1.95l-1.95,-1.95z"/><path class="o w" d="M482.9,70.2l1.95,1.95l-1.95,1.95l-1.95,-1.95z"/><path class="o w" d="M481.3,69.9l1.95,1.95l-1.95,1.95l-1.95,-1.95z"/><path class="o w" d="M465.1,76.2l1.95,1.95l-1.95,1.95l-1.95,-1.95z"/><path class="o w" d="M488.8,65.1l1.95,1.95l-1.95,1.95l-1.95,-1.95z"/><path class="o w" d="M476.6,73.4l1.95,1.95l-1.95,1.95l-1.95,-1.95z"/><path class="o w" d="M473.3,84.8l1.95,1.95l-1.95,1.95l-1.95,-1.95z"/><path class="o w" d="M474.7,82.8l1.95,1.95l-1.95,1.95l-1.95,-1.95z"/><path class="o w" d="M468.2,84.6l1.95,1.95l-1.95,1.95l-1.95,-1.95z"/><path class="o w" d="M459.9,98.3l1.95,1.95l-1.95,1.95l-1.95,-1.95z"/><path class="o w" d="M479.1,72.5l1.95,1.95l-1.95,1.95l-1.95,-1.95z"/><path class="o w" d="M494.2,73.9l1.95,1.95l-1.95,1.95l-1.95,-1.95z"/><path class="o w" d="M494.6,75.7l1.95,1.95l-1.95,1.95l-1.95,-1.95z"/><path class="o w" d="M450.1,92.1l1.95,1.95l-1.95,1.95l-1.95,-1.95z"/><path class="o w" d="M485.2,82.0l1.95,1.95l-1.95,1.95l-1.95,-1.95z"/><path class="o w" d="M454.8,101.1l1.95,1.95l-1.95,1.95l-1.95,-1.95z"/><path class="o w" d="M485.6,74.3l1.95,1.95l-1.95,1.95l-1.95,-1.95z"/><path class="o w" d="M469.4,70.5l1.95,1.95l-1.95,1.95l-1.95,-1.95z"/><path class="o w" d="M488.2,78.6l1.95,1.95l-1.95,1.95l-1.95,-1.95z"/><path class="o w" d="M492.8,82.3l1.95,1.95l-1.95,1.95l-1.95,-1.95z"/><path class="o w" d="M468.4,92.3l1.95,1.95l-1.95,1.95l-1.95,-1.95z"/><path class="o w" d="M492.4,69.3l1.95,1.95l-1.95,1.95l-1.95,-1.95z"/><path class="o w" d="M465.5,76.2l1.95,1.95l-1.95,1.95l-1.95,-1.95z"/><path class="o w" d="M478.2,75.8l1.95,1.95l-1.95,1.95l-1.95,-1.95z"/><path class="o w" d="M450.0,85.6l1.95,1.95l-1.95,1.95l-1.95,-1.95z"/><path class="o w" d="M495.9,77.0l1.95,1.95l-1.95,1.95l-1.95,-1.95z"/><path class="o w" d="M459.6,93.5l1.95,1.95l-1.95,1.95l-1.95,-1.95z"/><path class="o w" d="M479.7,84.1l1.95,1.95l-1.95,1.95l-1.95,-1.95z"/><path class="o w" d="M447.1,89.8l1.95,1.95l-1.95,1.95l-1.95,-1.95z"/><path class="o w" d="M489.1,74.6l1.95,1.95l-1.95,1.95l-1.95,-1.95z"/><path class="o w" d="M465.5,73.2l1.95,1.95l-1.95,1.95l-1.95,-1.95z"/><path class="o w" d="M485.7,80.3l1.95,1.95l-1.95,1.95l-1.95,-1.95z"/><path class="o w" d="M463.7,83.0l1.95,1.95l-1.95,1.95l-1.95,-1.95z"/><path class="o w" d="M488.5,97.7l1.95,1.95l-1.95,1.95l-1.95,-1.95z"/><path class="o w" d="M485.0,87.7l1.95,1.95l-1.95,1.95l-1.95,-1.95z"/><path class="o w" d="M449.7,103.0l1.95,1.95l-1.95,1.95l-1.95,-1.95z"/><path class="o w" d="M481.3,83.0l1.95,1.95l-1.95,1.95l-1.95,-1.95z"/><path class="o w" d="M496.5,71.5l1.95,1.95l-1.95,1.95l-1.95,-1.95z"/><path class="o w" d="M492.7,68.5l1.95,1.95l-1.95,1.95l-1.95,-1.95z"/><path class="o w" d="M472.4,100.3l1.95,1.95l-1.95,1.95l-1.95,-1.95z"/><path class="o w" d="M485.1,74.1l1.95,1.95l-1.95,1.95l-1.95,-1.95z"/><path class="o w" d="M472.0,75.4l1.95,1.95l-1.95,1.95l-1.95,-1.95z"/><path class="o w" d="M490.9,81.0l1.95,1.95l-1.95,1.95l-1.95,-1.95z"/><path class="o w" d="M489.2,74.4l1.95,1.95l-1.95,1.95l-1.95,-1.95z"/><path class="o w" d="M460.6,101.6l1.95,1.95l-1.95,1.95l-1.95,-1.95z"/><path class="o w" d="M490.9,68.5l1.95,1.95l-1.95,1.95l-1.95,-1.95z"/><path class="o w" d="M496.2,65.7l1.95,1.95l-1.95,1.95l-1.95,-1.95z"/><path class="o w" d="M485.8,72.0l1.95,1.95l-1.95,1.95l-1.95,-1.95z"/><path class="o w" d="M492.2,89.7l1.95,1.95l-1.95,1.95l-1.95,-1.95z"/><path class="o w" d="M473.6,89.4l1.95,1.95l-1.95,1.95l-1.95,-1.95z"/><path class="o w" d="M452.6,96.8l1.95,1.95l-1.95,1.95l-1.95,-1.95z"/><path class="o w" d="M488.8,76.1l1.95,1.95l-1.95,1.95l-1.95,-1.95z"/><path class="o w" d="M489.9,78.3l1.95,1.95l-1.95,1.95l-1.95,-1.95z"/><path class="o w" d="M485.4,66.8l1.95,1.95l-1.95,1.95l-1.95,-1.95z"/><path class="o w" d="M494.2,78.9l1.95,1.95l-1.95,1.95l-1.95,-1.95z"/><path class="o w" d="M459.3,84.6l1.95,1.95l-1.95,1.95l-1.95,-1.95z"/><path class="o w" d="M481.7,79.5l1.95,1.95l-1.95,1.95l-1.95,-1.95z"/><path class="o w" d="M453.6,93.7l1.95,1.95l-1.95,1.95l-1.95,-1.95z"/><path class="o w" d="M491.9,77.5l1.95,1.95l-1.95,1.95l-1.95,-1.95z"/><path class="o w" d="M464.5,81.7l1.95,1.95l-1.95,1.95l-1.95,-1.95z"/><path class="o w" d="M454.7,102.3l1.95,1.95l-1.95,1.95l-1.95,-1.95z"/><path class="o w" d="M491.9,78.0l1.95,1.95l-1.95,1.95l-1.95,-1.95z"/><path class="o w" d="M480.6,70.3l1.95,1.95l-1.95,1.95l-1.95,-1.95z"/><path class="o w" d="M487.0,80.0l1.95,1.95l-1.95,1.95l-1.95,-1.95z"/><path class="o w" d="M492.0,71.3l1.95,1.95l-1.95,1.95l-1.95,-1.95z"/><path class="o w" d="M490.4,78.7l1.95,1.95l-1.95,1.95l-1.95,-1.95z"/><path class="o w" d="M497.0,81.7l1.95,1.95l-1.95,1.95l-1.95,-1.95z"/><path class="o w" d="M492.4,69.9l1.95,1.95l-1.95,1.95l-1.95,-1.95z"/><path class="o w" d="M494.6,73.8l1.95,1.95l-1.95,1.95l-1.95,-1.95z"/><path class="o w" d="M459.4,90.3l1.95,1.95l-1.95,1.95l-1.95,-1.95z"/><path class="o w" d="M448.5,98.0l1.95,1.95l-1.95,1.95l-1.95,-1.95z"/><path class="o w" d="M494.0,93.6l1.95,1.95l-1.95,1.95l-1.95,-1.95z"/><path class="o w" d="M477.0,82.5l1.95,1.95l-1.95,1.95l-1.95,-1.95z"/><path class="o w" d="M492.9,63.6l1.95,1.95l-1.95,1.95l-1.95,-1.95z"/><path class="o w" d="M493.7,75.4l1.95,1.95l-1.95,1.95l-1.95,-1.95z"/><path class="o w" d="M488.7,70.2l1.95,1.95l-1.95,1.95l-1.95,-1.95z"/><path class="o w" d="M477.3,102.5l1.95,1.95l-1.95,1.95l-1.95,-1.95z"/><path class="o w" d="M487.4,69.7l1.95,1.95l-1.95,1.95l-1.95,-1.95z"/><path class="o w" d="M482.4,66.6l1.95,1.95l-1.95,1.95l-1.95,-1.95z"/><path class="o w" d="M488.5,82.6l1.95,1.95l-1.95,1.95l-1.95,-1.95z"/><path class="o w" d="M448.8,92.2l1.95,1.95l-1.95,1.95l-1.95,-1.95z"/><path class="o w" d="M470.6,78.6l1.95,1.95l-1.95,1.95l-1.95,-1.95z"/><path class="o w" d="M481.8,75.2l1.95,1.95l-1.95,1.95l-1.95,-1.95z"/><path class="o w" d="M485.2,69.9l1.95,1.95l-1.95,1.95l-1.95,-1.95z"/><path class="o w" d="M471.1,78.1l1.95,1.95l-1.95,1.95l-1.95,-1.95z"/><path class="o w" d="M449.7,95.7l1.95,1.95l-1.95,1.95l-1.95,-1.95z"/><path class="o w" d="M494.5,80.4l1.95,1.95l-1.95,1.95l-1.95,-1.95z"/><path class="o w" d="M495.1,91.9l1.95,1.95l-1.95,1.95l-1.95,-1.95z"/><path class="o w" d="M466.9,85.4l1.95,1.95l-1.95,1.95l-1.95,-1.95z"/><path class="o w" d="M468.4,91.9l1.95,1.95l-1.95,1.95l-1.95,-1.95z"/><path class="o w" d="M454.8,85.7l1.95,1.95l-1.95,1.95l-1.95,-1.95z"/><path class="o w" d="M487.9,89.8l1.95,1.95l-1.95,1.95l-1.95,-1.95z"/><path class="o w" d="M486.1,97.8l1.95,1.95l-1.95,1.95l-1.95,-1.95z"/><path class="o w" d="M474.6,83.6l1.95,1.95l-1.95,1.95l-1.95,-1.95z"/><path class="o w" d="M491.4,71.8l1.95,1.95l-1.95,1.95l-1.95,-1.95z"/><path class="o w" d="M492.0,75.4l1.95,1.95l-1.95,1.95l-1.95,-1.95z"/><path class="o w" d="M446.2,115.6l1.95,1.95l-1.95,1.95l-1.95,-1.95z"/><path class="o w" d="M445.6,87.8l1.95,1.95l-1.95,1.95l-1.95,-1.95z"/><path class="o w" d="M487.0,88.4l1.95,1.95l-1.95,1.95l-1.95,-1.95z"/><path class="o w" d="M471.2,72.6l1.95,1.95l-1.95,1.95l-1.95,-1.95z"/><path class="o w" d="M494.1,66.6l1.95,1.95l-1.95,1.95l-1.95,-1.95z"/><path class="o w" d="M460.9,91.7l1.95,1.95l-1.95,1.95l-1.95,-1.95z"/><path class="o w" d="M471.1,88.5l1.95,1.95l-1.95,1.95l-1.95,-1.95z"/><path class="o w" d="M455.4,102.4l1.95,1.95l-1.95,1.95l-1.95,-1.95z"/><path class="o w" d="M493.3,88.3l1.95,1.95l-1.95,1.95l-1.95,-1.95z"/><path class="o w" d="M494.1,63.8l1.95,1.95l-1.95,1.95l-1.95,-1.95z"/><path class="o w" d="M485.8,77.2l1.95,1.95l-1.95,1.95l-1.95,-1.95z"/><path class="o w" d="M497.1,81.3l1.95,1.95l-1.95,1.95l-1.95,-1.95z"/><path class="o w" d="M488.2,78.5l1.95,1.95l-1.95,1.95l-1.95,-1.95z"/><path class="o w" d="M463.9,98.3l1.95,1.95l-1.95,1.95l-1.95,-1.95z"/><path class="o w" d="M473.4,81.5l1.95,1.95l-1.95,1.95l-1.95,-1.95z"/><path class="o w" d="M493.5,71.9l1.95,1.95l-1.95,1.95l-1.95,-1.95z"/><path class="o w" d="M488.7,83.3l1.95,1.95l-1.95,1.95l-1.95,-1.95z"/><path class="o w" d="M493.0,63.8l1.95,1.95l-1.95,1.95l-1.95,-1.95z"/><path class="o w" d="M495.5,77.2l1.95,1.95l-1.95,1.95l-1.95,-1.95z"/><path class="o w" d="M487.2,82.4l1.95,1.95l-1.95,1.95l-1.95,-1.95z"/><path class="o w" d="M454.7,92.0l1.95,1.95l-1.95,1.95l-1.95,-1.95z"/><path class="o w" d="M462.2,98.3l1.95,1.95l-1.95,1.95l-1.95,-1.95z"/><path class="o w" d="M492.1,68.8l1.95,1.95l-1.95,1.95l-1.95,-1.95z"/><path class="o w" d="M471.3,87.8l1.95,1.95l-1.95,1.95l-1.95,-1.95z"/><path class="o w" d="M490.3,74.2l1.95,1.95l-1.95,1.95l-1.95,-1.95z"/><path class="o w" d="M451.9,80.3l1.95,1.95l-1.95,1.95l-1.95,-1.95z"/><path class="o w" d="M489.8,73.6l1.95,1.95l-1.95,1.95l-1.95,-1.95z"/><path class="o w" d="M487.5,91.7l1.95,1.95l-1.95,1.95l-1.95,-1.95z"/><path class="o w" d="M490.9,86.3l1.95,1.95l-1.95,1.95l-1.95,-1.95z"/><path class="o w" d="M490.1,79.9l1.95,1.95l-1.95,1.95l-1.95,-1.95z"/><path class="o w" d="M485.9,84.1l1.95,1.95l-1.95,1.95l-1.95,-1.95z"/><path class="o w" d="M496.7,82.6l1.95,1.95l-1.95,1.95l-1.95,-1.95z"/><path class="o w" d="M485.7,74.1l1.95,1.95l-1.95,1.95l-1.95,-1.95z"/><path class="o w" d="M469.3,96.1l1.95,1.95l-1.95,1.95l-1.95,-1.95z"/><path class="o w" d="M487.0,78.7l1.95,1.95l-1.95,1.95l-1.95,-1.95z"/><path class="o w" d="M476.3,74.8l1.95,1.95l-1.95,1.95l-1.95,-1.95z"/><path class="o w" d="M489.4,81.9l1.95,1.95l-1.95,1.95l-1.95,-1.95z"/><path class="o w" d="M487.4,74.9l1.95,1.95l-1.95,1.95l-1.95,-1.95z"/><path class="o w" d="M446.0,107.9l1.95,1.95l-1.95,1.95l-1.95,-1.95z"/><path class="o w" d="M495.7,62.6l1.95,1.95l-1.95,1.95l-1.95,-1.95z"/><path class="o w" d="M450.7,83.8l1.95,1.95l-1.95,1.95l-1.95,-1.95z"/><path class="o w" d="M489.0,94.1l1.95,1.95l-1.95,1.95l-1.95,-1.95z"/><path class="o w" d="M467.9,90.4l1.95,1.95l-1.95,1.95l-1.95,-1.95z"/><path class="o w" d="M484.3,66.4l1.95,1.95l-1.95,1.95l-1.95,-1.95z"/><path class="o w" d="M476.0,78.8l1.95,1.95l-1.95,1.95l-1.95,-1.95z"/><path class="o w" d="M489.3,65.4l1.95,1.95l-1.95,1.95l-1.95,-1.95z"/><path class="o w" d="M494.7,86.9l1.95,1.95l-1.95,1.95l-1.95,-1.95z"/><path class="o w" d="M456.6,104.0l1.95,1.95l-1.95,1.95l-1.95,-1.95z"/><path class="o w" d="M482.9,67.2l1.95,1.95l-1.95,1.95l-1.95,-1.95z"/><path class="o w" d="M495.8,62.0l1.95,1.95l-1.95,1.95l-1.95,-1.95z"/><path class="o w" d="M475.0,80.4l1.95,1.95l-1.95,1.95l-1.95,-1.95z"/><path class="o w" d="M429.2,104.6l1.95,1.95l-1.95,1.95l-1.95,-1.95z"/><path class="o w" d="M476.8,73.6l1.95,1.95l-1.95,1.95l-1.95,-1.95z"/><path class="o w" d="M467.4,78.8l1.95,1.95l-1.95,1.95l-1.95,-1.95z"/><path class="o w" d="M458.6,78.1l1.95,1.95l-1.95,1.95l-1.95,-1.95z"/><path class="o w" d="M496.7,76.9l1.95,1.95l-1.95,1.95l-1.95,-1.95z"/><path class="o w" d="M443.3,88.0l1.95,1.95l-1.95,1.95l-1.95,-1.95z"/><path class="o w" d="M495.9,64.9l1.95,1.95l-1.95,1.95l-1.95,-1.95z"/><path class="o w" d="M448.6,106.8l1.95,1.95l-1.95,1.95l-1.95,-1.95z"/><path class="o w" d="M431.1,124.7l1.95,1.95l-1.95,1.95l-1.95,-1.95z"/><path class="o w" d="M492.4,88.8l1.95,1.95l-1.95,1.95l-1.95,-1.95z"/><path class="o w" d="M438.8,96.5l1.95,1.95l-1.95,1.95l-1.95,-1.95z"/><path class="o w" d="M487.3,83.5l1.95,1.95l-1.95,1.95l-1.95,-1.95z"/><path class="o w" d="M477.9,80.9l1.95,1.95l-1.95,1.95l-1.95,-1.95z"/><path class="o w" d="M467.4,71.2l1.95,1.95l-1.95,1.95l-1.95,-1.95z"/><path class="o w" d="M473.4,85.6l1.95,1.95l-1.95,1.95l-1.95,-1.95z"/><path class="o w" d="M460.7,88.5l1.95,1.95l-1.95,1.95l-1.95,-1.95z"/><path class="o w" d="M456.8,84.4l1.95,1.95l-1.95,1.95l-1.95,-1.95z"/><path class="o w" d="M475.5,69.1l1.95,1.95l-1.95,1.95l-1.95,-1.95z"/><path class="o w" d="M460.1,94.1l1.95,1.95l-1.95,1.95l-1.95,-1.95z"/><path class="o w" d="M437.2,112.8l1.95,1.95l-1.95,1.95l-1.95,-1.95z"/><path class="o w" d="M457.1,88.0l1.95,1.95l-1.95,1.95l-1.95,-1.95z"/><path class="o w" d="M489.1,71.4l1.95,1.95l-1.95,1.95l-1.95,-1.95z"/><path class="o w" d="M495.2,68.0l1.95,1.95l-1.95,1.95l-1.95,-1.95z"/><path class="o w" d="M497.1,80.8l1.95,1.95l-1.95,1.95l-1.95,-1.95z"/><path class="o w" d="M462.1,89.6l1.95,1.95l-1.95,1.95l-1.95,-1.95z"/><path class="o w" d="M496.4,74.4l1.95,1.95l-1.95,1.95l-1.95,-1.95z"/><path class="o w" d="M480.7,47.1l1.95,1.95l-1.95,1.95l-1.95,-1.95z"/><path class="o w" d="M472.6,63.0l1.95,1.95l-1.95,1.95l-1.95,-1.95z"/><path class="o w" d="M480.7,51.5l1.95,1.95l-1.95,1.95l-1.95,-1.95z"/><path class="o w" d="M474.3,65.1l1.95,1.95l-1.95,1.95l-1.95,-1.95z"/><path class="o w" d="M473.4,53.0l1.95,1.95l-1.95,1.95l-1.95,-1.95z"/><path class="o w" d="M487.2,46.9l1.95,1.95l-1.95,1.95l-1.95,-1.95z"/><path class="o w" d="M468.0,57.0l1.95,1.95l-1.95,1.95l-1.95,-1.95z"/><path class="o w" d="M463.4,57.7l1.95,1.95l-1.95,1.95l-1.95,-1.95z"/><path class="o w" d="M463.0,58.9l1.95,1.95l-1.95,1.95l-1.95,-1.95z"/><path class="o w" d="M473.9,65.3l1.95,1.95l-1.95,1.95l-1.95,-1.95z"/><path class="o w" d="M478.9,58.7l1.95,1.95l-1.95,1.95l-1.95,-1.95z"/><path class="o w" d="M495.7,54.2l1.95,1.95l-1.95,1.95l-1.95,-1.95z"/><path class="o w" d="M396.5,84.0l1.95,1.95l-1.95,1.95l-1.95,-1.95z"/><path class="o w" d="M433.1,40.5l1.95,1.95l-1.95,1.95l-1.95,-1.95z"/><path class="o w" d="M446.6,37.5l1.95,1.95l-1.95,1.95l-1.95,-1.95z"/><path class="o w" d="M459.7,39.8l1.95,1.95l-1.95,1.95l-1.95,-1.95z"/><path class="o w" d="M467.0,38.1l1.95,1.95l-1.95,1.95l-1.95,-1.95z"/><path class="o w" d="M473.5,35.5l1.95,1.95l-1.95,1.95l-1.95,-1.95z"/><path class="o w" d="M451.7,46.2l1.95,1.95l-1.95,1.95l-1.95,-1.95z"/><path class="o w" d="M458.3,45.8l1.95,1.95l-1.95,1.95l-1.95,-1.95z"/><path class="o w" d="M453.9,53.8l1.95,1.95l-1.95,1.95l-1.95,-1.95z"/><path class="o w" d="M447.2,58.3l1.95,1.95l-1.95,1.95l-1.95,-1.95z"/><path class="o w" d="M452.3,60.8l1.95,1.95l-1.95,1.95l-1.95,-1.95z"/><path class="o w" d="M436.5,62.3l1.95,1.95l-1.95,1.95l-1.95,-1.95z"/><path class="o w" d="M456.3,66.3l1.95,1.95l-1.95,1.95l-1.95,-1.95z"/><path class="o w" d="M428.1,81.0l1.95,1.95l-1.95,1.95l-1.95,-1.95z"/><path class="o w" d="M444.2,81.0l1.95,1.95l-1.95,1.95l-1.95,-1.95z"/><path class="o w" d="M478.5,49.2l1.95,1.95l-1.95,1.95l-1.95,-1.95z"/><path class="o w" d="M480.5,50.6l1.95,1.95l-1.95,1.95l-1.95,-1.95z"/><path class="o w" d="M484.6,53.2l1.95,1.95l-1.95,1.95l-1.95,-1.95z"/><path class="o w" d="M478.5,57.9l1.95,1.95l-1.95,1.95l-1.95,-1.95z"/><path class="o w" d="M483.6,57.9l1.95,1.95l-1.95,1.95l-1.95,-1.95z"/><path class="o w" d="M488.6,54.2l1.95,1.95l-1.95,1.95l-1.95,-1.95z"/><path class="o w" d="M406.4,110.1l1.95,1.95l-1.95,1.95l-1.95,-1.95z"/><path class="o w" d="M401.8,114.8l1.95,1.95l-1.95,1.95l-1.95,-1.95z"/><path class="o w" d="M412.1,115.8l1.95,1.95l-1.95,1.95l-1.95,-1.95z"/><path class="o w" d="M397.8,126.5l1.95,1.95l-1.95,1.95l-1.95,-1.95z"/><path class="o w" d="M395.5,143.4l1.95,1.95l-1.95,1.95l-1.95,-1.95z"/></g>
<path class="band" d="M48.2,56.0 L50.4,63.0 L52.6,69.9 L54.8,76.9 L56.9,83.9 L59.1,90.8 L61.3,97.8 L63.5,104.8 L64.6,108.4 L65.6,108.9 L67.8,109.9 L70.0,111.0 L72.2,112.2 L74.3,113.4 L76.5,114.7 L78.7,116.1 L80.9,117.4 L83.0,118.9 L85.2,120.4 L87.4,122.0 L89.6,123.7 L91.7,125.4 L93.9,127.3 L96.1,129.1 L98.3,130.9 L100.4,132.7 L102.6,134.5 L104.8,136.3 L107.0,138.2 L109.1,140.1 L111.3,141.9 L113.5,143.7 L115.7,145.3 L117.8,146.9 L120.0,148.4 L122.2,149.9 L124.4,151.3 L126.5,152.7 L128.7,154.1 L130.9,155.3 L133.1,156.6 L135.2,157.8 L137.4,159.0 L139.6,160.1 L141.8,161.3 L143.9,162.3 L146.1,163.4 L148.3,164.4 L150.5,165.4 L152.6,166.4 L154.8,167.3 L157.0,168.3 L159.2,169.2 L161.3,170.1 L163.5,171.0 L165.7,171.9 L167.9,172.7 L170.0,173.5 L172.2,174.4 L174.4,175.1 L176.6,175.9 L178.7,176.6 L180.9,177.3 L183.1,178.0 L185.3,178.6 L187.4,179.3 L189.6,179.9 L191.8,180.6 L194.0,181.2 L196.1,181.7 L198.3,182.3 L200.5,182.8 L202.7,183.3 L204.8,183.8 L207.0,184.2 L209.2,184.6 L211.4,185.0 L213.5,185.4 L215.7,185.8 L217.9,186.1 L220.1,186.5 L222.2,186.8 L224.4,187.2 L226.6,187.5 L228.8,187.8 L230.9,188.0 L233.1,188.3 L235.3,188.5 L237.5,188.7 L239.6,188.9 L241.8,189.1 L241.8,195.1 L239.6,194.9 L237.5,194.8 L235.3,194.6 L233.1,194.4 L230.9,194.2 L228.8,193.9 L226.6,193.7 L224.4,193.4 L222.2,193.2 L220.1,192.9 L217.9,192.6 L215.7,192.3 L213.5,192.0 L211.4,191.7 L209.2,191.4 L207.0,191.1 L204.8,190.8 L202.7,190.4 L200.5,190.0 L198.3,189.6 L196.1,189.2 L194.0,188.8 L191.8,188.4 L189.6,187.9 L187.4,187.4 L185.3,186.9 L183.1,186.4 L180.9,185.9 L178.7,185.4 L176.6,184.8 L174.4,184.2 L172.2,183.6 L170.0,182.9 L167.9,182.3 L165.7,181.6 L163.5,180.9 L161.3,180.2 L159.2,179.5 L157.0,178.8 L154.8,178.1 L152.6,177.5 L150.5,176.8 L148.3,176.2 L146.1,175.7 L143.9,175.2 L141.8,174.7 L139.6,174.1 L137.4,173.5 L135.2,172.7 L133.1,171.8 L130.9,170.8 L128.7,169.6 L126.5,168.4 L124.4,167.2 L122.2,165.9 L120.0,164.7 L117.8,163.4 L115.7,162.1 L113.5,160.7 L111.3,159.3 L109.1,157.9 L107.0,156.5 L104.8,155.0 L102.6,153.6 L100.4,152.1 L98.3,150.6 L96.1,149.0 L93.9,147.4 L91.7,145.7 L89.6,144.1 L87.4,142.5 L85.2,140.9 L83.0,139.4 L80.9,137.9 L78.7,136.5 L76.5,135.1 L74.3,133.7 L72.2,132.4 L70.0,131.0 L67.8,129.8 L65.6,128.5 L64.6,127.9 L63.5,125.1 L61.3,119.8 L59.1,114.5 L56.9,109.2 L54.8,103.9 L52.6,98.6 L50.4,93.3 L48.2,88.0Z"/>
<path class="band" d="M304.2,218.0 L306.4,217.3 L308.6,216.5 L310.7,215.6 L312.9,214.8 L315.1,213.8 L317.3,212.9 L319.4,211.9 L321.6,210.8 L323.8,209.7 L326.0,208.4 L328.1,207.2 L330.3,205.9 L332.5,204.7 L334.7,203.5 L336.8,202.4 L339.0,201.3 L341.2,200.3 L343.4,199.2 L345.5,198.1 L347.7,196.9 L349.9,195.7 L352.1,194.5 L354.2,193.2 L356.4,191.7 L358.6,190.1 L360.8,188.1 L362.9,185.9 L365.1,183.5 L367.3,181.1 L369.5,178.8 L371.6,176.5 L373.8,174.1 L376.0,171.7 L378.2,169.2 L380.3,166.6 L382.5,163.9 L384.7,161.1 L386.9,158.0 L389.0,154.7 L391.2,151.3 L393.4,148.0 L395.6,144.6 L397.7,141.3 L399.9,138.3 L402.1,135.5 L404.3,132.7 L406.4,130.0 L408.6,127.2 L410.8,124.4 L413.0,121.5 L415.1,118.7 L417.3,115.8 L419.5,113.0 L421.7,110.2 L423.8,107.5 L426.0,104.7 L428.2,102.0 L430.4,99.4 L432.5,96.9 L434.7,94.5 L436.9,92.1 L439.1,90.0 L441.2,88.0 L443.4,86.1 L445.6,84.4 L447.8,82.7 L449.9,81.1 L452.1,79.6 L454.3,78.1 L456.5,76.8 L458.6,75.5 L460.8,74.2 L463.0,73.0 L465.2,71.8 L467.3,70.6 L469.5,69.5 L471.7,68.4 L473.9,67.4 L476.0,66.5 L478.2,65.7 L480.4,65.0 L482.6,64.3 L484.7,63.7 L486.9,63.2 L489.1,62.8 L491.3,62.4 L493.4,62.0 L495.6,61.7 L497.8,61.5 L497.8,109.6 L495.6,109.6 L493.4,109.7 L491.3,109.9 L489.1,110.0 L486.9,110.2 L484.7,110.4 L482.6,110.7 L480.4,111.0 L478.2,111.4 L476.0,111.8 L473.9,112.4 L471.7,113.2 L469.5,114.3 L467.3,115.6 L465.2,116.8 L463.0,118.0 L460.8,119.1 L458.6,120.1 L456.5,121.1 L454.3,122.2 L452.1,123.3 L449.9,124.7 L447.8,126.1 L445.6,127.7 L443.4,129.4 L441.2,131.1 L439.1,133.0 L436.9,134.9 L434.7,136.8 L432.5,138.9 L430.4,141.0 L428.2,143.2 L426.0,145.5 L423.8,147.8 L421.7,150.3 L419.5,152.8 L417.3,155.5 L415.1,158.2 L413.0,161.0 L410.8,163.8 L408.6,166.6 L406.4,169.7 L404.3,172.8 L402.1,175.8 L399.9,178.4 L397.7,180.9 L395.6,183.4 L393.4,185.7 L391.2,188.0 L389.0,190.1 L386.9,192.1 L384.7,194.0 L382.5,195.8 L380.3,197.6 L378.2,199.3 L376.0,200.9 L373.8,202.4 L371.6,203.8 L369.5,205.1 L367.3,206.2 L365.1,207.2 L362.9,208.0 L360.8,208.7 L358.6,209.5 L356.4,210.3 L354.2,211.1 L352.1,212.0 L349.9,212.8 L347.7,213.4 L345.5,213.9 L343.4,214.4 L341.2,214.7 L339.0,215.0 L336.8,215.3 L334.7,215.6 L332.5,215.9 L330.3,216.1 L328.1,216.4 L326.0,216.6 L323.8,216.9 L321.6,217.1 L319.4,217.3 L317.3,217.5 L315.1,217.7 L312.9,217.9 L310.7,218.1 L308.6,218.3 L306.4,218.4 L304.2,218.6Z"/>
<path class="med" d="M48.2,72.0 L50.4,78.1 L52.6,84.2 L54.8,90.3 L56.9,96.4 L59.1,102.5 L61.3,108.6 L63.5,114.7 L64.6,117.9 L65.6,118.5 L67.8,119.8 L70.0,121.1 L72.2,122.4 L74.3,123.7 L76.5,125.1 L78.7,126.5 L80.9,127.9 L83.0,129.4 L85.2,130.8 L87.4,132.3 L89.6,133.8 L91.7,135.4 L93.9,137.0 L96.1,138.7 L98.3,140.4 L100.4,142.1 L102.6,143.8 L104.8,145.5 L107.0,147.1 L109.1,148.7 L111.3,150.3 L113.5,151.8 L115.7,153.2 L117.8,154.6 L120.0,156.0 L122.2,157.3 L124.4,158.6 L126.5,159.8 L128.7,161.1 L130.9,162.3 L133.1,163.5 L135.2,164.6 L137.4,165.7 L139.6,166.7 L141.8,167.7 L143.9,168.6 L146.1,169.5 L148.3,170.4 L150.5,171.2 L152.6,171.9 L154.8,172.6 L157.0,173.4 L159.2,174.1 L161.3,174.9 L163.5,175.7 L165.7,176.5 L167.9,177.4 L170.0,178.2 L172.2,179.0 L174.4,179.8 L176.6,180.5 L178.7,181.2 L180.9,181.9 L183.1,182.5 L185.3,183.0 L187.4,183.6 L189.6,184.1 L191.8,184.6 L194.0,185.1 L196.1,185.6 L198.3,186.1 L200.5,186.5 L202.7,186.9 L204.8,187.3 L207.0,187.7 L209.2,188.1 L211.4,188.4 L213.5,188.8 L215.7,189.1 L217.9,189.4 L220.1,189.7 L222.2,190.0 L224.4,190.3 L226.6,190.5 L228.8,190.8 L230.9,191.0 L233.1,191.3 L235.3,191.5 L237.5,191.7 L239.6,191.9 L241.8,192.1"/>
<path class="med" d="M304.2,218.3 L306.4,217.8 L308.6,217.2 L310.7,216.7 L312.9,216.1 L315.1,215.6 L317.3,215.0 L319.4,214.4 L321.6,213.9 L323.8,213.3 L326.0,212.7 L328.1,212.2 L330.3,211.6 L332.5,211.0 L334.7,210.4 L336.8,209.8 L339.0,209.2 L341.2,208.6 L343.4,207.9 L345.5,207.2 L347.7,206.2 L349.9,205.1 L352.1,203.7 L354.2,202.3 L356.4,200.9 L358.6,199.4 L360.8,198.0 L362.9,196.5 L365.1,194.9 L367.3,193.2 L369.5,191.5 L371.6,189.7 L373.8,187.8 L376.0,185.8 L378.2,183.9 L380.3,181.8 L382.5,179.7 L384.7,177.6 L386.9,175.4 L389.0,173.2 L391.2,170.9 L393.4,168.5 L395.6,166.0 L397.7,163.5 L399.9,160.8 L402.1,158.0 L404.3,155.2 L406.4,152.3 L408.6,149.5 L410.8,146.7 L413.0,143.9 L415.1,141.0 L417.3,138.1 L419.5,135.3 L421.7,132.5 L423.8,129.8 L426.0,127.2 L428.2,124.6 L430.4,122.0 L432.5,119.6 L434.7,117.3 L436.9,115.2 L439.1,113.2 L441.2,111.3 L443.4,109.6 L445.6,107.9 L447.8,106.2 L449.9,104.7 L452.1,103.3 L454.3,101.9 L456.5,100.6 L458.6,99.3 L460.8,98.2 L463.0,97.2 L465.2,96.4 L467.3,95.6 L469.5,95.0 L471.7,94.3 L473.9,93.7 L476.0,93.0 L478.2,92.3 L480.4,91.5 L482.6,90.8 L484.7,90.2 L486.9,89.7 L489.1,89.3 L491.3,88.9 L493.4,88.5 L495.6,88.2 L497.8,88.0"/>
<g class="p"><rect class="box" x="151.1" y="37.0" width="81.3" height="35.1" style="fill:#fff"/>
<circle class="o" cx="161.9" cy="44.2" r="1.3"/>
<text class="lg" x="172.4" y="46.3">Japanese HVs</text>
<circle cx="161.9" cy="51.3" r="1.6"/>
<text class="lg" x="172.4" y="53.4">Caucasian HVs</text>
<path class="o" d="M161.9,56.8l1.6,1.6l-1.6,1.6l-1.6,-1.6z"/>
<text class="lg" x="172.4" y="60.5">Japanese PwCHAwoI</text>
<path d="M161.9,63.9l1.65,1.65l-1.65,1.65l-1.65,-1.65z"/>
<text class="lg" x="172.4" y="67.6">Japanese PwCHAwI</text><rect class="box" x="319.3" y="37.2" width="81.3" height="35.1" style="fill:#fff"/>
<circle class="o" cx="330.1" cy="44.4" r="1.3"/>
<text class="lg" x="340.2" y="46.5">Japanese HVs</text>
<circle cx="330.1" cy="51.5" r="1.6"/>
<text class="lg" x="340.2" y="53.6">Caucasian HVs</text>
<path class="o" d="M330.1,57.0l1.6,1.6l-1.6,1.6l-1.6,-1.6z"/>
<text class="lg" x="340.2" y="60.7">Japanese PwCHAwoI</text>
<path d="M330.1,64.0l1.65,1.65l-1.65,1.65l-1.65,-1.65z"/>
<text class="lg" x="340.2" y="67.8">Japanese PwCHAwI</text></g>
</g></svg>
<div class="cl" style="top:263.10px"><b>Figure.</b> Comparison of the observed C-R relationship in the <i>in vivo</i> exposed plasma from HVs and PwCHA with the PopPD model-predicted C-R</div><div class="cl" style="top:271.91px">relationship in the <i>ex vivo</i> spiked plasma from HVs for <b>(a)</b> APTT and <b>(b)</b> TG peak height. Plasma emicizumab concentrations below the lower limit of</div><div class="cl" style="top:280.72px">quantification (BLQ; &lt;0.05 μg/mL) before first administration and those for subjects receiving placebo were handled as 0 μg/mL. Undetectable TG peak</div><div class="cl" style="top:289.53px">heights were handled as BLQ (&lt;2 nmol/L) in the PopPD modeling and as 0 nmol/L in this plot. Other unquantifiable observations and data during a post-</div><div class="cl" style="top:298.34px">emicizumab follow-up in PwCHA were excluded. Circles and diamonds represent the individual observations in the <i>in vivo</i> exposed plasma from HVs with</div><div class="cl" style="top:307.15px">and from PwCHA without <i>ex vivo</i> FVIII neutralization, respectively. Solid curve and shaded area represent the PopPD model-predicted median and 5<sup>th</sup> to</div><div class="cl" style="top:315.96px">95<sup>th</sup> percentile range (90% prediction interval [PI]), respectively, in the <i>ex vivo</i> spiked plasma from HVs with <i>ex vivo</i> FVIII neutralization. The reference</div><div class="cl" style="top:324.77px">ranges for APTT and TG peak height are 25.9 to 36.9 seconds and 316 to 489 nmol/L, respectively, which were derived as the mean ± 1.96 standard</div><div class="cl last" style="top:333.58px">deviations of the baseline observations in HVs without <i>ex vivo</i> FVIII neutralization.</div>
</div></body></html>
